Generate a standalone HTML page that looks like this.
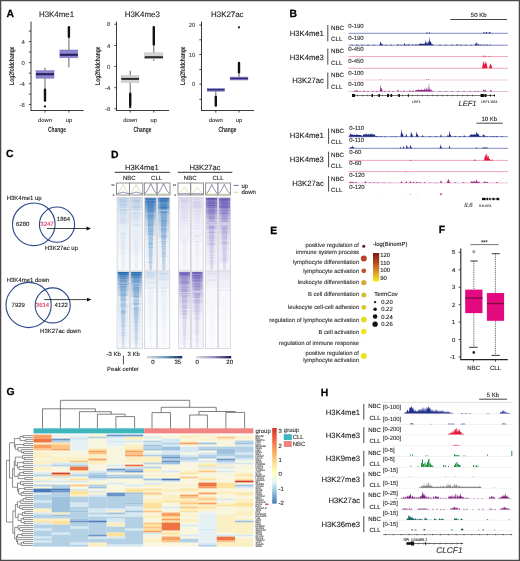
<!DOCTYPE html>
<html><head><meta charset="utf-8"><style>
html,body{margin:0;padding:0;background:#fff;}
svg{display:block;font-family:"Liberation Sans",sans-serif;will-change:transform;filter:blur(0.3px);text-rendering:geometricPrecision;}
</style></head><body>
<svg width="520" height="561" viewBox="0 0 520 561">
<rect width="520" height="561" fill="#fff"/>
<text x="6.6" y="16.89" font-size="10.4" text-anchor="start" font-weight="bold" font-style="normal" fill="#000" stroke="#000" stroke-width="0.25" >A</text>
<line x1="31" y1="21.6" x2="31" y2="110.5" stroke="#222" stroke-width="0.9" />
<line x1="30.55" y1="110.5" x2="83.5" y2="110.5" stroke="#222" stroke-width="0.9" />
<line x1="28.8" y1="31.1" x2="31" y2="31.1" stroke="#222" stroke-width="0.8" />
<line x1="28.8" y1="41.6" x2="31" y2="41.6" stroke="#222" stroke-width="0.8" />
<text x="24.8" y="43.72" font-size="5.9" text-anchor="end" font-weight="normal" font-style="normal" fill="#444" stroke="#444" stroke-width="0.12" >4</text>
<line x1="28.8" y1="52.1" x2="31" y2="52.1" stroke="#222" stroke-width="0.8" />
<line x1="28.8" y1="62.6" x2="31" y2="62.6" stroke="#222" stroke-width="0.8" />
<text x="24.8" y="64.72" font-size="5.9" text-anchor="end" font-weight="normal" font-style="normal" fill="#444" stroke="#444" stroke-width="0.12" >0</text>
<line x1="28.8" y1="73.15" x2="31" y2="73.15" stroke="#222" stroke-width="0.8" />
<line x1="28.8" y1="83.7" x2="31" y2="83.7" stroke="#222" stroke-width="0.8" />
<text x="24.8" y="85.82" font-size="5.9" text-anchor="end" font-weight="normal" font-style="normal" fill="#444" stroke="#444" stroke-width="0.12" >-4</text>
<line x1="28.8" y1="94.15" x2="31" y2="94.15" stroke="#222" stroke-width="0.8" />
<line x1="28.8" y1="104.6" x2="31" y2="104.6" stroke="#222" stroke-width="0.8" />
<text x="24.8" y="106.72" font-size="5.9" text-anchor="end" font-weight="normal" font-style="normal" fill="#444" stroke="#444" stroke-width="0.12" >-8</text>
<text x="56.5" y="16.54" font-size="7.9" text-anchor="middle" font-weight="normal" font-style="normal" fill="#222" stroke="#222" stroke-width="0.12" >H3K4me1</text>
<text x="0" y="0" font-size="7.6" font-weight="bold" text-anchor="middle" fill="#222" transform="translate(57 131.9) scale(0.64 1)">Change</text>
<text x="0" y="0" font-size="7.0" font-weight="bold" text-anchor="middle" fill="#222" transform="translate(14 65.7) rotate(-90) scale(0.71 1)">Log2foldchange</text>
<line x1="45" y1="67.8" x2="45" y2="70.7" stroke="#555" stroke-width="0.9" />
<line x1="45" y1="78.2" x2="45" y2="89.5" stroke="#555" stroke-width="0.9" />
<rect x="43.8" y="88.5" width="2.4" height="13.3" rx="1.2" fill="#111"/>
<circle cx="45" cy="106.4" r="1.1" fill="#111" />
<rect x="36" y="70.7" width="18" height="7.5" fill="#8b83cc" stroke="#7a72bd" stroke-width="0.5"/>
<rect x="36" y="73.2" width="18" height="2" fill="#221c5c" />
<line x1="45" y1="110.5" x2="45" y2="112.6" stroke="#222" stroke-width="0.8" />
<text x="45" y="122.29" font-size="5.8" text-anchor="middle" font-weight="normal" font-style="normal" fill="#333" stroke="#333" stroke-width="0.12" >down</text>
<line x1="68.9" y1="37.5" x2="68.9" y2="50" stroke="#555" stroke-width="0.9" />
<line x1="68.9" y1="57.8" x2="68.9" y2="67.3" stroke="#555" stroke-width="0.9" />
<rect x="67.7" y="26" width="2.4" height="12" rx="1.2" fill="#111"/>
<rect x="59.9" y="50" width="17.9" height="7.8" fill="#8b83cc" stroke="#7a72bd" stroke-width="0.5"/>
<rect x="59.9" y="53.8" width="17.9" height="2" fill="#221c5c" />
<line x1="68.9" y1="110.5" x2="68.9" y2="112.6" stroke="#222" stroke-width="0.8" />
<text x="68.9" y="122.29" font-size="5.8" text-anchor="middle" font-weight="normal" font-style="normal" fill="#333" stroke="#333" stroke-width="0.12" >up</text>
<line x1="116.5" y1="21.6" x2="116.5" y2="110.5" stroke="#222" stroke-width="0.9" />
<line x1="116.05" y1="110.5" x2="169" y2="110.5" stroke="#222" stroke-width="0.9" />
<line x1="114.3" y1="24.2" x2="116.5" y2="24.2" stroke="#222" stroke-width="0.8" />
<text x="110.3" y="26.32" font-size="5.9" text-anchor="end" font-weight="normal" font-style="normal" fill="#444" stroke="#444" stroke-width="0.12" >8</text>
<line x1="114.3" y1="45.5" x2="116.5" y2="45.5" stroke="#222" stroke-width="0.8" />
<text x="110.3" y="47.62" font-size="5.9" text-anchor="end" font-weight="normal" font-style="normal" fill="#444" stroke="#444" stroke-width="0.12" >4</text>
<line x1="114.3" y1="66.4" x2="116.5" y2="66.4" stroke="#222" stroke-width="0.8" />
<text x="110.3" y="68.52" font-size="5.9" text-anchor="end" font-weight="normal" font-style="normal" fill="#444" stroke="#444" stroke-width="0.12" >0</text>
<line x1="114.3" y1="87.7" x2="116.5" y2="87.7" stroke="#222" stroke-width="0.8" />
<text x="110.3" y="89.82" font-size="5.9" text-anchor="end" font-weight="normal" font-style="normal" fill="#444" stroke="#444" stroke-width="0.12" >-4</text>
<line x1="114.3" y1="108.8" x2="116.5" y2="108.8" stroke="#222" stroke-width="0.8" />
<text x="110.3" y="110.92" font-size="5.9" text-anchor="end" font-weight="normal" font-style="normal" fill="#444" stroke="#444" stroke-width="0.12" >-8</text>
<text x="142.3" y="16.54" font-size="7.9" text-anchor="middle" font-weight="normal" font-style="normal" fill="#222" stroke="#222" stroke-width="0.12" >H3K4me3</text>
<text x="0" y="0" font-size="7.6" font-weight="bold" text-anchor="middle" fill="#222" transform="translate(142.5 131.9) scale(0.64 1)">Change</text>
<text x="0" y="0" font-size="7.0" font-weight="bold" text-anchor="middle" fill="#222" transform="translate(99.5 65.7) rotate(-90) scale(0.71 1)">Log2foldchange</text>
<line x1="130.2" y1="70.7" x2="130.2" y2="75.6" stroke="#555" stroke-width="0.9" />
<line x1="130.2" y1="82.5" x2="130.2" y2="93" stroke="#555" stroke-width="0.9" />
<rect x="129" y="92.5" width="2.4" height="14" rx="1.2" fill="#111"/>
<circle cx="130.2" cy="107.2" r="1.1" fill="#111" />
<rect x="121.3" y="75.6" width="17.7" height="6.9" fill="#d2d2d2" stroke="#bdbdbd" stroke-width="0.5"/>
<rect x="121.3" y="77.9" width="17.7" height="2" fill="#2a2a2a" />
<line x1="130.2" y1="110.5" x2="130.2" y2="112.6" stroke="#222" stroke-width="0.8" />
<text x="130.2" y="122.29" font-size="5.8" text-anchor="middle" font-weight="normal" font-style="normal" fill="#333" stroke="#333" stroke-width="0.12" >down</text>
<line x1="153.8" y1="45" x2="153.8" y2="52.8" stroke="#555" stroke-width="0.9" />
<line x1="153.8" y1="58.8" x2="153.8" y2="60.8" stroke="#555" stroke-width="0.9" />
<rect x="152.6" y="26" width="2.4" height="19.5" rx="1.2" fill="#111"/>
<rect x="144.7" y="52.8" width="18.2" height="6" fill="#d2d2d2" stroke="#bdbdbd" stroke-width="0.5"/>
<rect x="144.7" y="56.2" width="18.2" height="2" fill="#2a2a2a" />
<line x1="153.8" y1="110.5" x2="153.8" y2="112.6" stroke="#222" stroke-width="0.8" />
<text x="153.8" y="122.29" font-size="5.8" text-anchor="middle" font-weight="normal" font-style="normal" fill="#333" stroke="#333" stroke-width="0.12" >up</text>
<line x1="201.5" y1="21.6" x2="201.5" y2="110.5" stroke="#222" stroke-width="0.9" />
<line x1="201.05" y1="110.5" x2="254" y2="110.5" stroke="#222" stroke-width="0.9" />
<line x1="199.3" y1="25.1" x2="201.5" y2="25.1" stroke="#222" stroke-width="0.8" />
<text x="195.3" y="27.22" font-size="5.9" text-anchor="end" font-weight="normal" font-style="normal" fill="#444" stroke="#444" stroke-width="0.12" >20</text>
<line x1="199.3" y1="39.8" x2="201.5" y2="39.8" stroke="#222" stroke-width="0.8" />
<line x1="199.3" y1="54.5" x2="201.5" y2="54.5" stroke="#222" stroke-width="0.8" />
<text x="195.3" y="56.62" font-size="5.9" text-anchor="end" font-weight="normal" font-style="normal" fill="#444" stroke="#444" stroke-width="0.12" >10</text>
<line x1="199.3" y1="69.5" x2="201.5" y2="69.5" stroke="#222" stroke-width="0.8" />
<line x1="199.3" y1="84.2" x2="201.5" y2="84.2" stroke="#222" stroke-width="0.8" />
<text x="195.3" y="86.32" font-size="5.9" text-anchor="end" font-weight="normal" font-style="normal" fill="#444" stroke="#444" stroke-width="0.12" >0</text>
<line x1="199.3" y1="99.4" x2="201.5" y2="99.4" stroke="#222" stroke-width="0.8" />
<text x="227.3" y="16.54" font-size="7.9" text-anchor="middle" font-weight="normal" font-style="normal" fill="#222" stroke="#222" stroke-width="0.12" >H3K27ac</text>
<text x="0" y="0" font-size="7.6" font-weight="bold" text-anchor="middle" fill="#222" transform="translate(227.5 131.9) scale(0.64 1)">Change</text>
<text x="0" y="0" font-size="7.0" font-weight="bold" text-anchor="middle" fill="#222" transform="translate(184.5 65.7) rotate(-90) scale(0.71 1)">Log2foldchange</text>
<line x1="215.8" y1="88.4" x2="215.8" y2="88.4" stroke="#555" stroke-width="0.9" />
<line x1="215.8" y1="91.2" x2="215.8" y2="95.5" stroke="#555" stroke-width="0.9" />
<rect x="214.6" y="95.5" width="2.4" height="11.3" rx="1.2" fill="#111"/>
<rect x="207.2" y="88.4" width="17.3" height="2.8" fill="#8b83cc" stroke="#7a72bd" stroke-width="0.5"/>
<rect x="207.2" y="89.15" width="17.3" height="1.3" fill="#2a2468" />
<line x1="215.8" y1="110.5" x2="215.8" y2="112.6" stroke="#222" stroke-width="0.8" />
<text x="215.8" y="122.29" font-size="5.8" text-anchor="middle" font-weight="normal" font-style="normal" fill="#333" stroke="#333" stroke-width="0.12" >down</text>
<line x1="239" y1="73" x2="239" y2="77" stroke="#555" stroke-width="0.9" />
<line x1="239" y1="80" x2="239" y2="80" stroke="#555" stroke-width="0.9" />
<rect x="237.8" y="61.7" width="2.4" height="11.8" rx="1.2" fill="#111"/>
<circle cx="239" cy="27.3" r="1.1" fill="#111" />
<rect x="230.2" y="77" width="17.7" height="3" fill="#8b83cc" stroke="#7a72bd" stroke-width="0.5"/>
<rect x="230.2" y="77.85" width="17.7" height="1.3" fill="#2a2468" />
<line x1="239" y1="110.5" x2="239" y2="112.6" stroke="#222" stroke-width="0.8" />
<text x="239" y="122.29" font-size="5.8" text-anchor="middle" font-weight="normal" font-style="normal" fill="#333" stroke="#333" stroke-width="0.12" >up</text>
<text x="289.4" y="16.59" font-size="10.4" text-anchor="start" font-weight="bold" font-style="normal" fill="#000" stroke="#000" stroke-width="0.25" >B</text>
<text x="323.9" y="36.37" font-size="7.7" text-anchor="end" font-weight="normal" font-style="normal" fill="#222" stroke="#222" stroke-width="0.12" >H3K4me1</text>
<line x1="327.8" y1="25" x2="327.8" y2="41.5" stroke="#333" stroke-width="0.9" />
<text x="331" y="29.53" font-size="6.2" text-anchor="start" font-weight="normal" font-style="normal" fill="#222" stroke="#222" stroke-width="0.12" >NBC</text>
<text x="331" y="41.23" font-size="6.2" text-anchor="start" font-weight="normal" font-style="normal" fill="#222" stroke="#222" stroke-width="0.12" >CLL</text>
<text x="323.9" y="59.57" font-size="7.7" text-anchor="end" font-weight="normal" font-style="normal" fill="#222" stroke="#222" stroke-width="0.12" >H3K4me3</text>
<line x1="327.8" y1="48.5" x2="327.8" y2="64.7" stroke="#333" stroke-width="0.9" />
<text x="331" y="53.23" font-size="6.2" text-anchor="start" font-weight="normal" font-style="normal" fill="#222" stroke="#222" stroke-width="0.12" >NBC</text>
<text x="331" y="65.23" font-size="6.2" text-anchor="start" font-weight="normal" font-style="normal" fill="#222" stroke="#222" stroke-width="0.12" >CLL</text>
<text x="323.9" y="83.47" font-size="7.7" text-anchor="end" font-weight="normal" font-style="normal" fill="#222" stroke="#222" stroke-width="0.12" >H3K27ac</text>
<line x1="327.8" y1="72.5" x2="327.8" y2="89" stroke="#333" stroke-width="0.9" />
<text x="331" y="77.23" font-size="6.2" text-anchor="start" font-weight="normal" font-style="normal" fill="#222" stroke="#222" stroke-width="0.12" >NBC</text>
<text x="331" y="88.93" font-size="6.2" text-anchor="start" font-weight="normal" font-style="normal" fill="#222" stroke="#222" stroke-width="0.12" >CLL</text>
<text x="478.7" y="16.86" font-size="6" text-anchor="middle" font-weight="normal" font-style="normal" fill="#222" stroke="#222" stroke-width="0.12" >50 Kb</text>
<line x1="450.4" y1="19.5" x2="507" y2="19.5" stroke="#444" stroke-width="1" />
<text x="348.3" y="27.86" font-size="6" text-anchor="start" font-weight="normal" font-style="normal" fill="#333" stroke="#333" stroke-width="0.12" >0-190</text>
<line x1="348.5" y1="33.3" x2="508" y2="33.3" stroke="#4a56a8" stroke-width="0.7" />
<text x="348.3" y="39.76" font-size="6" text-anchor="start" font-weight="normal" font-style="normal" fill="#333" stroke="#333" stroke-width="0.12" >0-190</text>
<line x1="348.5" y1="45.2" x2="508" y2="45.2" stroke="#4a56a8" stroke-width="0.7" />
<text x="348.3" y="51.16" font-size="6" text-anchor="start" font-weight="normal" font-style="normal" fill="#333" stroke="#333" stroke-width="0.12" >0-450</text>
<line x1="348.5" y1="56.6" x2="508" y2="56.6" stroke="#ea7f9a" stroke-width="0.7" />
<text x="348.3" y="62.86" font-size="6" text-anchor="start" font-weight="normal" font-style="normal" fill="#333" stroke="#333" stroke-width="0.12" >0-450</text>
<line x1="348.5" y1="68.3" x2="508" y2="68.3" stroke="#ea7f9a" stroke-width="0.7" />
<text x="348.3" y="74.56" font-size="6" text-anchor="start" font-weight="normal" font-style="normal" fill="#333" stroke="#333" stroke-width="0.12" >0-100</text>
<line x1="348.5" y1="80" x2="508" y2="80" stroke="#edb9d6" stroke-width="0.7" />
<text x="348.3" y="86.06" font-size="6" text-anchor="start" font-weight="normal" font-style="normal" fill="#333" stroke="#333" stroke-width="0.12" >0-100</text>
<line x1="348.5" y1="91.5" x2="508" y2="91.5" stroke="#d9a0c8" stroke-width="0.7" />
<path d="M348.5 33.3L348.5 33.3L425.5 33.29L426 33.15L426.5 32.61L427 32.32L427.5 32.87L428 33.24L428.5 33.18L429 32.63L429.5 32.1L430 32.63L430.5 33.18L431 33.29L482.5 33.28L483 33.11L483.5 32.54L484 32.1L484.5 32.54L485 33.11L485.5 33.06L486 32.36L486.5 31.8L487 32.36L487.5 33.06L488 33.28L488.5 33.06L489 32.36L489.5 31.8L490 32.36L490.5 33.02L491 32.5L491.5 33.02L492 33.29L508 33.3L508 33.3Z" fill="#1e2a80" opacity="1"/>
<path d="M348.5 45.2L348.5 45.2L350.5 45.18L351 45.09L351.5 44.86L352 44.7L352.5 44.86L353 45.09L353.5 45.18L355.5 45.18L356 45.07L356.5 44.79L357 44.6L357.5 44.79L358 45.07L358.5 45.18L360.5 45.18L361 45.09L361.5 44.86L362 44.7L362.5 44.86L363 45.09L363.5 45.18L366.5 45.18L367 45.07L367.5 44.79L368 44.6L368.5 44.79L369 45.07L369.5 45.18L372.5 45.18L373 45.07L373.5 44.79L374 44.6L374.5 44.79L375 45.07L375.5 45.18L379 45.19L379.5 44.98L380 43.57L380.5 41.49L381 42.59L381.5 44.37L382 43.7L382.5 44.37L383 45.06L383.5 45.19L384.5 45.18L385 45.09L385.5 44.86L386 44.7L386.5 44.86L387 45.09L387.5 45.18L389.5 45.18L390 45.07L390.5 44.79L391 44.6L391.5 44.79L392 45.07L392.5 45.18L396.5 45.2L397 45.13L397.5 44.5L398 43.7L398.5 44.5L399 45.13L399.5 45.2L400 45.17L400.5 44.92L401 44.6L401.5 44.92L402 45.17L403 45.18L403.5 44.9L404 43.83L404.5 43.25L405 44.34L405.5 45.08L406 45.12L406.5 44.75L407 44.4L407.5 44.75L408 45.12L408.5 44.5L409 43.7L409.5 44.5L410 45.13L410.5 45.2L411 45.2L411.5 45.14L412 44.77L412.5 44.22L413 44.51L413.5 45.05L414 45.19L414.5 45.19L415 45.08L415.5 44.53L416 44L416.5 44.53L417 45.08L417.5 45.19L418 45.13L418.5 44.5L419 43.7L419.5 43.9L420 43.9L420.5 43.67L421 42.78L421.5 43.9L422 43.9L422.5 43.9L423 43.2L423.5 43.9L424 43.9L424.5 43.9L425 42.38L425.5 39.92L426 43.9L426.5 41.84L427 43.4L427.5 43.9L428 40.97L428.5 41.76L429 43.61L429.5 36.16L430 40.9L430.5 42.11L431 41.39L431.5 43.9L432 44.53L432.5 44L433 44.53L433.5 45.08L434 45.19L438.5 45.18L439 45.09L439.5 44.86L440 44.7L440.5 44.86L441 45.09L441.5 45.18L444.5 45.18L445 45.09L445.5 44.86L446 44.7L446.5 44.86L447 45.09L447.5 45.18L450.5 45.18L451 45.07L451.5 44.79L452 44.6L452.5 44.79L453 45.07L453.5 45.18L455 45.2L455.5 45.17L456 45L456.5 44.58L457 44.3L457.5 44.58L458 45L458.5 45.17L459 45.2L459.5 45.17L460 45.02L460.5 44.65L461 44.4L461.5 44.65L462 45.02L462.5 45.17L464.5 45.18L465 45.09L465.5 44.86L466 44.7L466.5 44.86L467 45.09L467.5 45.18L469.5 45.18L470 45.09L470.5 44.86L471 44.7L471.5 44.86L472 45.09L472.5 45.18L474 45.2L474.5 45.11L475 44.27L475.5 43.2L476 44.27L476.5 42.87L477 42.05L477.5 44.99L478 44.48L478.5 43.9L479 44.48L479.5 45.08L480 45.1L480.5 44.64L481 44.2L481.5 44.64L482 45.1L482.5 45.19L483 45.12L483.5 44.75L484 44.4L484.5 44.75L485 45.12L485.5 45.19L486 45.1L486.5 44.64L487 44.2L487.5 44.64L488 45.1L488.5 45.19L489 45.14L489.5 44.87L490 44.6L490.5 44.87L491 45.14L491.5 45.2L508 45.2L508 45.2Z" fill="#1e2a80" opacity="1"/>
<path d="M348.5 56.6L348.5 56.6L482 56.58L482.5 56.41L483 55.84L483.5 55.4L484 55.84L484.5 56.41L485 56.04L485.5 55.6L486 56.04L486.5 56.5L487 56.59L488 56.6L488.5 56.51L489 56.1L489.5 55.7L490 56.1L490.5 56.51L491 56.6L508 56.6L508 56.6Z" fill="#e3173e" opacity="1"/>
<path d="M348.5 68.3L348.5 68.3L481.5 68.29L482 68.09L482.5 66.56L483 62.5L483.5 60.64L484 64.3L484.5 64.85L485 61.52L485.5 62.01L486 64.18L486.5 62.44L487 65.72L487.5 67.95L488 68.29L488.5 68.29L489 68.12L489.5 66.62L490 63.47L490.5 64.01L491 64.76L491.5 65.26L492 67.74L492.5 68.28L508 68.3L508 68.3Z" fill="#e3173e" opacity="1"/>
<path d="M348.5 80L348.5 80L379.5 80L380 79.91L380.5 79.62L381 79.79L381.5 79.99L425.5 79.98L426 79.64L426.5 79.33L427 79.84L427.5 80L428 79.9L428.5 79.32L429 79.45L429.5 79.94L430 80L508 80L508 80Z" fill="#8e2c8c" opacity="1"/>
<path d="M348.5 91.5L348.5 91.5L353.5 91.49L354 91.36L354.5 90.67L355 90L355.5 90.67L356 91.31L356.5 90.39L357 89.5L357.5 90.39L358 91.31L358.5 91.47L359 91.32L359.5 90.95L360 90.7L360.5 90.95L361 91.32L361.5 91.47L362 91.5L362.5 91.47L363 91.28L363.5 90.81L364 90.5L364.5 90.81L365 91.28L365.5 91.47L366 91.5L366.5 91.48L367 91.34L367.5 91.02L368 90.8L368.5 91.02L369 91.34L369.5 91.48L371.5 91.48L372 91.37L372.5 91.09L373 90.9L373.5 91.09L374 91.37L374.5 91.48L375.5 91.47L376 91.32L376.5 90.95L377 90.7L377.5 90.95L378 91.32L378.5 91.47L379.5 91.48L380 90.24L380.5 84.36L381 88.11L381.5 88.75L382 88.11L382.5 90.98L383 91.49L383.5 91.49L384 91.4L384.5 90.94L385 90.5L385.5 90.94L386 91.4L386.5 91.49L387.5 91.49L388 91.4L388.5 90.94L389 90.5L389.5 90.94L390 91.4L390.5 91.49L391.5 91.48L392 91.37L392.5 91.09L393 90.9L393.5 91.09L394 91.37L394.5 91.48L396.5 91.5L397 91.41L397.5 90.57L398 89.5L398.5 90.57L399 91.41L399.5 91.5L400 91.42L400.5 91.05L401 90.7L401.5 91.05L402 91.42L402.5 91.49L403 91.38L403.5 90.83L404 90.3L404.5 90.83L405 91.38L405.5 91.49L406 91.44L406.5 91.17L407 90.9L407.5 91.17L408 91.44L408.5 91.49L409 91.36L409.5 90.67L410 90L410.5 90.67L411 91.36L411.5 91.49L412 91.37L412.5 90.72L413 90.1L413.5 90.72L414 91.37L414.5 91.38L415 90.83L415.5 90.3L416 90.83L416.5 90.1L417 90.1L417.5 90.1L418 89L418.5 90.1L419 90.1L419.5 90.1L420 89.5L420.5 90.1L421 90.1L421.5 89.44L422 88.96L422.5 90.1L423 90.1L423.5 90.1L424 90.1L424.5 89.34L425 87.47L425.5 90.1L426 90.1L426.5 88.93L427 86.7L427.5 90.1L428 90.1L428.5 89.04L429 83L429.5 89.04L430 90.1L430.5 90.1L431 88.5L431.5 90.1L432 91.4L432.5 90.94L433 90.5L433.5 90.94L434 91.4L434.5 91.49L438.5 91.48L439 91.37L439.5 91.09L440 90.9L440.5 91.09L441 91.37L441.5 91.48L444.5 91.48L445 91.34L445.5 91.02L446 90.8L446.5 91.02L447 91.34L447.5 91.48L450.5 91.48L451 91.37L451.5 91.09L452 90.9L452.5 91.09L453 91.37L453.5 91.48L456.5 91.47L457 91.32L457.5 90.95L458 90.7L458.5 90.95L459 91.32L459.5 91.47L462.5 91.48L463 91.34L463.5 91.02L464 90.8L464.5 91.02L465 91.34L465.5 91.48L468.5 91.47L469 91.32L469.5 90.95L470 90.7L470.5 90.95L471 91.32L471.5 91.47L473.5 91.47L474 91.32L474.5 90.95L475 90.7L475.5 90.95L476 91.32L476.5 91.47L477 91.34L477.5 91.02L478 90.8L478.5 91.02L479 91.34L479.5 91.48L482.5 91.49L483 91.15L483.5 89.6L484 89.29L484.5 90.94L485 89.55L485.5 89.83L486 91.19L486.5 91.49L489.5 91.49L490 91.22L490.5 89.98L491 89.73L491.5 91.05L492 91.48L508 91.5L508 91.5Z" fill="#8e2c8c" opacity="1"/>
<line x1="352" y1="95.5" x2="495" y2="95.5" stroke="#222" stroke-width="0.6" />
<path d="M358 95.5 l-1 -0.9 M358 95.5 l-1 0.9" stroke="#222" stroke-width="0.4" fill="none"/>
<path d="M363 95.5 l-1 -0.9 M363 95.5 l-1 0.9" stroke="#222" stroke-width="0.4" fill="none"/>
<path d="M368 95.5 l-1 -0.9 M368 95.5 l-1 0.9" stroke="#222" stroke-width="0.4" fill="none"/>
<path d="M373 95.5 l-1 -0.9 M373 95.5 l-1 0.9" stroke="#222" stroke-width="0.4" fill="none"/>
<path d="M378 95.5 l-1 -0.9 M378 95.5 l-1 0.9" stroke="#222" stroke-width="0.4" fill="none"/>
<path d="M383 95.5 l-1 -0.9 M383 95.5 l-1 0.9" stroke="#222" stroke-width="0.4" fill="none"/>
<path d="M388 95.5 l-1 -0.9 M388 95.5 l-1 0.9" stroke="#222" stroke-width="0.4" fill="none"/>
<path d="M393 95.5 l-1 -0.9 M393 95.5 l-1 0.9" stroke="#222" stroke-width="0.4" fill="none"/>
<path d="M398 95.5 l-1 -0.9 M398 95.5 l-1 0.9" stroke="#222" stroke-width="0.4" fill="none"/>
<path d="M403 95.5 l-1 -0.9 M403 95.5 l-1 0.9" stroke="#222" stroke-width="0.4" fill="none"/>
<path d="M408 95.5 l-1 -0.9 M408 95.5 l-1 0.9" stroke="#222" stroke-width="0.4" fill="none"/>
<path d="M413 95.5 l-1 -0.9 M413 95.5 l-1 0.9" stroke="#222" stroke-width="0.4" fill="none"/>
<path d="M418 95.5 l-1 -0.9 M418 95.5 l-1 0.9" stroke="#222" stroke-width="0.4" fill="none"/>
<path d="M423 95.5 l-1 -0.9 M423 95.5 l-1 0.9" stroke="#222" stroke-width="0.4" fill="none"/>
<path d="M428 95.5 l-1 -0.9 M428 95.5 l-1 0.9" stroke="#222" stroke-width="0.4" fill="none"/>
<path d="M433 95.5 l-1 -0.9 M433 95.5 l-1 0.9" stroke="#222" stroke-width="0.4" fill="none"/>
<path d="M438 95.5 l-1 -0.9 M438 95.5 l-1 0.9" stroke="#222" stroke-width="0.4" fill="none"/>
<path d="M443 95.5 l-1 -0.9 M443 95.5 l-1 0.9" stroke="#222" stroke-width="0.4" fill="none"/>
<path d="M448 95.5 l-1 -0.9 M448 95.5 l-1 0.9" stroke="#222" stroke-width="0.4" fill="none"/>
<path d="M453 95.5 l-1 -0.9 M453 95.5 l-1 0.9" stroke="#222" stroke-width="0.4" fill="none"/>
<path d="M458 95.5 l-1 -0.9 M458 95.5 l-1 0.9" stroke="#222" stroke-width="0.4" fill="none"/>
<path d="M463 95.5 l-1 -0.9 M463 95.5 l-1 0.9" stroke="#222" stroke-width="0.4" fill="none"/>
<path d="M468 95.5 l-1 -0.9 M468 95.5 l-1 0.9" stroke="#222" stroke-width="0.4" fill="none"/>
<path d="M473 95.5 l-1 -0.9 M473 95.5 l-1 0.9" stroke="#222" stroke-width="0.4" fill="none"/>
<rect x="352" y="94" width="3" height="3" fill="#111" />
<rect x="371.5" y="94" width="1.5" height="3" fill="#111" />
<rect x="378.5" y="94" width="1.5" height="3" fill="#111" />
<rect x="387" y="94" width="2" height="3" fill="#111" />
<rect x="390.5" y="94" width="1.5" height="3" fill="#111" />
<rect x="398.5" y="94" width="1.5" height="3" fill="#111" />
<rect x="408" y="94" width="0.8" height="3" fill="#111" />
<rect x="480.5" y="94" width="3.5" height="3" fill="#111" />
<rect x="484.5" y="94" width="2" height="3" fill="#111" />
<path d="M489 95.5 l2 -1.3 v2.6 Z M493 95.5 l2 -1.3 v2.6 Z" fill="#111"/>
<text x="416.5" y="102.7" font-size="3.6" text-anchor="middle" font-weight="normal" font-style="normal" fill="#333" stroke="#333" stroke-width="0.12" >LEF1</text>
<text x="489.4" y="102.7" font-size="3.6" text-anchor="middle" font-weight="normal" font-style="normal" fill="#333" stroke="#333" stroke-width="0.12" >LEF1-AS1</text>
<text x="467.5" y="106.34" font-size="7.6" text-anchor="middle" font-weight="normal" font-style="italic" fill="#333" stroke="#333" stroke-width="0.12" >LEF1</text>
<text x="323.9" y="138.47" font-size="7.7" text-anchor="end" font-weight="normal" font-style="normal" fill="#222" stroke="#222" stroke-width="0.12" >H3K4me1</text>
<line x1="328.6" y1="128.4" x2="328.6" y2="143.9" stroke="#333" stroke-width="0.9" />
<text x="331" y="132.83" font-size="6.2" text-anchor="start" font-weight="normal" font-style="normal" fill="#222" stroke="#222" stroke-width="0.12" >NBC</text>
<text x="331" y="144.43" font-size="6.2" text-anchor="start" font-weight="normal" font-style="normal" fill="#222" stroke="#222" stroke-width="0.12" >CLL</text>
<text x="323.9" y="162.27" font-size="7.7" text-anchor="end" font-weight="normal" font-style="normal" fill="#222" stroke="#222" stroke-width="0.12" >H3K4me3</text>
<line x1="328.6" y1="151.7" x2="328.6" y2="167.3" stroke="#333" stroke-width="0.9" />
<text x="331" y="156.53" font-size="6.2" text-anchor="start" font-weight="normal" font-style="normal" fill="#222" stroke="#222" stroke-width="0.12" >NBC</text>
<text x="331" y="168.13" font-size="6.2" text-anchor="start" font-weight="normal" font-style="normal" fill="#222" stroke="#222" stroke-width="0.12" >CLL</text>
<text x="323.9" y="186.47" font-size="7.7" text-anchor="end" font-weight="normal" font-style="normal" fill="#222" stroke="#222" stroke-width="0.12" >H3K27ac</text>
<line x1="328.6" y1="176" x2="328.6" y2="191.5" stroke="#333" stroke-width="0.9" />
<text x="331" y="180.73" font-size="6.2" text-anchor="start" font-weight="normal" font-style="normal" fill="#222" stroke="#222" stroke-width="0.12" >NBC</text>
<text x="331" y="192.03" font-size="6.2" text-anchor="start" font-weight="normal" font-style="normal" fill="#222" stroke="#222" stroke-width="0.12" >CLL</text>
<text x="489.3" y="120.66" font-size="6" text-anchor="middle" font-weight="normal" font-style="normal" fill="#222" stroke="#222" stroke-width="0.12" >10 Kb</text>
<line x1="476.4" y1="123.2" x2="502.7" y2="123.2" stroke="#444" stroke-width="1" />
<text x="349.3" y="130.46" font-size="6" text-anchor="start" font-weight="normal" font-style="normal" fill="#333" stroke="#333" stroke-width="0.12" >0-110</text>
<line x1="348.5" y1="136.7" x2="508" y2="136.7" stroke="#4a56a8" stroke-width="0.7" />
<text x="349.3" y="142.06" font-size="6" text-anchor="start" font-weight="normal" font-style="normal" fill="#333" stroke="#333" stroke-width="0.12" >0-110</text>
<line x1="348.5" y1="148.3" x2="508" y2="148.3" stroke="#4a56a8" stroke-width="0.7" />
<text x="349.3" y="154.16" font-size="6" text-anchor="start" font-weight="normal" font-style="normal" fill="#333" stroke="#333" stroke-width="0.12" >0-60</text>
<line x1="348.5" y1="160.4" x2="508" y2="160.4" stroke="#ea7f9a" stroke-width="0.7" />
<text x="349.3" y="165.36" font-size="6" text-anchor="start" font-weight="normal" font-style="normal" fill="#333" stroke="#333" stroke-width="0.12" >0-60</text>
<line x1="348.5" y1="171.6" x2="508" y2="171.6" stroke="#ea7f9a" stroke-width="0.7" />
<text x="349.3" y="176.66" font-size="6" text-anchor="start" font-weight="normal" font-style="normal" fill="#333" stroke="#333" stroke-width="0.12" >0-120</text>
<line x1="348.5" y1="182.9" x2="508" y2="182.9" stroke="#e0a8c8" stroke-width="0.7" />
<text x="349.3" y="188.76" font-size="6" text-anchor="start" font-weight="normal" font-style="normal" fill="#333" stroke="#333" stroke-width="0.12" >0-120</text>
<path d="M348.5 136.7L348.5 136.7L349 136.7L349.5 134.9L350 134.84L350.5 132.7L351 134.84L351.5 134.64L352 133.7L352.5 134.64L353 134.9L353.5 134.9L354 134.9L354.5 134.2L355 134.9L355.5 134.9L356 134.9L356.5 134.78L357 133.9L357.5 134.78L358 134.9L358.5 134.9L359 134.9L359.5 134.7L360 134.9L360.5 134.9L361 134.9L361.5 135.33L362 136.22L362.5 136.61L363 134.5L363.5 134.5L364 134.2L364.5 134.5L365 134.5L365.5 134.5L366 132.9L366.5 134.5L367 134.5L367.5 134.5L368 134.5L368.5 133.7L369 134.5L369.5 134.5L370 134.5L370.5 133.5L371 134.5L371.5 134.5L372 132.9L372.5 134.5L373 134.5L373.5 134.5L374 134.5L374.5 134.5L375 134.5L375.5 136.58L376 136.42L376.5 136.08L377 135.9L377.5 136.08L378 136.42L378.5 136.62L379 136.69L379.5 136.65L380 136.52L380.5 136.31L381 136.2L381.5 136.31L382 136.52L382.5 136.65L383 136.69L383.5 136.69L384 136.61L384.5 136.43L385 136.3L385.5 136.43L386 136.61L386.5 136.69L390.5 136.69L391 136.61L391.5 136.43L392 136.3L392.5 136.43L393 136.61L393.5 136.69L394.5 136.69L395 136.61L395.5 136.43L396 136.3L396.5 136.43L397 136.61L397.5 136.69L400 136.7L400.5 136.41L401 132.28L401.5 128.45L402 134.78L402.5 132.82L403 134.25L403.5 136.36L404 136.69L405 136.68L405.5 136.28L406 134.42L406.5 134.05L407 136.03L407.5 136.66L408 136.7L410 136.69L410.5 135.96L411 131.88L411.5 132.78L412 134.49L412.5 134.8L413 136.35L413.5 136.69L415 136.7L415.5 136.66L416 135.43L416.5 131.23L417 133.77L417.5 134.28L418 135.17L418.5 136.49L419 136.69L421 136.69L421.5 136.54L422 135.93L422.5 135.23L423 135.58L423.5 136.37L424 136.66L424.5 136.7L428.5 136.68L429 136.59L429.5 136.36L430 136.2L430.5 136.36L431 136.59L431.5 136.68L434.5 136.68L435 136.59L435.5 136.36L436 136.2L436.5 136.36L437 136.59L437.5 136.68L439.5 136.7L440 136.65L440.5 135.64L441 133.7L441.5 135.64L442 136.65L442.5 136.7L446.5 136.7L447 136.56L447.5 135.33L448 135.01L448.5 136.44L449 134.82L449.5 130.2L450 134.82L450.5 134.3L451 135.42L451.5 136.61L452 136.7L453.5 136.68L454 136.57L454.5 136.29L455 136.1L455.5 136.29L456 136.57L456.5 136.68L458.5 136.68L459 136.57L459.5 136.29L460 136.1L460.5 136.29L461 136.57L461.5 136.68L462.5 136.7L463 136.65L463.5 136.22L464 135.33L464.5 135.49L465 136.37L465.5 136.67L468.5 136.69L469 136.56L469.5 135.87L470 135.2L470.5 134.7L471 134.7L471.5 134.28L472 134.7L472.5 134.7L473 134.7L473.5 134.7L474 133.2L474.5 134.7L475 134.7L475.5 134.7L476 134.09L476.5 131.1L477 134.09L477.5 133.61L478 132.89L478.5 134.7L479 134.7L479.5 136.14L480 135.7L480.5 136.14L481 136.6L481.5 136.69L482 136.7L482.5 135.5L483 134.64L483.5 134.16L484 135.5L484.5 135.2L485 135.5L485.5 136.63L486 136.62L486.5 136.25L487 135.9L487.5 136.25L488 136.62L488.5 136.7L489.5 136.7L490 136.62L490.5 136.25L491 135.9L491.5 136.25L492 136.62L492.5 136.7L493 136.62L493.5 136.25L494 135.9L494.5 136.25L495 136.62L495.5 136.69L496 136.55L496.5 136.01L497 135.72L497.5 136.27L498 136.64L498.5 136.7L500.5 136.68L501 136.59L501.5 136.36L502 136.2L502.5 136.36L503 136.59L503.5 136.68L508 136.7L508 136.7Z" fill="#1e2a80" opacity="1"/>
<path d="M348.5 148.3L348.5 148.3L349.5 148.29L350 148.16L350.5 147.47L351 146.8L351.5 147.47L352 146.76L352.5 145.42L353 147.63L353.5 146.85L354 147.38L354.5 148.17L355 148.3L399.5 148.29L400 147.97L400.5 146.86L401 147.53L401.5 148.25L402 148.3L402.5 148.26L403 147.42L403.5 145.8L404 147.42L404.5 148.26L405 148.3L405.5 148.3L406 148.02L406.5 145.55L407 144.91L407.5 147.77L408 146.8L408.5 147.77L409 148.28L409.5 148.16L410 146.25L410.5 144.46L411 147.41L411.5 146.8L412 147.77L412.5 148.28L439.5 148.27L440 147.08L440.5 144.1L441 147.08L441.5 146.8L442 147.77L442.5 148.28L448.5 148.28L449 147.43L449.5 145.3L450 147.43L450.5 148.28L475 148.29L475.5 148.2L476 147.74L476.5 147.3L477 147.74L477.5 148.2L478 148.29L481.5 148.29L482 148.18L482.5 147.63L483 147.1L483.5 147.63L484 148.15L484.5 147.41L485 146.7L485.5 147.41L486 148.15L486.5 147.63L487 147.1L487.5 147.63L488 148.18L488.5 148.29L508 148.3L508 148.3Z" fill="#1e2a80" opacity="1"/>
<path d="M348.5 160.4L348.5 160.4L409 160.39L409.5 160.31L410 159.99L410.5 159.81L411 160.14L411.5 160.36L412 160.4L473.5 160.38L474 160.18L474.5 159.59L475 159.49L475.5 160.08L476 160.37L476.5 160.4L483 160.4L483.5 160.35L484 159.92L484.5 158.1L485 155.16L485.5 154.75L486 157.52L486.5 154.08L487 153.3L487.5 157.93L488 155.76L488.5 156.17L489 158.87L489.5 158.4L490 159.29L490.5 160.21L491 160.3L491.5 159.84L492 159.4L492.5 159.84L493 160.3L493.5 160.39L508 160.4L508 160.4Z" fill="#e3173e" opacity="1"/>
<path d="M348.5 171.6L348.5 171.6L387 171.59L387.5 171.49L388 171.2L388.5 171.14L389 171.44L389.5 171.58L404 171.6L404.5 171.54L405 171.27L405.5 171L406 171.27L406.5 171.54L407 171.6L410 171.58L410.5 171.44L411 171.14L411.5 171.2L412 171.49L412.5 171.59L508 171.6L508 171.6Z" fill="#e3173e" opacity="1"/>
<path d="M348.5 182.9L348.5 182.9L349 182.88L349.5 182.73L350 182.18L350.5 181.49L351 181.59L351.5 182.33L352 182.63L352.5 182.08L353 181.7L353.5 182.08L354 182.63L354.5 182.86L355 182.68L355.5 182.21L356 181.9L356.5 182.21L357 182.68L357.5 182.87L358 182.9L364 182.9L364.5 182.73L365 181.67L365.5 180.96L366 182.24L366.5 182.85L367 182.9L368.5 182.88L369 182.74L369.5 182.42L370 182.2L370.5 182.42L371 182.74L371.5 182.88L372.5 182.88L373 182.74L373.5 182.42L374 182.2L374.5 182.42L375 182.74L375.5 182.88L376.5 182.88L377 182.77L377.5 182.49L378 182.3L378.5 182.49L379 182.77L379.5 182.88L382.5 182.89L383 182.81L383.5 182.63L384 182.5L384.5 182.63L385 182.81L385.5 182.89L388.5 182.89L389 182.81L389.5 182.63L390 182.5L390.5 182.63L391 182.81L391.5 182.89L400 182.9L400.5 182.73L401 181.67L401.5 180.96L402 182.24L402.5 182.85L403 182.9L405 182.89L405.5 182.62L406 181.38L406.5 181.13L407 182.45L407.5 182.88L409 182.89L409.5 182.72L410 181.55L410.5 180.77L411 182.17L411.5 182.85L412 182.9L412.5 182.86L413 182.4L413.5 181.45L414 181.98L414.5 182.77L415 182.9L415.5 182.9L416 182.77L416.5 181.98L417 181.45L417.5 182.4L418 182.86L418.5 182.9L419 182.85L419.5 182.43L420 181.9L420.5 182.43L421 182.85L421.5 182.9L423.5 182.89L424 182.68L424.5 182.02L425 182.14L425.5 182.76L426 182.89L428.5 182.89L429 182.81L429.5 182.63L430 182.5L430.5 182.63L431 182.81L431.5 182.89L434.5 182.89L435 182.81L435.5 182.63L436 182.5L436.5 182.63L437 182.81L437.5 182.89L439.5 182.9L440 182.77L440.5 181.6L441 180.1L441.5 181.6L442 182.77L442.5 182.9L446.5 182.89L447 181.9L447.5 181.06L448 179.99L448.5 179.09L449 179.81L449.5 181.9L450 181.9L450.5 182.9L453.5 182.88L454 182.79L454.5 182.56L455 182.4L455.5 182.56L456 182.79L456.5 182.88L462 182.89L462.5 182.75L463 182.21L463.5 181.92L464 182.47L464.5 182.84L465 182.9L470 182.9L470.5 182.78L471 181.7L471.5 180.95L472 181.53L472.5 181.7L473 181.7L473.5 181.51L474 180.4L474.5 181.51L475 181.7L475.5 181.7L476 181.04L476.5 178.9L477 181.04L477.5 181.7L478 181.7L478.5 182.07L479 181.4L479.5 182.07L480 182.76L480.5 182.89L483 182.9L483.5 182.78L484 182.04L484.5 180.95L485 181.53L485.5 182.6L486 182.76L486.5 182.07L487 181.4L487.5 182.07L488 182.76L488.5 182.89L495.5 182.89L496 182.75L496.5 182.21L497 181.92L497.5 182.47L498 182.84L498.5 182.9L508 182.9L508 182.9Z" fill="#a33a88" opacity="1"/>
<circle cx="382.6" cy="194.3" r="0.5" fill="#e6c8dc" />
<circle cx="405.5" cy="194.3" r="0.5" fill="#e6c8dc" />
<circle cx="410.4" cy="194.3" r="0.6" fill="#d8b0cc" />
<circle cx="416.9" cy="194.3" r="0.5" fill="#e6c8dc" />
<circle cx="441" cy="194.3" r="1" fill="#c04878" />
<rect x="482" y="197.8" width="3.5" height="2.4" fill="#111" />
<rect x="486.5" y="197.8" width="1.5" height="2.4" fill="#111" />
<rect x="489.2" y="197.8" width="1.3" height="2.4" fill="#111" />
<rect x="492.5" y="197.8" width="2" height="2.4" fill="#111" />
<rect x="496.5" y="197.8" width="2.7" height="2.4" fill="#111" />
<line x1="482" y1="199" x2="499.2" y2="199" stroke="#111" stroke-width="0.6" />
<text x="468.5" y="207.36" font-size="6" text-anchor="middle" font-weight="normal" font-style="italic" fill="#444" stroke="#444" stroke-width="0.12" >IL6</text>
<text x="485.2" y="206.5" font-size="3.6" text-anchor="middle" font-weight="normal" font-style="normal" fill="#444" stroke="#444" stroke-width="0.12" >IL6-AS1</text>
<text x="5.9" y="157.39" font-size="10.4" text-anchor="start" font-weight="bold" font-style="normal" fill="#000" stroke="#000" stroke-width="0.25" >C</text>
<text x="6.7" y="200.16" font-size="6" text-anchor="start" font-weight="normal" font-style="normal" fill="#222" stroke="#222" stroke-width="0.12" >H3K4me1 up</text>
<circle cx="33.8" cy="224.3" r="21.3" fill="none" stroke="#2b4a88" stroke-width="1.1"/>
<circle cx="57" cy="224.6" r="17.6" fill="none" stroke="#2b4a88" stroke-width="1.1"/>
<text x="22.7" y="225.86" font-size="6" text-anchor="middle" font-weight="normal" font-style="normal" fill="#222" stroke="#222" stroke-width="0.12" >6280</text>
<text x="47" y="225.86" font-size="6" text-anchor="middle" font-weight="normal" font-style="normal" fill="#d8365a" stroke="#d8365a" stroke-width="0.12" >3247</text>
<text x="63.5" y="221.36" font-size="6" text-anchor="middle" font-weight="normal" font-style="normal" fill="#222" stroke="#222" stroke-width="0.12" >1864</text>
<text x="61.5" y="249.76" font-size="6" text-anchor="middle" font-weight="normal" font-style="normal" fill="#222" stroke="#222" stroke-width="0.12" >H3K27ac up</text>
<line x1="47" y1="228.5" x2="88" y2="228.5" stroke="#111" stroke-width="0.8" />
<path d="M91 228.5 L86.5 226.6 L86.5 230.4 Z" fill="#111"/>
<text x="6.7" y="281.56" font-size="6" text-anchor="start" font-weight="normal" font-style="normal" fill="#222" stroke="#222" stroke-width="0.12" >H3K4me1 down</text>
<circle cx="28.6" cy="305" r="22.6" fill="none" stroke="#2b4a88" stroke-width="1.1"/>
<circle cx="52.7" cy="305.4" r="17.5" fill="none" stroke="#2b4a88" stroke-width="1.1"/>
<text x="18.3" y="306.76" font-size="6" text-anchor="middle" font-weight="normal" font-style="normal" fill="#222" stroke="#222" stroke-width="0.12" >7929</text>
<text x="42.5" y="306.76" font-size="6" text-anchor="middle" font-weight="normal" font-style="normal" fill="#d8365a" stroke="#d8365a" stroke-width="0.12" >3614</text>
<text x="61.3" y="306.76" font-size="6" text-anchor="middle" font-weight="normal" font-style="normal" fill="#222" stroke="#222" stroke-width="0.12" >4122</text>
<text x="60.4" y="332.56" font-size="6" text-anchor="middle" font-weight="normal" font-style="normal" fill="#222" stroke="#222" stroke-width="0.12" >H3K27ac down</text>
<line x1="44.2" y1="299.6" x2="88.5" y2="299.6" stroke="#111" stroke-width="0.8" />
<path d="M91.5 299.6 L87 297.7 L87 301.5 Z" fill="#111"/>
<text x="111.1" y="157.59" font-size="10.4" text-anchor="start" font-weight="bold" font-style="normal" fill="#000" stroke="#000" stroke-width="0.25" >D</text>
<text x="141.9" y="170.34" font-size="7.6" text-anchor="middle" font-weight="normal" font-style="normal" fill="#222" stroke="#222" stroke-width="0.12" >H3K4me1</text>
<text x="205" y="170.14" font-size="7.6" text-anchor="middle" font-weight="normal" font-style="normal" fill="#222" stroke="#222" stroke-width="0.12" >H3K27ac</text>
<line x1="114.6" y1="172.3" x2="170" y2="172.3" stroke="#333" stroke-width="1" />
<line x1="177.7" y1="172.3" x2="232.3" y2="172.3" stroke="#333" stroke-width="1" />
<text x="129.3" y="179.76" font-size="6" text-anchor="middle" font-weight="normal" font-style="normal" fill="#222" stroke="#222" stroke-width="0.12" >NBC</text>
<text x="156.6" y="179.76" font-size="6" text-anchor="middle" font-weight="normal" font-style="normal" fill="#222" stroke="#222" stroke-width="0.12" >CLL</text>
<text x="190.2" y="179.76" font-size="6" text-anchor="middle" font-weight="normal" font-style="normal" fill="#222" stroke="#222" stroke-width="0.12" >NBC</text>
<text x="218" y="179.76" font-size="6" text-anchor="middle" font-weight="normal" font-style="normal" fill="#222" stroke="#222" stroke-width="0.12" >CLL</text>
<rect x="116.6" y="183" width="13" height="12" fill="#fff" stroke="#777" stroke-width="0.8"/>
<polyline points="117.1,193.5 117.4,193.5 117.7,193.34 118,193.06 118.3,192.73 118.6,192.36 118.9,191.96 119.2,191.54 119.5,191.09 119.8,190.62 120.1,190.13 120.4,189.63 120.7,189.11 121,188.58 121.3,188.03 121.6,187.47 121.9,186.9 122.2,186.32 122.5,185.72 122.8,185.12 123.1,184.5 123.4,185.12 123.7,185.72 124,186.32 124.3,186.9 124.6,187.47 124.9,188.03 125.2,188.58 125.5,189.11 125.8,189.63 126.1,190.13 126.4,190.62 126.7,191.09 127,191.54 127.3,191.96 127.6,192.36 127.9,192.73 128.2,193.06 128.5,193.34 128.8,193.5 129.1,193.5" fill="none" stroke="#b9cf78" stroke-width="0.6"/>
<polyline points="117.1,193.6 117.4,193.6 117.7,193.57 118,193.52 118.3,193.46 118.6,193.4 118.9,193.33 119.2,193.25 119.5,193.17 119.8,193.09 120.1,193 120.4,192.91 120.7,192.82 121,192.73 121.3,192.63 121.6,192.53 121.9,192.43 122.2,192.32 122.5,192.22 122.8,192.11 123.1,192 123.4,192.11 123.7,192.22 124,192.32 124.3,192.43 124.6,192.53 124.9,192.63 125.2,192.73 125.5,192.82 125.8,192.91 126.1,193 126.4,193.09 126.7,193.17 127,193.25 127.3,193.33 127.6,193.4 127.9,193.46 128.2,193.52 128.5,193.57 128.8,193.6 129.1,193.6" fill="none" stroke="#2a2f6e" stroke-width="0.6"/>
<rect x="129.6" y="183" width="13.2" height="12" fill="#fff" stroke="#777" stroke-width="0.8"/>
<polyline points="130.1,193.5 130.41,193.5 130.71,193.35 131.01,193.07 131.32,192.74 131.62,192.37 131.93,191.97 132.23,191.54 132.54,191.1 132.84,190.63 133.15,190.14 133.46,189.64 133.76,189.12 134.06,188.58 134.37,188.04 134.68,187.48 134.98,186.9 135.28,186.32 135.59,185.72 135.9,185.12 136.2,184.5 136.5,185.12 136.81,185.72 137.12,186.32 137.42,186.9 137.72,187.48 138.03,188.04 138.34,188.58 138.64,189.12 138.94,189.64 139.25,190.14 139.56,190.63 139.86,191.1 140.17,191.54 140.47,191.97 140.78,192.37 141.08,192.74 141.39,193.07 141.69,193.35 142,193.5 142.3,193.5" fill="none" stroke="#b9cf78" stroke-width="0.6"/>
<polyline points="130.1,193.6 130.41,193.6 130.71,193.57 131.01,193.52 131.32,193.46 131.62,193.4 131.93,193.33 132.23,193.25 132.54,193.17 132.84,193.09 133.15,193 133.46,192.91 133.76,192.82 134.06,192.73 134.37,192.63 134.68,192.53 134.98,192.43 135.28,192.32 135.59,192.22 135.9,192.11 136.2,192 136.5,192.11 136.81,192.22 137.12,192.32 137.42,192.43 137.72,192.53 138.03,192.63 138.34,192.73 138.64,192.82 138.94,192.91 139.25,193 139.56,193.09 139.86,193.17 140.17,193.25 140.47,193.33 140.78,193.4 141.08,193.46 141.39,193.52 141.69,193.57 142,193.6 142.3,193.6" fill="none" stroke="#2a2f6e" stroke-width="0.6"/>
<rect x="144.3" y="183" width="12.8" height="12" fill="#fff" stroke="#777" stroke-width="0.8"/>
<polyline points="144.8,194 145.09,194 145.39,193.99 145.69,193.98 145.98,193.97 146.28,193.95 146.57,193.93 146.87,193.91 147.16,193.89 147.46,193.87 147.75,193.85 148.05,193.83 148.34,193.8 148.64,193.78 148.93,193.76 149.22,193.73 149.52,193.71 149.81,193.68 150.11,193.65 150.41,193.63 150.7,193.6 151,193.63 151.29,193.65 151.59,193.68 151.88,193.71 152.18,193.73 152.47,193.76 152.76,193.78 153.06,193.8 153.35,193.83 153.65,193.85 153.94,193.87 154.24,193.89 154.53,193.91 154.83,193.93 155.12,193.95 155.42,193.97 155.72,193.98 156.01,193.99 156.31,194 156.6,194" fill="none" stroke="#b9cf78" stroke-width="0.6"/>
<polyline points="144.8,193.2 145.09,193.2 145.39,193.03 145.69,192.73 145.98,192.37 146.28,191.98 146.57,191.55 146.87,191.1 147.16,190.62 147.46,190.12 147.75,189.6 148.05,189.07 148.34,188.51 148.64,187.95 148.93,187.36 149.22,186.77 149.52,186.16 149.81,185.54 150.11,184.9 150.41,184.26 150.7,183.6 151,184.26 151.29,184.9 151.59,185.54 151.88,186.16 152.18,186.77 152.47,187.36 152.76,187.95 153.06,188.51 153.35,189.07 153.65,189.6 153.94,190.12 154.24,190.62 154.53,191.1 154.83,191.55 155.12,191.98 155.42,192.37 155.72,192.73 156.01,193.03 156.31,193.2 156.6,193.2" fill="none" stroke="#2a2f6e" stroke-width="0.6"/>
<rect x="157.1" y="183" width="12.9" height="12" fill="#fff" stroke="#777" stroke-width="0.8"/>
<polyline points="157.6,194 157.9,194 158.19,193.99 158.49,193.98 158.79,193.97 159.09,193.95 159.38,193.93 159.68,193.91 159.98,193.89 160.28,193.87 160.57,193.85 160.87,193.83 161.17,193.8 161.47,193.78 161.76,193.76 162.06,193.73 162.36,193.71 162.66,193.68 162.95,193.65 163.25,193.63 163.55,193.6 163.85,193.63 164.15,193.65 164.44,193.68 164.74,193.71 165.04,193.73 165.34,193.76 165.63,193.78 165.93,193.8 166.23,193.83 166.53,193.85 166.82,193.87 167.12,193.89 167.42,193.91 167.72,193.93 168.01,193.95 168.31,193.97 168.61,193.98 168.91,193.99 169.2,194 169.5,194" fill="none" stroke="#b9cf78" stroke-width="0.6"/>
<polyline points="157.6,193.2 157.9,193.2 158.19,193.03 158.49,192.73 158.79,192.38 159.09,191.98 159.38,191.56 159.68,191.1 159.98,190.62 160.28,190.13 160.57,189.61 160.87,189.07 161.17,188.52 161.47,187.95 161.76,187.37 162.06,186.77 162.36,186.16 162.66,185.54 162.95,184.9 163.25,184.26 163.55,183.6 163.85,184.26 164.15,184.9 164.44,185.54 164.74,186.16 165.04,186.77 165.34,187.37 165.63,187.95 165.93,188.52 166.23,189.07 166.53,189.61 166.82,190.13 167.12,190.62 167.42,191.1 167.72,191.56 168.01,191.98 168.31,192.38 168.61,192.73 168.91,193.03 169.2,193.2 169.5,193.2" fill="none" stroke="#2a2f6e" stroke-width="0.6"/>
<rect x="178" y="183" width="12.8" height="12" fill="#fff" stroke="#777" stroke-width="0.8"/>
<polyline points="178.5,193.6 178.79,193.6 179.09,193.48 179.38,193.27 179.68,193.03 179.97,192.76 180.27,192.47 180.56,192.15 180.86,191.83 181.16,191.48 181.45,191.13 181.75,190.76 182.04,190.38 182.34,189.99 182.63,189.59 182.93,189.18 183.22,188.76 183.52,188.33 183.81,187.89 184.11,187.45 184.4,187 184.69,187.45 184.99,187.89 185.28,188.33 185.58,188.76 185.88,189.18 186.17,189.59 186.47,189.99 186.76,190.38 187.06,190.76 187.35,191.13 187.65,191.48 187.94,191.83 188.24,192.15 188.53,192.47 188.83,192.76 189.12,193.03 189.42,193.27 189.71,193.48 190.01,193.6 190.3,193.6" fill="none" stroke="#b9cf78" stroke-width="0.6"/>
<polyline points="178.5,194 178.79,194 179.09,193.99 179.38,193.98 179.68,193.96 179.97,193.94 180.27,193.91 180.56,193.89 180.86,193.87 181.16,193.84 181.45,193.81 181.75,193.78 182.04,193.76 182.34,193.73 182.63,193.7 182.93,193.66 183.22,193.63 183.52,193.6 183.81,193.57 184.11,193.53 184.4,193.5 184.69,193.53 184.99,193.57 185.28,193.6 185.58,193.63 185.88,193.66 186.17,193.7 186.47,193.73 186.76,193.76 187.06,193.78 187.35,193.81 187.65,193.84 187.94,193.87 188.24,193.89 188.53,193.91 188.83,193.94 189.12,193.96 189.42,193.98 189.71,193.99 190.01,194 190.3,194" fill="none" stroke="#2a2f6e" stroke-width="0.6"/>
<rect x="190.8" y="183" width="12.7" height="12" fill="#fff" stroke="#777" stroke-width="0.8"/>
<polyline points="191.3,193.6 191.59,193.6 191.89,193.48 192.18,193.27 192.47,193.03 192.76,192.76 193.06,192.46 193.35,192.15 193.64,191.82 193.93,191.48 194.23,191.12 194.52,190.76 194.81,190.38 195.1,189.99 195.4,189.59 195.69,189.18 195.98,188.76 196.27,188.33 196.56,187.89 196.86,187.45 197.15,187 197.44,187.45 197.74,187.89 198.03,188.33 198.32,188.76 198.61,189.18 198.91,189.59 199.2,189.99 199.49,190.38 199.78,190.76 200.07,191.12 200.37,191.48 200.66,191.82 200.95,192.15 201.25,192.46 201.54,192.76 201.83,193.03 202.12,193.27 202.41,193.48 202.71,193.6 203,193.6" fill="none" stroke="#b9cf78" stroke-width="0.6"/>
<polyline points="191.3,194 191.59,194 191.89,193.99 192.18,193.98 192.47,193.96 192.76,193.94 193.06,193.91 193.35,193.89 193.64,193.87 193.93,193.84 194.23,193.81 194.52,193.78 194.81,193.76 195.1,193.73 195.4,193.7 195.69,193.66 195.98,193.63 196.27,193.6 196.56,193.57 196.86,193.53 197.15,193.5 197.44,193.53 197.74,193.57 198.03,193.6 198.32,193.63 198.61,193.66 198.91,193.7 199.2,193.73 199.49,193.76 199.78,193.78 200.07,193.81 200.37,193.84 200.66,193.87 200.95,193.89 201.25,193.91 201.54,193.94 201.83,193.96 202.12,193.98 202.41,193.99 202.71,194 203,194" fill="none" stroke="#2a2f6e" stroke-width="0.6"/>
<rect x="205.7" y="183" width="12.3" height="12" fill="#fff" stroke="#777" stroke-width="0.8"/>
<polyline points="206.2,194.2 206.48,194.2 206.76,194.2 207.05,194.19 207.33,194.18 207.61,194.17 207.89,194.17 208.18,194.16 208.46,194.15 208.74,194.14 209.02,194.12 209.31,194.11 209.59,194.1 209.87,194.09 210.16,194.08 210.44,194.07 210.72,194.05 211,194.04 211.28,194.03 211.57,194.01 211.85,194 212.13,194.01 212.41,194.03 212.7,194.04 212.98,194.05 213.26,194.07 213.54,194.08 213.83,194.09 214.11,194.1 214.39,194.11 214.68,194.12 214.96,194.14 215.24,194.15 215.52,194.16 215.81,194.17 216.09,194.17 216.37,194.18 216.65,194.19 216.94,194.2 217.22,194.2 217.5,194.2" fill="none" stroke="#b9cf78" stroke-width="0.6"/>
<polyline points="206.2,193.4 206.48,193.4 206.76,193.22 207.05,192.94 207.33,192.61 207.61,192.25 207.89,191.85 208.18,191.43 208.46,190.99 208.74,190.53 209.02,190.05 209.31,189.55 209.59,189.04 209.87,188.52 210.16,187.98 210.44,187.43 210.72,186.86 211,186.29 211.28,185.7 211.57,185.11 211.85,184.5 212.13,185.11 212.41,185.7 212.7,186.29 212.98,186.86 213.26,187.43 213.54,187.98 213.83,188.52 214.11,189.04 214.39,189.55 214.68,190.05 214.96,190.53 215.24,190.99 215.52,191.43 215.81,191.85 216.09,192.25 216.37,192.61 216.65,192.94 216.94,193.22 217.22,193.4 217.5,193.4" fill="none" stroke="#2a2f6e" stroke-width="0.6"/>
<rect x="218" y="183" width="12.5" height="12" fill="#fff" stroke="#777" stroke-width="0.8"/>
<polyline points="218.5,194.2 218.79,194.2 219.07,194.2 219.36,194.19 219.65,194.18 219.94,194.17 220.22,194.17 220.51,194.16 220.8,194.15 221.09,194.14 221.38,194.12 221.66,194.11 221.95,194.1 222.24,194.09 222.53,194.08 222.81,194.07 223.1,194.05 223.39,194.04 223.68,194.03 223.96,194.01 224.25,194 224.54,194.01 224.82,194.03 225.11,194.04 225.4,194.05 225.69,194.07 225.97,194.08 226.26,194.09 226.55,194.1 226.84,194.11 227.12,194.12 227.41,194.14 227.7,194.15 227.99,194.16 228.28,194.17 228.56,194.17 228.85,194.18 229.14,194.19 229.43,194.2 229.71,194.2 230,194.2" fill="none" stroke="#b9cf78" stroke-width="0.6"/>
<polyline points="218.5,193.4 218.79,193.4 219.07,193.23 219.36,192.95 219.65,192.62 219.94,192.26 220.22,191.86 220.51,191.44 220.8,191 221.09,190.54 221.38,190.06 221.66,189.56 221.95,189.05 222.24,188.52 222.53,187.98 222.81,187.43 223.1,186.87 223.39,186.29 223.68,185.7 223.96,185.11 224.25,184.5 224.54,185.11 224.82,185.7 225.11,186.29 225.4,186.87 225.69,187.43 225.97,187.98 226.26,188.52 226.55,189.05 226.84,189.56 227.12,190.06 227.41,190.54 227.7,191 227.99,191.44 228.28,191.86 228.56,192.26 228.85,192.62 229.14,192.95 229.43,193.23 229.71,193.4 230,193.4" fill="none" stroke="#2a2f6e" stroke-width="0.6"/>
<text x="114.4" y="186.31" font-size="2.8" text-anchor="end" font-weight="normal" font-style="normal" fill="#444" stroke="#444" stroke-width="0.12" >10</text>
<text x="114.4" y="195.61" font-size="2.8" text-anchor="end" font-weight="normal" font-style="normal" fill="#444" stroke="#444" stroke-width="0.12" >0</text>
<text x="176" y="186.31" font-size="2.8" text-anchor="end" font-weight="normal" font-style="normal" fill="#444" stroke="#444" stroke-width="0.12" >10</text>
<text x="176" y="195.61" font-size="2.8" text-anchor="end" font-weight="normal" font-style="normal" fill="#444" stroke="#444" stroke-width="0.12" >0</text>
<line x1="233.8" y1="185.4" x2="238.5" y2="185.4" stroke="#2a2f6e" stroke-width="0.7" />
<line x1="233.8" y1="192.3" x2="238.5" y2="192.3" stroke="#b9cf78" stroke-width="0.7" />
<text x="241.5" y="187.56" font-size="6" text-anchor="start" font-weight="normal" font-style="normal" fill="#222" stroke="#222" stroke-width="0.12" >up</text>
<text x="241.5" y="194.46" font-size="6" text-anchor="start" font-weight="normal" font-style="normal" fill="#222" stroke="#222" stroke-width="0.12" >down</text>
<rect x="117.5" y="197.8" width="11.4" height="72.5" fill="#fafbfd" />
<rect x="117.5" y="271.9" width="11.4" height="76.4" fill="#fafbfd" />
<rect x="130.6" y="197.8" width="11.3" height="72.5" fill="#fafbfd" />
<rect x="130.6" y="271.9" width="11.3" height="76.4" fill="#fafbfd" />
<rect x="145" y="197.8" width="11.3" height="72.5" fill="#fafbfd" />
<rect x="145" y="271.9" width="11.3" height="76.4" fill="#fafbfd" />
<rect x="158.1" y="197.8" width="11.3" height="72.5" fill="#fafbfd" />
<rect x="158.1" y="271.9" width="11.3" height="76.4" fill="#fafbfd" />
<rect x="178.9" y="197.8" width="11.3" height="72.5" fill="#fafbfd" />
<rect x="178.9" y="271.9" width="11.3" height="76.4" fill="#fafbfd" />
<rect x="191.6" y="197.8" width="11.2" height="72.5" fill="#fafbfd" />
<rect x="191.6" y="271.9" width="11.2" height="76.4" fill="#fafbfd" />
<rect x="206" y="197.8" width="11.4" height="72.5" fill="#fafbfd" />
<rect x="206" y="271.9" width="11.4" height="76.4" fill="#fafbfd" />
<rect x="219" y="197.8" width="11.2" height="72.5" fill="#fafbfd" />
<rect x="219" y="271.9" width="11.2" height="76.4" fill="#fafbfd" />
<path d="M117.69 205.86h11.01v1.03h-11.01zM117.74 207.87h10.92v1.03h-10.92zM117.81 210.89h10.77v1.03h-10.77zM117.84 211.9h10.73v1.03h-10.73zM117.89 213.91h10.63v1.03h-10.63zM117.91 214.92h10.58v1.03h-10.58zM117.93 215.93h10.53v1.03h-10.53zM117.96 216.93h10.48v1.03h-10.48zM117.98 217.94h10.44v1.03h-10.44zM118.03 219.95h10.34v1.03h-10.34zM118.08 221.97h10.24v1.03h-10.24zM118.1 222.97h10.2v1.03h-10.2zM118.13 223.98h10.15v1.03h-10.15zM118.15 224.99h10.1v1.03h-10.1zM118.17 225.99h10.05v1.03h-10.05zM118.2 227h10v1.03h-10zM118.22 228.01h9.95v1.03h-9.95zM118.25 229.02h9.91v1.03h-9.91zM118.27 230.02h9.86v1.03h-9.86zM118.29 231.03h9.81v1.03h-9.81zM118.32 232.04h9.76v1.03h-9.76zM118.34 233.04h9.71v1.03h-9.71zM118.37 234.05h9.67v1.03h-9.67zM118.39 235.06h9.62v1.03h-9.62zM118.42 236.06h9.57v1.03h-9.57zM118.44 237.07h9.52v1.03h-9.52zM118.46 238.08h9.47v1.03h-9.47zM118.49 239.08h9.43v1.03h-9.43zM118.51 240.09h9.38v1.03h-9.38zM118.54 241.1h9.33v1.03h-9.33zM118.56 242.11h9.28v1.03h-9.28zM118.58 243.11h9.23v1.03h-9.23zM118.61 244.12h9.18v1.03h-9.18zM118.63 245.13h9.14v1.03h-9.14zM118.66 246.13h9.09v1.03h-9.09zM118.68 247.14h9.04v1.03h-9.04zM118.7 248.15h8.99v1.03h-8.99zM117.5 249.15h11.4v1.03h-11.4zM118.73 249.15h8.94v1.03h-8.94zM118.75 250.16h8.9v1.03h-8.9zM117.5 251.17h11.4v1.03h-11.4zM118.78 251.17h8.85v1.03h-8.85zM117.5 252.18h11.4v1.03h-11.4zM118.8 252.18h8.8v1.03h-8.8zM118.82 253.18h8.75v1.03h-8.75zM117.5 254.19h11.4v1.03h-11.4zM118.85 254.19h8.7v1.03h-8.7zM117.5 255.2h11.4v1.03h-11.4zM118.87 255.2h8.65v1.03h-8.65zM117.5 256.2h11.4v1.03h-11.4zM118.9 256.2h8.61v1.03h-8.61zM117.5 257.21h11.4v1.03h-11.4zM118.92 257.21h8.56v1.03h-8.56zM117.5 258.22h11.4v1.03h-11.4zM118.95 258.22h8.51v1.03h-8.51zM117.5 259.22h11.4v1.03h-11.4zM118.97 259.22h8.46v1.03h-8.46zM117.5 260.23h11.4v1.03h-11.4zM118.99 260.23h8.41v1.03h-8.41zM117.5 261.24h11.4v1.03h-11.4zM119.02 261.24h8.37v1.03h-8.37zM117.5 262.24h11.4v1.03h-11.4zM119.04 262.24h8.32v1.03h-8.32zM117.5 263.25h11.4v1.03h-11.4zM117.5 264.26h11.4v1.03h-11.4zM119.09 264.26h8.22v1.03h-8.22zM117.5 265.27h11.4v1.03h-11.4zM117.5 266.27h11.4v1.03h-11.4zM119.14 266.27h8.12v1.03h-8.12zM117.5 267.28h11.4v1.03h-11.4zM119.16 267.28h8.08v1.03h-8.08zM117.5 268.29h11.4v1.03h-11.4zM117.5 269.29h11.4v1.03h-11.4zM117.5 323.17h11.4v1.03h-11.4zM117.5 328.19h11.4v1.03h-11.4zM117.5 331.21h11.4v1.03h-11.4zM117.5 334.23h11.4v1.03h-11.4zM117.5 336.24h11.4v1.03h-11.4zM117.5 337.24h11.4v1.03h-11.4zM117.5 338.25h11.4v1.03h-11.4zM117.5 343.27h11.4v1.03h-11.4zM117.5 344.28h11.4v1.03h-11.4zM119.14 344.28h8.12v1.03h-8.12zM117.5 345.28h11.4v1.03h-11.4zM119.16 345.28h8.07v1.03h-8.07zM117.5 346.29h11.4v1.03h-11.4zM130.89 209.88h10.73v1.03h-10.73zM130.91 210.89h10.68v1.03h-10.68zM130.93 211.9h10.63v1.03h-10.63zM130.98 213.91h10.54v1.03h-10.54zM131.01 214.92h10.49v1.03h-10.49zM131.03 215.93h10.44v1.03h-10.44zM131.05 216.93h10.39v1.03h-10.39zM131.08 217.94h10.35v1.03h-10.35zM131.1 218.95h10.3v1.03h-10.3zM131.13 219.95h10.25v1.03h-10.25zM131.15 220.96h10.2v1.03h-10.2zM131.17 221.97h10.15v1.03h-10.15zM131.2 222.97h10.11v1.03h-10.11zM131.22 223.98h10.06v1.03h-10.06zM131.24 224.99h10.01v1.03h-10.01zM131.27 225.99h9.96v1.03h-9.96zM131.29 227h9.92v1.03h-9.92zM131.32 228.01h9.87v1.03h-9.87zM131.34 229.02h9.82v1.03h-9.82zM131.36 230.02h9.77v1.03h-9.77zM131.39 231.03h9.72v1.03h-9.72zM131.41 232.04h9.68v1.03h-9.68zM131.44 233.04h9.63v1.03h-9.63zM131.46 234.05h9.58v1.03h-9.58zM131.48 235.06h9.53v1.03h-9.53zM131.51 236.06h9.49v1.03h-9.49zM131.53 237.07h9.44v1.03h-9.44zM131.55 238.08h9.39v1.03h-9.39zM131.58 239.08h9.34v1.03h-9.34zM131.6 240.09h9.29v1.03h-9.29zM131.63 241.1h9.25v1.03h-9.25zM131.65 242.11h9.2v1.03h-9.2zM131.67 243.11h9.15v1.03h-9.15zM131.7 244.12h9.1v1.03h-9.1zM131.72 245.13h9.06v1.03h-9.06zM131.75 246.13h9.01v1.03h-9.01zM131.77 247.14h8.96v1.03h-8.96zM131.79 248.15h8.91v1.03h-8.91zM131.82 249.15h8.86v1.03h-8.86zM130.6 250.16h11.3v1.03h-11.3zM131.84 250.16h8.82v1.03h-8.82zM131.87 251.17h8.77v1.03h-8.77zM130.6 252.18h11.3v1.03h-11.3zM131.89 252.18h8.72v1.03h-8.72zM131.91 253.18h8.67v1.03h-8.67zM130.6 254.19h11.3v1.03h-11.3zM131.94 254.19h8.63v1.03h-8.63zM130.6 255.2h11.3v1.03h-11.3zM131.96 255.2h8.58v1.03h-8.58zM130.6 256.2h11.3v1.03h-11.3zM130.6 257.21h11.3v1.03h-11.3zM130.6 258.22h11.3v1.03h-11.3zM130.6 259.22h11.3v1.03h-11.3zM132.06 259.22h8.39v1.03h-8.39zM130.6 260.23h11.3v1.03h-11.3zM132.08 260.23h8.34v1.03h-8.34zM130.6 261.24h11.3v1.03h-11.3zM132.1 261.24h8.29v1.03h-8.29zM130.6 262.24h11.3v1.03h-11.3zM132.13 262.24h8.24v1.03h-8.24zM130.6 263.25h11.3v1.03h-11.3zM130.6 264.26h11.3v1.03h-11.3zM132.18 264.26h8.15v1.03h-8.15zM130.6 265.27h11.3v1.03h-11.3zM132.2 265.27h8.1v1.03h-8.1zM130.6 266.27h11.3v1.03h-11.3zM132.22 266.27h8.05v1.03h-8.05zM130.6 267.28h11.3v1.03h-11.3zM132.25 267.28h8.01v1.03h-8.01zM130.6 268.29h11.3v1.03h-11.3zM130.6 269.29h11.3v1.03h-11.3zM130.6 327.19h11.3v1.03h-11.3zM130.6 330.21h11.3v1.03h-11.3zM130.6 332.22h11.3v1.03h-11.3zM130.6 339.25h11.3v1.03h-11.3zM130.6 342.27h11.3v1.03h-11.3zM130.6 344.28h11.3v1.03h-11.3zM130.6 345.28h11.3v1.03h-11.3zM132.25 345.28h8v1.03h-8zM130.6 346.29h11.3v1.03h-11.3zM132.27 346.29h7.96v1.03h-7.96zM130.6 347.29h11.3v1.03h-11.3zM145 271.9h11.3v1.03h-11.3zM145.05 273.91h11.21v1.03h-11.21zM145.07 274.92h11.16v1.03h-11.16zM145.11 276.93h11.07v1.03h-11.07zM145.14 277.93h11.03v1.03h-11.03zM145.16 278.94h10.98v1.03h-10.98zM145.18 279.94h10.94v1.03h-10.94zM145.2 280.95h10.89v1.03h-10.89zM145.23 281.95h10.85v1.03h-10.85zM145.25 282.96h10.8v1.03h-10.8zM145.27 283.96h10.76v1.03h-10.76zM145.29 284.97h10.71v1.03h-10.71zM145.32 285.97h10.67v1.03h-10.67zM145.34 286.98h10.62v1.03h-10.62zM145.36 287.98h10.58v1.03h-10.58zM145 288.99h11.3v1.03h-11.3zM145.38 288.99h10.53v1.03h-10.53zM145 289.99h11.3v1.03h-11.3zM145.41 289.99h10.49v1.03h-10.49zM145 291h11.3v1.03h-11.3zM145.43 291h10.44v1.03h-10.44zM145 292.01h11.3v1.03h-11.3zM145.45 292.01h10.4v1.03h-10.4zM145 293.01h11.3v1.03h-11.3zM145.47 293.01h10.35v1.03h-10.35zM145 294.02h11.3v1.03h-11.3zM145.5 294.02h10.31v1.03h-10.31zM145 295.02h11.3v1.03h-11.3zM145.52 295.02h10.26v1.03h-10.26zM145 296.03h11.3v1.03h-11.3zM145.54 296.03h10.22v1.03h-10.22zM145 297.03h11.3v1.03h-11.3zM145.56 297.03h10.17v1.03h-10.17zM145 298.04h11.3v1.03h-11.3zM145.59 298.04h10.12v1.03h-10.12zM145 299.04h11.3v1.03h-11.3zM145.61 299.04h10.08v1.03h-10.08zM145 300.05h11.3v1.03h-11.3zM145.63 300.05h10.03v1.03h-10.03zM145 301.05h11.3v1.03h-11.3zM145.66 301.05h9.99v1.03h-9.99zM145 302.06h11.3v1.03h-11.3zM145.68 302.06h9.94v1.03h-9.94zM145 303.06h11.3v1.03h-11.3zM145.7 303.06h9.9v1.03h-9.9zM145 304.07h11.3v1.03h-11.3zM145.72 304.07h9.85v1.03h-9.85zM145 305.07h11.3v1.03h-11.3zM145.75 305.07h9.81v1.03h-9.81zM145.77 306.08h9.76v1.03h-9.76zM145 307.08h11.3v1.03h-11.3zM145.79 307.08h9.72v1.03h-9.72zM145 308.09h11.3v1.03h-11.3zM145.81 308.09h9.67v1.03h-9.67zM145.84 309.09h9.63v1.03h-9.63zM145.86 310.1h9.58v1.03h-9.58zM145.88 311.11h9.54v1.03h-9.54zM145.9 312.11h9.49v1.03h-9.49zM145.93 313.12h9.45v1.03h-9.45zM145.95 314.12h9.4v1.03h-9.4zM145.97 315.13h9.36v1.03h-9.36zM146.04 318.14h9.22v1.03h-9.22zM146.06 319.15h9.18v1.03h-9.18zM146.13 322.16h9.04v1.03h-9.04zM148.87 324.17h3.56v1.03h-3.56zM146.2 325.18h8.9v1.03h-8.9zM149.04 329.2h3.23v1.03h-3.23zM149.17 333.22h2.96v1.03h-2.96zM149.2 334.23h2.9v1.03h-2.9zM149.37 339.25h2.56v1.03h-2.56zM149.4 340.26h2.5v1.03h-2.5zM149.43 341.26h2.43v1.03h-2.43zM149.47 342.27h2.37v1.03h-2.37zM149.5 343.27h2.3v1.03h-2.3zM149.57 345.28h2.17v1.03h-2.17zM149.6 346.29h2.1v1.03h-2.1zM149.63 347.29h2.03v1.03h-2.03zM158.1 266.27h11.3v1.03h-11.3zM158.1 271.9h11.3v1.03h-11.3zM158.17 274.92h11.16v1.03h-11.16zM158.19 275.92h11.12v1.03h-11.12zM158.21 276.93h11.07v1.03h-11.07zM158.24 277.93h11.03v1.03h-11.03zM158.26 278.94h10.98v1.03h-10.98zM158.28 279.94h10.94v1.03h-10.94zM158.3 280.95h10.89v1.03h-10.89zM158.33 281.95h10.85v1.03h-10.85zM158.35 282.96h10.8v1.03h-10.8zM158.37 283.96h10.76v1.03h-10.76zM158.39 284.97h10.71v1.03h-10.71zM158.42 285.97h10.67v1.03h-10.67zM158.44 286.98h10.62v1.03h-10.62zM158.46 287.98h10.58v1.03h-10.58zM158.1 288.99h11.3v1.03h-11.3zM158.48 288.99h10.53v1.03h-10.53zM158.1 289.99h11.3v1.03h-11.3zM158.51 289.99h10.49v1.03h-10.49zM158.53 291h10.44v1.03h-10.44zM158.1 292.01h11.3v1.03h-11.3zM158.55 292.01h10.4v1.03h-10.4zM158.1 293.01h11.3v1.03h-11.3zM158.57 293.01h10.35v1.03h-10.35zM158.1 294.02h11.3v1.03h-11.3zM158.6 294.02h10.31v1.03h-10.31zM158.1 295.02h11.3v1.03h-11.3zM158.62 295.02h10.26v1.03h-10.26zM158.1 296.03h11.3v1.03h-11.3zM158.64 296.03h10.22v1.03h-10.22zM158.1 297.03h11.3v1.03h-11.3zM158.66 297.03h10.17v1.03h-10.17zM158.1 298.04h11.3v1.03h-11.3zM158.69 298.04h10.12v1.03h-10.12zM158.1 299.04h11.3v1.03h-11.3zM158.71 299.04h10.08v1.03h-10.08zM158.1 300.05h11.3v1.03h-11.3zM158.73 300.05h10.03v1.03h-10.03zM158.1 301.05h11.3v1.03h-11.3zM158.76 301.05h9.99v1.03h-9.99zM158.1 302.06h11.3v1.03h-11.3zM158.78 302.06h9.94v1.03h-9.94zM158.1 303.06h11.3v1.03h-11.3zM158.8 303.06h9.9v1.03h-9.9zM158.1 304.07h11.3v1.03h-11.3zM158.82 304.07h9.85v1.03h-9.85zM158.1 305.07h11.3v1.03h-11.3zM158.85 305.07h9.81v1.03h-9.81zM158.1 306.08h11.3v1.03h-11.3zM158.87 306.08h9.76v1.03h-9.76zM158.1 307.08h11.3v1.03h-11.3zM158.89 307.08h9.72v1.03h-9.72zM158.91 308.09h9.67v1.03h-9.67zM158.1 309.09h11.3v1.03h-11.3zM158.94 309.09h9.63v1.03h-9.63zM158.96 310.1h9.58v1.03h-9.58zM158.98 311.11h9.54v1.03h-9.54zM159 312.11h9.49v1.03h-9.49zM159.05 314.12h9.4v1.03h-9.4zM159.07 315.13h9.36v1.03h-9.36zM159.12 317.14h9.27v1.03h-9.27zM159.14 318.14h9.22v1.03h-9.22zM159.16 319.15h9.18v1.03h-9.18zM159.21 321.16h9.09v1.03h-9.09zM159.25 323.17h8.99v1.03h-8.99zM159.28 324.17h8.95v1.03h-8.95zM159.32 326.18h8.86v1.03h-8.86zM162.1 328.19h3.29v1.03h-3.29zM162.3 334.23h2.9v1.03h-2.9zM162.47 339.25h2.56v1.03h-2.56zM162.53 341.26h2.43v1.03h-2.43zM162.57 342.27h2.37v1.03h-2.37zM162.63 344.28h2.23v1.03h-2.23zM162.67 345.28h2.17v1.03h-2.17zM162.7 346.29h2.1v1.03h-2.1zM162.73 347.29h2.03v1.03h-2.03z" fill="#1f68b0" fill-opacity="0.02"/>
<path d="M178.9 197.8h11.3v1.03h-11.3zM178.92 198.81h11.25v1.03h-11.25zM178.97 200.82h11.16v1.03h-11.16zM179.02 202.83h11.06v1.03h-11.06zM179.04 203.84h11.01v1.03h-11.01zM179.07 204.85h10.97v1.03h-10.97zM179.09 205.86h10.92v1.03h-10.92zM179.11 206.86h10.87v1.03h-10.87zM179.14 207.87h10.82v1.03h-10.82zM179.16 208.88h10.77v1.03h-10.77zM179.19 209.88h10.73v1.03h-10.73zM179.21 210.89h10.68v1.03h-10.68zM179.23 211.9h10.63v1.03h-10.63zM179.26 212.9h10.58v1.03h-10.58zM179.28 213.91h10.54v1.03h-10.54zM179.31 214.92h10.49v1.03h-10.49zM179.33 215.93h10.44v1.03h-10.44zM179.35 216.93h10.39v1.03h-10.39zM179.38 217.94h10.35v1.03h-10.35zM179.4 218.95h10.3v1.03h-10.3zM179.43 219.95h10.25v1.03h-10.25zM179.45 220.96h10.2v1.03h-10.2zM179.47 221.97h10.15v1.03h-10.15zM179.5 222.97h10.11v1.03h-10.11zM179.52 223.98h10.06v1.03h-10.06zM179.54 224.99h10.01v1.03h-10.01zM179.57 225.99h9.96v1.03h-9.96zM179.59 227h9.92v1.03h-9.92zM179.62 228.01h9.87v1.03h-9.87zM179.64 229.02h9.82v1.03h-9.82zM179.66 230.02h9.77v1.03h-9.77zM179.69 231.03h9.72v1.03h-9.72zM179.71 232.04h9.68v1.03h-9.68zM179.74 233.04h9.63v1.03h-9.63zM179.76 234.05h9.58v1.03h-9.58zM179.78 235.06h9.53v1.03h-9.53zM179.81 236.06h9.49v1.03h-9.49zM179.83 237.07h9.44v1.03h-9.44zM179.85 238.08h9.39v1.03h-9.39zM179.88 239.08h9.34v1.03h-9.34zM178.9 240.09h11.3v1.03h-11.3zM179.9 240.09h9.29v1.03h-9.29zM179.93 241.1h9.25v1.03h-9.25zM178.9 242.11h11.3v1.03h-11.3zM179.95 242.11h9.2v1.03h-9.2zM179.97 243.11h9.15v1.03h-9.15zM178.9 244.12h11.3v1.03h-11.3zM178.9 245.13h11.3v1.03h-11.3zM180.02 245.13h9.06v1.03h-9.06zM178.9 246.13h11.3v1.03h-11.3zM180.05 246.13h9.01v1.03h-9.01zM178.9 247.14h11.3v1.03h-11.3zM180.07 247.14h8.96v1.03h-8.96zM178.9 248.15h11.3v1.03h-11.3zM178.9 249.15h11.3v1.03h-11.3zM180.12 249.15h8.86v1.03h-8.86zM178.9 250.16h11.3v1.03h-11.3zM180.14 250.16h8.82v1.03h-8.82zM178.9 251.17h11.3v1.03h-11.3zM180.17 251.17h8.77v1.03h-8.77zM178.9 252.18h11.3v1.03h-11.3zM178.9 253.18h11.3v1.03h-11.3zM178.9 254.19h11.3v1.03h-11.3zM178.9 255.2h11.3v1.03h-11.3zM178.9 256.2h11.3v1.03h-11.3zM178.9 257.21h11.3v1.03h-11.3zM178.9 258.22h11.3v1.03h-11.3zM178.9 259.22h11.3v1.03h-11.3zM178.9 260.23h11.3v1.03h-11.3zM178.9 261.24h11.3v1.03h-11.3zM178.9 262.24h11.3v1.03h-11.3zM178.9 263.25h11.3v1.03h-11.3zM178.9 264.26h11.3v1.03h-11.3zM178.9 265.27h11.3v1.03h-11.3zM178.9 266.27h11.3v1.03h-11.3zM183.05 266.27h3v1.03h-3zM178.9 267.28h11.3v1.03h-11.3zM183.08 267.28h2.94v1.03h-2.94zM178.9 268.29h11.3v1.03h-11.3zM178.9 269.29h11.3v1.03h-11.3zM178.9 329.2h11.3v1.03h-11.3zM178.9 331.21h11.3v1.03h-11.3zM178.9 337.24h11.3v1.03h-11.3zM178.9 340.26h11.3v1.03h-11.3zM180.44 340.26h8.23v1.03h-8.23zM178.9 341.26h11.3v1.03h-11.3zM180.46 341.26h8.18v1.03h-8.18zM178.9 342.27h11.3v1.03h-11.3zM178.9 344.28h11.3v1.03h-11.3zM180.53 344.28h8.05v1.03h-8.05zM178.9 345.28h11.3v1.03h-11.3zM180.55 345.28h8v1.03h-8zM178.9 346.29h11.3v1.03h-11.3zM180.57 346.29h7.96v1.03h-7.96zM178.9 347.29h11.3v1.03h-11.3zM180.6 347.29h7.91v1.03h-7.91zM191.6 197.8h11.2v1.03h-11.2zM191.62 198.81h11.15v1.03h-11.15zM191.65 199.81h11.11v1.03h-11.11zM191.67 200.82h11.06v1.03h-11.06zM191.72 202.83h10.96v1.03h-10.96zM191.74 203.84h10.92v1.03h-10.92zM191.77 204.85h10.87v1.03h-10.87zM191.79 205.86h10.82v1.03h-10.82zM191.81 206.86h10.77v1.03h-10.77zM191.84 207.87h10.73v1.03h-10.73zM191.86 208.88h10.68v1.03h-10.68zM191.88 209.88h10.63v1.03h-10.63zM191.91 210.89h10.58v1.03h-10.58zM191.93 211.9h10.54v1.03h-10.54zM191.95 212.9h10.49v1.03h-10.49zM191.98 213.91h10.44v1.03h-10.44zM192 214.92h10.4v1.03h-10.4zM192.03 215.93h10.35v1.03h-10.35zM192.05 216.93h10.3v1.03h-10.3zM192.07 217.94h10.25v1.03h-10.25zM192.1 218.95h10.21v1.03h-10.21zM192.12 219.95h10.16v1.03h-10.16zM192.14 220.96h10.11v1.03h-10.11zM192.17 221.97h10.06v1.03h-10.06zM192.19 222.97h10.02v1.03h-10.02zM192.22 223.98h9.97v1.03h-9.97zM192.24 224.99h9.92v1.03h-9.92zM192.26 225.99h9.87v1.03h-9.87zM192.29 227h9.83v1.03h-9.83zM192.31 228.01h9.78v1.03h-9.78zM192.33 229.02h9.73v1.03h-9.73zM192.36 230.02h9.69v1.03h-9.69zM192.38 231.03h9.64v1.03h-9.64zM192.4 232.04h9.59v1.03h-9.59zM192.43 233.04h9.54v1.03h-9.54zM192.45 234.05h9.5v1.03h-9.5zM192.48 235.06h9.45v1.03h-9.45zM192.5 236.06h9.4v1.03h-9.4zM191.6 237.07h11.2v1.03h-11.2zM192.52 237.07h9.35v1.03h-9.35zM192.55 238.08h9.31v1.03h-9.31zM192.57 239.08h9.26v1.03h-9.26zM191.6 240.09h11.2v1.03h-11.2zM192.59 240.09h9.21v1.03h-9.21zM192.62 241.1h9.17v1.03h-9.17zM191.6 242.11h11.2v1.03h-11.2zM191.6 243.11h11.2v1.03h-11.2zM192.66 243.11h9.07v1.03h-9.07zM191.6 244.12h11.2v1.03h-11.2zM192.69 244.12h9.02v1.03h-9.02zM191.6 245.13h11.2v1.03h-11.2zM192.71 245.13h8.98v1.03h-8.98zM191.6 246.13h11.2v1.03h-11.2zM192.74 246.13h8.93v1.03h-8.93zM191.6 247.14h11.2v1.03h-11.2zM191.6 248.15h11.2v1.03h-11.2zM192.78 248.15h8.83v1.03h-8.83zM191.6 249.15h11.2v1.03h-11.2zM191.6 250.16h11.2v1.03h-11.2zM192.83 250.16h8.74v1.03h-8.74zM191.6 251.17h11.2v1.03h-11.2zM191.6 252.18h11.2v1.03h-11.2zM191.6 253.18h11.2v1.03h-11.2zM191.6 254.19h11.2v1.03h-11.2zM191.6 255.2h11.2v1.03h-11.2zM191.6 256.2h11.2v1.03h-11.2zM191.6 257.21h11.2v1.03h-11.2zM191.6 258.22h11.2v1.03h-11.2zM191.6 259.22h11.2v1.03h-11.2zM195.51 259.22h3.38v1.03h-3.38zM191.6 260.23h11.2v1.03h-11.2zM191.6 261.24h11.2v1.03h-11.2zM191.6 262.24h11.2v1.03h-11.2zM191.6 263.25h11.2v1.03h-11.2zM191.6 264.26h11.2v1.03h-11.2zM191.6 265.27h11.2v1.03h-11.2zM195.68 265.27h3.03v1.03h-3.03zM191.6 266.27h11.2v1.03h-11.2zM191.6 267.28h11.2v1.03h-11.2zM195.77 268.29h2.86v1.03h-2.86zM191.6 269.29h11.2v1.03h-11.2zM191.6 330.21h11.2v1.03h-11.2zM191.6 331.21h11.2v1.03h-11.2zM191.6 335.23h11.2v1.03h-11.2zM193.01 335.23h8.38v1.03h-8.38zM191.6 336.24h11.2v1.03h-11.2zM193.03 336.24h8.33v1.03h-8.33zM191.6 337.24h11.2v1.03h-11.2zM193.06 337.24h8.29v1.03h-8.29zM191.6 340.26h11.2v1.03h-11.2zM191.6 341.26h11.2v1.03h-11.2zM191.6 342.27h11.2v1.03h-11.2zM193.17 342.27h8.06v1.03h-8.06zM191.6 343.27h11.2v1.03h-11.2zM193.19 343.27h8.02v1.03h-8.02zM191.6 344.28h11.2v1.03h-11.2zM193.21 344.28h7.97v1.03h-7.97zM191.6 345.28h11.2v1.03h-11.2zM193.24 345.28h7.93v1.03h-7.93zM191.6 346.29h11.2v1.03h-11.2zM193.26 346.29h7.88v1.03h-7.88zM191.6 347.29h11.2v1.03h-11.2zM193.28 347.29h7.84v1.03h-7.84zM207.59 264.26h8.22v1.03h-8.22zM207.64 266.27h8.12v1.03h-8.12zM206 271.9h11.4v1.03h-11.4zM208.17 271.9h7.07v1.03h-7.07zM206.02 272.91h11.35v1.03h-11.35zM206.05 273.91h11.31v1.03h-11.31zM206.07 274.92h11.26v1.03h-11.26zM208.27 274.92h6.87v1.03h-6.87zM206.09 275.92h11.22v1.03h-11.22zM208.3 275.92h6.8v1.03h-6.8zM206.11 276.93h11.17v1.03h-11.17zM208.33 276.93h6.73v1.03h-6.73zM206.14 277.93h11.13v1.03h-11.13zM208.37 277.93h6.67v1.03h-6.67zM206.16 278.94h11.08v1.03h-11.08zM206.18 279.94h11.04v1.03h-11.04zM206.21 280.95h10.99v1.03h-10.99zM208.47 280.95h6.47v1.03h-6.47zM206.23 281.95h10.94v1.03h-10.94zM208.5 281.95h6.4v1.03h-6.4zM206.25 282.96h10.9v1.03h-10.9zM208.53 282.96h6.33v1.03h-6.33zM206.27 283.96h10.85v1.03h-10.85zM208.57 283.96h6.27v1.03h-6.27zM206.3 284.97h10.81v1.03h-10.81zM208.6 284.97h6.2v1.03h-6.2zM206 285.97h11.4v1.03h-11.4zM206.32 285.97h10.76v1.03h-10.76zM208.63 285.97h6.13v1.03h-6.13zM206.34 286.98h10.72v1.03h-10.72zM208.67 286.98h6.06v1.03h-6.06zM206 287.98h11.4v1.03h-11.4zM206.36 287.98h10.67v1.03h-10.67zM208.7 287.98h6v1.03h-6zM206 288.99h11.4v1.03h-11.4zM206.39 288.99h10.62v1.03h-10.62zM208.73 288.99h5.93v1.03h-5.93zM206 289.99h11.4v1.03h-11.4zM208.77 289.99h5.86v1.03h-5.86zM206 291h11.4v1.03h-11.4zM206.43 291h10.53v1.03h-10.53zM208.8 291h5.8v1.03h-5.8zM206 292.01h11.4v1.03h-11.4zM206.46 292.01h10.49v1.03h-10.49zM208.83 292.01h5.73v1.03h-5.73zM206 293.01h11.4v1.03h-11.4zM206.48 293.01h10.44v1.03h-10.44zM208.87 293.01h5.66v1.03h-5.66zM206 294.02h11.4v1.03h-11.4zM206.5 294.02h10.4v1.03h-10.4zM208.9 294.02h5.6v1.03h-5.6zM206 295.02h11.4v1.03h-11.4zM206.52 295.02h10.35v1.03h-10.35zM208.94 295.02h5.53v1.03h-5.53zM206 296.03h11.4v1.03h-11.4zM206.55 296.03h10.31v1.03h-10.31zM208.97 296.03h5.46v1.03h-5.46zM206 297.03h11.4v1.03h-11.4zM209 297.03h5.4v1.03h-5.4zM206 298.04h11.4v1.03h-11.4zM206.59 298.04h10.21v1.03h-10.21zM209.04 298.04h5.33v1.03h-5.33zM206 299.04h11.4v1.03h-11.4zM209.07 299.04h5.26v1.03h-5.26zM206 300.05h11.4v1.03h-11.4zM206.64 300.05h10.12v1.03h-10.12zM209.1 300.05h5.2v1.03h-5.2zM206 301.05h11.4v1.03h-11.4zM206.66 301.05h10.08v1.03h-10.08zM209.14 301.05h5.13v1.03h-5.13zM206 302.06h11.4v1.03h-11.4zM206.68 302.06h10.03v1.03h-10.03zM209.17 302.06h5.06v1.03h-5.06zM206 303.06h11.4v1.03h-11.4zM206.71 303.06h9.99v1.03h-9.99zM209.2 303.06h4.99v1.03h-4.99zM206 304.07h11.4v1.03h-11.4zM209.24 304.07h4.93v1.03h-4.93zM206 305.07h11.4v1.03h-11.4zM206.75 305.07h9.9v1.03h-9.9zM209.27 305.07h4.86v1.03h-4.86zM206 306.08h11.4v1.03h-11.4zM209.3 306.08h4.79v1.03h-4.79zM206 307.08h11.4v1.03h-11.4zM209.34 307.08h4.73v1.03h-4.73zM209.37 308.09h4.66v1.03h-4.66zM209.4 309.09h4.59v1.03h-4.59zM209.44 310.1h4.53v1.03h-4.53zM206 311.11h11.4v1.03h-11.4zM209.47 311.11h4.46v1.03h-4.46zM206 312.11h11.4v1.03h-11.4zM209.5 312.11h4.39v1.03h-4.39zM209.54 313.12h4.33v1.03h-4.33zM209.57 314.12h4.26v1.03h-4.26zM209.6 315.13h4.19v1.03h-4.19zM209.64 316.13h4.13v1.03h-4.13zM209.67 317.14h4.06v1.03h-4.06zM209.7 318.14h3.99v1.03h-3.99zM209.74 319.15h3.92v1.03h-3.92zM209.77 320.15h3.86v1.03h-3.86zM209.8 321.16h3.79v1.03h-3.79zM209.84 322.16h3.72v1.03h-3.72zM209.87 323.17h3.66v1.03h-3.66zM209.9 324.17h3.59v1.03h-3.59zM209.94 325.18h3.52v1.03h-3.52zM209.97 326.18h3.46v1.03h-3.46zM210.01 327.19h3.39v1.03h-3.39zM210.04 328.19h3.32v1.03h-3.32zM210.07 329.2h3.26v1.03h-3.26zM210.11 330.21h3.19v1.03h-3.19zM210.14 331.21h3.12v1.03h-3.12zM210.17 332.22h3.06v1.03h-3.06zM210.21 333.22h2.99v1.03h-2.99zM210.24 334.23h2.92v1.03h-2.92zM210.27 335.23h2.85v1.03h-2.85zM210.31 336.24h2.79v1.03h-2.79zM210.34 337.24h2.72v1.03h-2.72zM210.37 338.25h2.65v1.03h-2.65zM210.41 339.25h2.59v1.03h-2.59zM210.44 340.26h2.52v1.03h-2.52zM210.47 341.26h2.45v1.03h-2.45zM210.51 342.27h2.39v1.03h-2.39zM210.54 343.27h2.32v1.03h-2.32zM210.57 344.28h2.25v1.03h-2.25zM210.61 345.28h2.19v1.03h-2.19zM210.64 346.29h2.12v1.03h-2.12zM210.67 347.29h2.05v1.03h-2.05zM219 271.9h11.2v1.03h-11.2zM221.13 271.9h6.94v1.03h-6.94zM219.02 272.91h11.16v1.03h-11.16zM221.16 272.91h6.88v1.03h-6.88zM219.04 273.91h11.11v1.03h-11.11zM221.19 273.91h6.81v1.03h-6.81zM219.07 274.92h11.07v1.03h-11.07zM221.23 274.92h6.75v1.03h-6.75zM219.09 275.92h11.02v1.03h-11.02zM221.26 275.92h6.68v1.03h-6.68zM219.11 276.93h10.98v1.03h-10.98zM221.29 276.93h6.62v1.03h-6.62zM219.13 277.93h10.93v1.03h-10.93zM221.33 277.93h6.55v1.03h-6.55zM219.16 278.94h10.89v1.03h-10.89zM221.36 278.94h6.48v1.03h-6.48zM219.18 279.94h10.84v1.03h-10.84zM221.39 279.94h6.42v1.03h-6.42zM219.2 280.95h10.8v1.03h-10.8zM221.42 280.95h6.35v1.03h-6.35zM219.22 281.95h10.75v1.03h-10.75zM221.46 281.95h6.29v1.03h-6.29zM219.25 282.96h10.71v1.03h-10.71zM221.49 282.96h6.22v1.03h-6.22zM219.27 283.96h10.66v1.03h-10.66zM219.29 284.97h10.62v1.03h-10.62zM219.31 285.97h10.57v1.03h-10.57zM221.59 285.97h6.02v1.03h-6.02zM219.34 286.98h10.53v1.03h-10.53zM221.62 286.98h5.96v1.03h-5.96zM219 287.98h11.2v1.03h-11.2zM219.36 287.98h10.48v1.03h-10.48zM221.65 287.98h5.89v1.03h-5.89zM219.38 288.99h10.44v1.03h-10.44zM221.69 288.99h5.83v1.03h-5.83zM219.4 289.99h10.39v1.03h-10.39zM221.72 289.99h5.76v1.03h-5.76zM219 291h11.2v1.03h-11.2zM219.43 291h10.35v1.03h-10.35zM221.75 291h5.7v1.03h-5.7zM219 292.01h11.2v1.03h-11.2zM219.45 292.01h10.3v1.03h-10.3zM221.79 292.01h5.63v1.03h-5.63zM219 293.01h11.2v1.03h-11.2zM219.47 293.01h10.26v1.03h-10.26zM221.82 293.01h5.56v1.03h-5.56zM219 294.02h11.2v1.03h-11.2zM219.49 294.02h10.21v1.03h-10.21zM221.85 294.02h5.5v1.03h-5.5zM219 295.02h11.2v1.03h-11.2zM219.52 295.02h10.17v1.03h-10.17zM221.88 295.02h5.43v1.03h-5.43zM219 296.03h11.2v1.03h-11.2zM219.54 296.03h10.12v1.03h-10.12zM221.92 296.03h5.37v1.03h-5.37zM219 297.03h11.2v1.03h-11.2zM221.95 297.03h5.3v1.03h-5.3zM219 298.04h11.2v1.03h-11.2zM221.98 298.04h5.24v1.03h-5.24zM219 299.04h11.2v1.03h-11.2zM219.6 299.04h9.99v1.03h-9.99zM222.02 299.04h5.17v1.03h-5.17zM219 300.05h11.2v1.03h-11.2zM219.63 300.05h9.95v1.03h-9.95zM222.05 300.05h5.1v1.03h-5.1zM219 301.05h11.2v1.03h-11.2zM222.08 301.05h5.04v1.03h-5.04zM219 302.06h11.2v1.03h-11.2zM219.67 302.06h9.86v1.03h-9.86zM222.11 302.06h4.97v1.03h-4.97zM219 303.06h11.2v1.03h-11.2zM219.69 303.06h9.81v1.03h-9.81zM222.15 303.06h4.91v1.03h-4.91zM219 304.07h11.2v1.03h-11.2zM219.72 304.07h9.77v1.03h-9.77zM222.18 304.07h4.84v1.03h-4.84zM219 305.07h11.2v1.03h-11.2zM222.21 305.07h4.78v1.03h-4.78zM219 306.08h11.2v1.03h-11.2zM222.25 306.08h4.71v1.03h-4.71zM222.28 307.08h4.64v1.03h-4.64zM222.31 308.09h4.58v1.03h-4.58zM219 309.09h11.2v1.03h-11.2zM222.34 309.09h4.51v1.03h-4.51zM222.38 310.1h4.45v1.03h-4.45zM222.41 311.11h4.38v1.03h-4.38zM219 312.11h11.2v1.03h-11.2zM222.44 312.11h4.32v1.03h-4.32zM222.47 313.12h4.25v1.03h-4.25zM222.51 314.12h4.18v1.03h-4.18zM222.54 315.13h4.12v1.03h-4.12zM222.57 316.13h4.05v1.03h-4.05zM222.61 317.14h3.99v1.03h-3.99zM222.64 318.14h3.92v1.03h-3.92zM222.67 319.15h3.86v1.03h-3.86zM222.7 320.15h3.79v1.03h-3.79zM222.74 321.16h3.72v1.03h-3.72zM222.77 322.16h3.66v1.03h-3.66zM222.8 323.17h3.59v1.03h-3.59zM222.84 324.17h3.53v1.03h-3.53zM222.87 325.18h3.46v1.03h-3.46zM222.9 326.18h3.4v1.03h-3.4zM222.93 327.19h3.33v1.03h-3.33zM222.97 328.19h3.26v1.03h-3.26zM223 329.2h3.2v1.03h-3.2zM223.03 330.21h3.13v1.03h-3.13zM223.07 331.21h3.07v1.03h-3.07zM223.1 332.22h3v1.03h-3zM223.13 333.22h2.94v1.03h-2.94zM223.16 334.23h2.87v1.03h-2.87zM223.2 335.23h2.8v1.03h-2.8zM223.23 336.24h2.74v1.03h-2.74zM223.26 337.24h2.67v1.03h-2.67zM223.3 338.25h2.61v1.03h-2.61zM223.33 339.25h2.54v1.03h-2.54zM223.36 340.26h2.48v1.03h-2.48zM223.39 341.26h2.41v1.03h-2.41zM223.43 342.27h2.34v1.03h-2.34zM223.46 343.27h2.28v1.03h-2.28zM223.49 344.28h2.21v1.03h-2.21zM223.53 345.28h2.15v1.03h-2.15zM223.56 346.29h2.08v1.03h-2.08zM223.59 347.29h2.02v1.03h-2.02z" fill="#4a38a6" fill-opacity="0.02"/>
<path d="M117.5 197.8h11.4v1.03h-11.4zM117.52 198.81h11.35v1.03h-11.35zM117.55 199.81h11.3v1.03h-11.3zM117.57 200.82h11.26v1.03h-11.26zM117.6 201.83h11.21v1.03h-11.21zM117.62 202.83h11.16v1.03h-11.16zM117.64 203.84h11.11v1.03h-11.11zM117.67 204.85h11.06v1.03h-11.06zM117.72 206.86h10.97v1.03h-10.97zM117.76 208.88h10.87v1.03h-10.87zM117.79 209.88h10.82v1.03h-10.82zM117.86 212.9h10.68v1.03h-10.68zM118.01 218.95h10.39v1.03h-10.39zM118.05 220.96h10.29v1.03h-10.29zM120.56 228.01h5.29v1.03h-5.29zM117.5 232.04h11.4v1.03h-11.4zM117.5 235.06h11.4v1.03h-11.4zM117.5 236.06h11.4v1.03h-11.4zM117.5 237.07h11.4v1.03h-11.4zM117.5 239.08h11.4v1.03h-11.4zM120.88 239.08h4.63v1.03h-4.63zM117.5 240.09h11.4v1.03h-11.4zM117.5 241.1h11.4v1.03h-11.4zM117.5 242.11h11.4v1.03h-11.4zM117.5 243.11h11.4v1.03h-11.4zM117.5 244.12h11.4v1.03h-11.4zM117.5 245.13h11.4v1.03h-11.4zM117.5 246.13h11.4v1.03h-11.4zM117.5 247.14h11.4v1.03h-11.4zM117.5 248.15h11.4v1.03h-11.4zM117.5 250.16h11.4v1.03h-11.4zM117.5 253.18h11.4v1.03h-11.4zM121.42 257.21h3.56v1.03h-3.56zM121.66 265.27h3.09v1.03h-3.09zM121.75 268.29h2.91v1.03h-2.91zM117.5 308.09h11.4v1.03h-11.4zM117.5 309.09h11.4v1.03h-11.4zM117.5 313.12h11.4v1.03h-11.4zM117.5 314.12h11.4v1.03h-11.4zM117.5 315.13h11.4v1.03h-11.4zM117.5 316.13h11.4v1.03h-11.4zM117.5 317.14h11.4v1.03h-11.4zM117.5 318.14h11.4v1.03h-11.4zM117.5 319.15h11.4v1.03h-11.4zM117.5 320.15h11.4v1.03h-11.4zM117.5 321.16h11.4v1.03h-11.4zM117.5 322.16h11.4v1.03h-11.4zM118.66 323.17h9.07v1.03h-9.07zM117.5 324.17h11.4v1.03h-11.4zM117.5 325.18h11.4v1.03h-11.4zM117.5 326.18h11.4v1.03h-11.4zM117.5 327.19h11.4v1.03h-11.4zM118.75 327.19h8.89v1.03h-8.89zM118.78 328.19h8.85v1.03h-8.85zM117.5 329.2h11.4v1.03h-11.4zM117.5 330.21h11.4v1.03h-11.4zM118.82 330.21h8.76v1.03h-8.76zM118.85 331.21h8.71v1.03h-8.71zM117.5 332.22h11.4v1.03h-11.4zM117.5 333.22h11.4v1.03h-11.4zM118.91 334.23h8.57v1.03h-8.57zM117.5 335.23h11.4v1.03h-11.4zM118.96 336.24h8.48v1.03h-8.48zM118.98 337.24h8.44v1.03h-8.44zM119 338.25h8.39v1.03h-8.39zM117.5 339.25h11.4v1.03h-11.4zM119.03 339.25h8.34v1.03h-8.34zM117.5 340.26h11.4v1.03h-11.4zM119.05 340.26h8.3v1.03h-8.3zM117.5 341.26h11.4v1.03h-11.4zM119.07 341.26h8.25v1.03h-8.25zM117.5 342.27h11.4v1.03h-11.4zM119.1 342.27h8.21v1.03h-8.21zM119.12 343.27h8.16v1.03h-8.16zM119.19 346.29h8.03v1.03h-8.03zM117.5 347.29h11.4v1.03h-11.4zM119.21 347.29h7.98v1.03h-7.98zM130.6 197.8h11.3v1.03h-11.3zM130.62 198.81h11.25v1.03h-11.25zM130.65 199.81h11.2v1.03h-11.2zM130.67 200.82h11.16v1.03h-11.16zM130.7 201.83h11.11v1.03h-11.11zM130.72 202.83h11.06v1.03h-11.06zM130.74 203.84h11.01v1.03h-11.01zM130.77 204.85h10.97v1.03h-10.97zM130.79 205.86h10.92v1.03h-10.92zM130.81 206.86h10.87v1.03h-10.87zM130.84 207.87h10.82v1.03h-10.82zM130.86 208.88h10.77v1.03h-10.77zM130.96 212.9h10.58v1.03h-10.58zM130.6 232.04h11.3v1.03h-11.3zM133.75 232.04h5v1.03h-5zM130.6 235.06h11.3v1.03h-11.3zM130.6 236.06h11.3v1.03h-11.3zM133.87 236.06h4.77v1.03h-4.77zM130.6 238.08h11.3v1.03h-11.3zM133.92 238.08h4.65v1.03h-4.65zM130.6 239.08h11.3v1.03h-11.3zM130.6 240.09h11.3v1.03h-11.3zM130.6 241.1h11.3v1.03h-11.3zM134.01 241.1h4.47v1.03h-4.47zM130.6 242.11h11.3v1.03h-11.3zM130.6 243.11h11.3v1.03h-11.3zM134.07 243.11h4.36v1.03h-4.36zM130.6 244.12h11.3v1.03h-11.3zM134.1 244.12h4.3v1.03h-4.3zM130.6 245.13h11.3v1.03h-11.3zM130.6 246.13h11.3v1.03h-11.3zM130.6 247.14h11.3v1.03h-11.3zM130.6 248.15h11.3v1.03h-11.3zM130.6 249.15h11.3v1.03h-11.3zM130.6 251.17h11.3v1.03h-11.3zM130.6 253.18h11.3v1.03h-11.3zM134.45 256.2h3.59v1.03h-3.59zM134.48 257.21h3.53v1.03h-3.53zM134.51 258.22h3.47v1.03h-3.47zM134.54 259.22h3.41v1.03h-3.41zM134.66 263.25h3.18v1.03h-3.18zM134.81 268.29h2.88v1.03h-2.88zM134.84 269.29h2.83v1.03h-2.83zM130.6 306.08h11.3v1.03h-11.3zM130.6 312.11h11.3v1.03h-11.3zM130.6 313.12h11.3v1.03h-11.3zM130.6 315.13h11.3v1.03h-11.3zM130.6 316.13h11.3v1.03h-11.3zM130.6 317.14h11.3v1.03h-11.3zM130.6 318.14h11.3v1.03h-11.3zM130.6 319.15h11.3v1.03h-11.3zM130.6 320.15h11.3v1.03h-11.3zM130.6 321.16h11.3v1.03h-11.3zM130.6 322.16h11.3v1.03h-11.3zM130.6 323.17h11.3v1.03h-11.3zM130.6 324.17h11.3v1.03h-11.3zM130.6 325.18h11.3v1.03h-11.3zM130.6 326.18h11.3v1.03h-11.3zM131.84 327.19h8.81v1.03h-8.81zM130.6 328.19h11.3v1.03h-11.3zM130.6 329.2h11.3v1.03h-11.3zM131.91 330.21h8.68v1.03h-8.68zM130.6 331.21h11.3v1.03h-11.3zM131.96 332.22h8.59v1.03h-8.59zM130.6 333.22h11.3v1.03h-11.3zM130.6 334.23h11.3v1.03h-11.3zM132 334.23h8.5v1.03h-8.5zM130.6 335.23h11.3v1.03h-11.3zM130.6 336.24h11.3v1.03h-11.3zM132.05 336.24h8.41v1.03h-8.41zM130.6 337.24h11.3v1.03h-11.3zM130.6 338.25h11.3v1.03h-11.3zM132.11 339.25h8.27v1.03h-8.27zM130.6 340.26h11.3v1.03h-11.3zM132.14 340.26h8.23v1.03h-8.23zM130.6 341.26h11.3v1.03h-11.3zM132.16 341.26h8.18v1.03h-8.18zM132.18 342.27h8.14v1.03h-8.14zM130.6 343.27h11.3v1.03h-11.3zM132.2 343.27h8.09v1.03h-8.09zM132.23 344.28h8.05v1.03h-8.05zM132.29 347.29h7.91v1.03h-7.91zM145 252.18h11.3v1.03h-11.3zM145 254.19h11.3v1.03h-11.3zM145 256.2h11.3v1.03h-11.3zM145 257.21h11.3v1.03h-11.3zM146.41 257.21h8.48v1.03h-8.48zM145 259.22h11.3v1.03h-11.3zM146.46 259.22h8.39v1.03h-8.39zM145 260.23h11.3v1.03h-11.3zM146.48 260.23h8.34v1.03h-8.34zM145 261.24h11.3v1.03h-11.3zM145 262.24h11.3v1.03h-11.3zM145 263.25h11.3v1.03h-11.3zM146.55 263.25h8.2v1.03h-8.2zM145 264.26h11.3v1.03h-11.3zM146.58 264.26h8.15v1.03h-8.15zM145 265.27h11.3v1.03h-11.3zM146.6 265.27h8.1v1.03h-8.1zM145 266.27h11.3v1.03h-11.3zM146.62 266.27h8.05v1.03h-8.05zM145 267.28h11.3v1.03h-11.3zM146.65 267.28h8.01v1.03h-8.01zM145 268.29h11.3v1.03h-11.3zM146.67 268.29h7.96v1.03h-7.96zM145 269.29h11.3v1.03h-11.3zM146.69 269.29h7.91v1.03h-7.91zM145.02 272.91h11.25v1.03h-11.25zM145.09 275.92h11.12v1.03h-11.12zM147.35 277.93h6.61v1.03h-6.61zM147.38 278.94h6.54v1.03h-6.54zM145 283.96h11.3v1.03h-11.3zM145 284.97h11.3v1.03h-11.3zM147.58 284.97h6.14v1.03h-6.14zM145 285.97h11.3v1.03h-11.3zM147.61 285.97h6.08v1.03h-6.08zM145 286.98h11.3v1.03h-11.3zM145 287.98h11.3v1.03h-11.3zM147.71 288.99h5.88v1.03h-5.88zM147.74 289.99h5.81v1.03h-5.81zM147.78 291h5.75v1.03h-5.75zM147.84 293.01h5.61v1.03h-5.61zM147.88 294.02h5.55v1.03h-5.55zM147.94 296.03h5.41v1.03h-5.41zM148.04 299.04h5.22v1.03h-5.22zM148.14 302.06h5.02v1.03h-5.02zM148.17 303.06h4.95v1.03h-4.95zM148.21 304.07h4.88v1.03h-4.88zM148.24 305.07h4.82v1.03h-4.82zM148.27 306.08h4.75v1.03h-4.75zM148.31 307.08h4.69v1.03h-4.69zM148.34 308.09h4.62v1.03h-4.62zM148.37 309.09h4.55v1.03h-4.55zM148.41 310.1h4.49v1.03h-4.49zM148.44 311.11h4.42v1.03h-4.42zM148.47 312.11h4.35v1.03h-4.35zM148.51 313.12h4.29v1.03h-4.29zM148.54 314.12h4.22v1.03h-4.22zM148.57 315.13h4.16v1.03h-4.16zM148.61 316.13h4.09v1.03h-4.09zM148.64 317.14h4.02v1.03h-4.02zM148.67 318.14h3.96v1.03h-3.96zM148.7 319.15h3.89v1.03h-3.89zM148.74 320.15h3.82v1.03h-3.82zM148.77 321.16h3.76v1.03h-3.76zM148.8 322.16h3.69v1.03h-3.69zM148.84 323.17h3.63v1.03h-3.63zM148.9 325.18h3.49v1.03h-3.49zM148.94 326.18h3.43v1.03h-3.43zM148.97 327.19h3.36v1.03h-3.36zM149 328.19h3.29v1.03h-3.29zM149.07 330.21h3.16v1.03h-3.16zM149.1 331.21h3.09v1.03h-3.09zM149.14 332.22h3.03v1.03h-3.03zM149.24 335.23h2.83v1.03h-2.83zM149.27 336.24h2.76v1.03h-2.76zM149.3 337.24h2.7v1.03h-2.7zM149.33 338.25h2.63v1.03h-2.63zM149.53 344.28h2.23v1.03h-2.23zM158.1 247.14h11.3v1.03h-11.3zM159.27 247.14h8.96v1.03h-8.96zM158.1 250.16h11.3v1.03h-11.3zM159.34 250.16h8.82v1.03h-8.82zM158.1 254.19h11.3v1.03h-11.3zM158.1 256.2h11.3v1.03h-11.3zM158.1 257.21h11.3v1.03h-11.3zM159.51 257.21h8.48v1.03h-8.48zM158.1 258.22h11.3v1.03h-11.3zM159.53 258.22h8.44v1.03h-8.44zM158.1 259.22h11.3v1.03h-11.3zM159.56 259.22h8.39v1.03h-8.39zM158.1 260.23h11.3v1.03h-11.3zM159.58 260.23h8.34v1.03h-8.34zM158.1 261.24h11.3v1.03h-11.3zM159.6 261.24h8.29v1.03h-8.29zM158.1 262.24h11.3v1.03h-11.3zM159.63 262.24h8.24v1.03h-8.24zM158.1 263.25h11.3v1.03h-11.3zM159.65 263.25h8.2v1.03h-8.2zM158.1 264.26h11.3v1.03h-11.3zM159.68 264.26h8.15v1.03h-8.15zM158.1 265.27h11.3v1.03h-11.3zM159.7 265.27h8.1v1.03h-8.1zM159.72 266.27h8.05v1.03h-8.05zM158.1 267.28h11.3v1.03h-11.3zM159.75 267.28h8.01v1.03h-8.01zM158.1 268.29h11.3v1.03h-11.3zM159.77 268.29h7.96v1.03h-7.96zM158.1 269.29h11.3v1.03h-11.3zM159.79 269.29h7.91v1.03h-7.91zM160.25 271.9h7.01v1.03h-7.01zM158.12 272.91h11.25v1.03h-11.25zM158.15 273.91h11.21v1.03h-11.21zM160.35 274.92h6.81v1.03h-6.81zM160.41 276.93h6.67v1.03h-6.67zM160.51 279.94h6.48v1.03h-6.48zM158.1 282.96h11.3v1.03h-11.3zM160.61 282.96h6.28v1.03h-6.28zM158.1 283.96h11.3v1.03h-11.3zM158.1 284.97h11.3v1.03h-11.3zM160.68 284.97h6.14v1.03h-6.14zM158.1 285.97h11.3v1.03h-11.3zM158.1 286.98h11.3v1.03h-11.3zM158.1 287.98h11.3v1.03h-11.3zM160.81 288.99h5.88v1.03h-5.88zM160.84 289.99h5.81v1.03h-5.81zM158.1 291h11.3v1.03h-11.3zM161.04 296.03h5.41v1.03h-5.41zM161.08 297.03h5.35v1.03h-5.35zM161.11 298.04h5.28v1.03h-5.28zM161.14 299.04h5.22v1.03h-5.22zM161.18 300.05h5.15v1.03h-5.15zM161.21 301.05h5.08v1.03h-5.08zM161.24 302.06h5.02v1.03h-5.02zM161.27 303.06h4.95v1.03h-4.95zM161.34 305.07h4.82v1.03h-4.82zM161.37 306.08h4.75v1.03h-4.75zM161.41 307.08h4.69v1.03h-4.69zM161.44 308.09h4.62v1.03h-4.62zM161.47 309.09h4.55v1.03h-4.55zM161.51 310.1h4.49v1.03h-4.49zM161.54 311.11h4.42v1.03h-4.42zM161.57 312.11h4.35v1.03h-4.35zM161.61 313.12h4.29v1.03h-4.29zM161.64 314.12h4.22v1.03h-4.22zM161.67 315.13h4.16v1.03h-4.16zM161.71 316.13h4.09v1.03h-4.09zM161.74 317.14h4.02v1.03h-4.02zM161.77 318.14h3.96v1.03h-3.96zM161.8 319.15h3.89v1.03h-3.89zM161.84 320.15h3.82v1.03h-3.82zM161.87 321.16h3.76v1.03h-3.76zM161.9 322.16h3.69v1.03h-3.69zM161.94 323.17h3.63v1.03h-3.63zM161.97 324.17h3.56v1.03h-3.56zM162 325.18h3.49v1.03h-3.49zM162.04 326.18h3.43v1.03h-3.43zM162.07 327.19h3.36v1.03h-3.36zM162.14 329.2h3.23v1.03h-3.23zM162.17 330.21h3.16v1.03h-3.16zM162.2 331.21h3.09v1.03h-3.09zM162.24 332.22h3.03v1.03h-3.03zM162.27 333.22h2.96v1.03h-2.96zM162.34 335.23h2.83v1.03h-2.83zM162.37 336.24h2.76v1.03h-2.76zM162.4 337.24h2.7v1.03h-2.7zM162.43 338.25h2.63v1.03h-2.63zM162.5 340.26h2.5v1.03h-2.5zM162.6 343.27h2.3v1.03h-2.3z" fill="#1f68b0" fill-opacity="0.04"/>
<path d="M181.05 197.8h7.01v1.03h-7.01zM181.08 198.81h6.95v1.03h-6.95zM178.95 199.81h11.2v1.03h-11.2zM181.14 200.82h6.83v1.03h-6.83zM179 201.83h11.11v1.03h-11.11zM181.19 202.83h6.71v1.03h-6.71zM181.22 203.84h6.65v1.03h-6.65zM181.25 204.85h6.59v1.03h-6.59zM181.28 205.86h6.53v1.03h-6.53zM181.31 206.86h6.48v1.03h-6.48zM181.34 207.87h6.42v1.03h-6.42zM181.37 208.88h6.36v1.03h-6.36zM181.4 209.88h6.3v1.03h-6.3zM181.46 211.9h6.18v1.03h-6.18zM181.52 213.91h6.06v1.03h-6.06zM181.55 214.92h6v1.03h-6zM181.58 215.93h5.95v1.03h-5.95zM181.64 217.94h5.83v1.03h-5.83zM181.67 218.95h5.77v1.03h-5.77zM181.69 219.95h5.71v1.03h-5.71zM181.72 220.96h5.65v1.03h-5.65zM178.9 221.97h11.3v1.03h-11.3zM181.75 221.97h5.59v1.03h-5.59zM181.78 222.97h5.53v1.03h-5.53zM178.9 224.99h11.3v1.03h-11.3zM181.84 224.99h5.42v1.03h-5.42zM178.9 227h11.3v1.03h-11.3zM181.9 227h5.3v1.03h-5.3zM178.9 228.01h11.3v1.03h-11.3zM181.93 228.01h5.24v1.03h-5.24zM178.9 229.02h11.3v1.03h-11.3zM181.96 229.02h5.18v1.03h-5.18zM178.9 230.02h11.3v1.03h-11.3zM181.99 230.02h5.12v1.03h-5.12zM178.9 231.03h11.3v1.03h-11.3zM182.02 231.03h5.06v1.03h-5.06zM178.9 232.04h11.3v1.03h-11.3zM182.05 232.04h5v1.03h-5zM178.9 233.04h11.3v1.03h-11.3zM182.08 233.04h4.94v1.03h-4.94zM178.9 234.05h11.3v1.03h-11.3zM182.11 234.05h4.89v1.03h-4.89zM178.9 235.06h11.3v1.03h-11.3zM182.14 235.06h4.83v1.03h-4.83zM178.9 236.06h11.3v1.03h-11.3zM182.17 236.06h4.77v1.03h-4.77zM178.9 237.07h11.3v1.03h-11.3zM182.2 237.07h4.71v1.03h-4.71zM178.9 238.08h11.3v1.03h-11.3zM182.22 238.08h4.65v1.03h-4.65zM178.9 239.08h11.3v1.03h-11.3zM182.28 240.09h4.53v1.03h-4.53zM178.9 241.1h11.3v1.03h-11.3zM182.34 242.11h4.41v1.03h-4.41zM178.9 243.11h11.3v1.03h-11.3zM182.37 243.11h4.36v1.03h-4.36zM182.4 244.12h4.3v1.03h-4.3zM182.43 245.13h4.24v1.03h-4.24zM182.46 246.13h4.18v1.03h-4.18zM182.49 247.14h4.12v1.03h-4.12zM182.52 248.15h4.06v1.03h-4.06zM182.55 249.15h4v1.03h-4zM182.58 250.16h3.94v1.03h-3.94zM182.61 251.17h3.88v1.03h-3.88zM182.64 252.18h3.83v1.03h-3.83zM182.67 253.18h3.77v1.03h-3.77zM182.7 254.19h3.71v1.03h-3.71zM182.73 255.2h3.65v1.03h-3.65zM182.75 256.2h3.59v1.03h-3.59zM182.78 257.21h3.53v1.03h-3.53zM182.81 258.22h3.47v1.03h-3.47zM182.84 259.22h3.41v1.03h-3.41zM182.87 260.23h3.35v1.03h-3.35zM182.9 261.24h3.3v1.03h-3.3zM182.93 262.24h3.24v1.03h-3.24zM182.96 263.25h3.18v1.03h-3.18zM182.99 264.26h3.12v1.03h-3.12zM183.02 265.27h3.06v1.03h-3.06zM183.11 268.29h2.88v1.03h-2.88zM183.14 269.29h2.82v1.03h-2.82zM179.94 318.14h9.22v1.03h-9.22zM178.9 319.15h11.3v1.03h-11.3zM179.96 319.15h9.18v1.03h-9.18zM178.9 320.15h11.3v1.03h-11.3zM179.98 320.15h9.13v1.03h-9.13zM178.9 321.16h11.3v1.03h-11.3zM180.01 321.16h9.09v1.03h-9.09zM178.9 322.16h11.3v1.03h-11.3zM180.03 322.16h9.04v1.03h-9.04zM178.9 323.17h11.3v1.03h-11.3zM180.05 323.17h8.99v1.03h-8.99zM178.9 324.17h11.3v1.03h-11.3zM180.08 324.17h8.95v1.03h-8.95zM178.9 325.18h11.3v1.03h-11.3zM180.1 325.18h8.9v1.03h-8.9zM178.9 326.18h11.3v1.03h-11.3zM180.12 326.18h8.86v1.03h-8.86zM178.9 327.19h11.3v1.03h-11.3zM180.14 327.19h8.81v1.03h-8.81zM178.9 328.19h11.3v1.03h-11.3zM180.17 328.19h8.77v1.03h-8.77zM180.19 329.2h8.72v1.03h-8.72zM178.9 330.21h11.3v1.03h-11.3zM180.21 330.21h8.68v1.03h-8.68zM180.23 331.21h8.63v1.03h-8.63zM178.9 332.22h11.3v1.03h-11.3zM180.26 332.22h8.59v1.03h-8.59zM178.9 333.22h11.3v1.03h-11.3zM180.28 333.22h8.54v1.03h-8.54zM178.9 334.23h11.3v1.03h-11.3zM180.3 334.23h8.5v1.03h-8.5zM178.9 335.23h11.3v1.03h-11.3zM180.32 335.23h8.45v1.03h-8.45zM178.9 336.24h11.3v1.03h-11.3zM180.35 336.24h8.41v1.03h-8.41zM180.37 337.24h8.36v1.03h-8.36zM178.9 338.25h11.3v1.03h-11.3zM180.39 338.25h8.32v1.03h-8.32zM178.9 339.25h11.3v1.03h-11.3zM180.41 339.25h8.27v1.03h-8.27zM180.48 342.27h8.14v1.03h-8.14zM178.9 343.27h11.3v1.03h-11.3zM180.5 343.27h8.09v1.03h-8.09zM193.73 197.8h6.94v1.03h-6.94zM193.76 198.81h6.89v1.03h-6.89zM193.79 199.81h6.83v1.03h-6.83zM193.82 200.82h6.77v1.03h-6.77zM191.69 201.83h11.01v1.03h-11.01zM193.9 203.84h6.59v1.03h-6.59zM193.96 205.86h6.48v1.03h-6.48zM194.05 208.88h6.3v1.03h-6.3zM194.08 209.88h6.24v1.03h-6.24zM194.11 210.89h6.19v1.03h-6.19zM194.14 211.9h6.13v1.03h-6.13zM194.17 212.9h6.07v1.03h-6.07zM194.22 214.92h5.95v1.03h-5.95zM194.25 215.93h5.89v1.03h-5.89zM194.28 216.93h5.84v1.03h-5.84zM194.31 217.94h5.78v1.03h-5.78zM194.34 218.95h5.72v1.03h-5.72zM194.4 220.96h5.6v1.03h-5.6zM191.6 221.97h11.2v1.03h-11.2zM194.43 221.97h5.54v1.03h-5.54zM194.46 222.97h5.48v1.03h-5.48zM191.6 223.98h11.2v1.03h-11.2zM194.49 223.98h5.43v1.03h-5.43zM194.52 224.99h5.37v1.03h-5.37zM191.6 225.99h11.2v1.03h-11.2zM194.55 225.99h5.31v1.03h-5.31zM191.6 227h11.2v1.03h-11.2zM194.57 227h5.25v1.03h-5.25zM194.6 228.01h5.19v1.03h-5.19zM191.6 229.02h11.2v1.03h-11.2zM194.63 229.02h5.13v1.03h-5.13zM191.6 230.02h11.2v1.03h-11.2zM194.66 230.02h5.08v1.03h-5.08zM191.6 231.03h11.2v1.03h-11.2zM194.69 231.03h5.02v1.03h-5.02zM191.6 232.04h11.2v1.03h-11.2zM194.72 232.04h4.96v1.03h-4.96zM191.6 233.04h11.2v1.03h-11.2zM194.75 233.04h4.9v1.03h-4.9zM191.6 234.05h11.2v1.03h-11.2zM194.78 234.05h4.84v1.03h-4.84zM191.6 235.06h11.2v1.03h-11.2zM191.6 236.06h11.2v1.03h-11.2zM194.87 237.07h4.67v1.03h-4.67zM191.6 238.08h11.2v1.03h-11.2zM194.9 238.08h4.61v1.03h-4.61zM191.6 239.08h11.2v1.03h-11.2zM194.92 239.08h4.55v1.03h-4.55zM194.95 240.09h4.49v1.03h-4.49zM191.6 241.1h11.2v1.03h-11.2zM195.01 242.11h4.38v1.03h-4.38zM195.04 243.11h4.32v1.03h-4.32zM195.07 244.12h4.26v1.03h-4.26zM195.1 245.13h4.2v1.03h-4.2zM195.13 246.13h4.14v1.03h-4.14zM195.16 247.14h4.08v1.03h-4.08zM195.19 248.15h4.03v1.03h-4.03zM195.22 249.15h3.97v1.03h-3.97zM195.25 250.16h3.91v1.03h-3.91zM195.27 251.17h3.85v1.03h-3.85zM195.3 252.18h3.79v1.03h-3.79zM195.33 253.18h3.73v1.03h-3.73zM195.36 254.19h3.68v1.03h-3.68zM195.39 255.2h3.62v1.03h-3.62zM195.42 256.2h3.56v1.03h-3.56zM195.45 257.21h3.5v1.03h-3.5zM195.48 258.22h3.44v1.03h-3.44zM195.54 260.23h3.33v1.03h-3.33zM195.57 261.24h3.27v1.03h-3.27zM195.6 262.24h3.21v1.03h-3.21zM195.62 263.25h3.15v1.03h-3.15zM195.65 264.26h3.09v1.03h-3.09zM195.71 266.27h2.98v1.03h-2.98zM195.74 267.28h2.92v1.03h-2.92zM195.8 269.29h2.8v1.03h-2.8zM192.43 309.09h9.54v1.03h-9.54zM192.47 311.11h9.45v1.03h-9.45zM192.5 312.11h9.41v1.03h-9.41zM192.54 314.12h9.32v1.03h-9.32zM191.6 315.13h11.2v1.03h-11.2zM192.56 315.13h9.27v1.03h-9.27zM191.6 320.15h11.2v1.03h-11.2zM192.68 320.15h9.05v1.03h-9.05zM191.6 321.16h11.2v1.03h-11.2zM192.7 321.16h9v1.03h-9zM191.6 322.16h11.2v1.03h-11.2zM192.72 322.16h8.96v1.03h-8.96zM191.6 323.17h11.2v1.03h-11.2zM192.74 323.17h8.92v1.03h-8.92zM191.6 324.17h11.2v1.03h-11.2zM192.76 324.17h8.87v1.03h-8.87zM191.6 325.18h11.2v1.03h-11.2zM192.79 325.18h8.83v1.03h-8.83zM191.6 326.18h11.2v1.03h-11.2zM192.81 326.18h8.78v1.03h-8.78zM191.6 327.19h11.2v1.03h-11.2zM192.83 327.19h8.74v1.03h-8.74zM191.6 328.19h11.2v1.03h-11.2zM192.85 328.19h8.69v1.03h-8.69zM191.6 329.2h11.2v1.03h-11.2zM192.88 329.2h8.65v1.03h-8.65zM192.9 330.21h8.6v1.03h-8.6zM192.92 331.21h8.56v1.03h-8.56zM191.6 332.22h11.2v1.03h-11.2zM192.94 332.22h8.51v1.03h-8.51zM191.6 333.22h11.2v1.03h-11.2zM192.97 333.22h8.47v1.03h-8.47zM191.6 334.23h11.2v1.03h-11.2zM192.99 334.23h8.42v1.03h-8.42zM191.6 338.25h11.2v1.03h-11.2zM193.08 338.25h8.24v1.03h-8.24zM191.6 339.25h11.2v1.03h-11.2zM193.1 339.25h8.2v1.03h-8.2zM193.12 340.26h8.15v1.03h-8.15zM193.15 341.26h8.11v1.03h-8.11zM207.13 245.13h9.14v1.03h-9.14zM207.16 246.13h9.09v1.03h-9.09zM207.18 247.14h9.04v1.03h-9.04zM207.2 248.15h8.99v1.03h-8.99zM207.23 249.15h8.94v1.03h-8.94zM207.25 250.16h8.9v1.03h-8.9zM207.28 251.17h8.85v1.03h-8.85zM207.3 252.18h8.8v1.03h-8.8zM206 253.18h11.4v1.03h-11.4zM207.32 253.18h8.75v1.03h-8.75zM207.35 254.19h8.7v1.03h-8.7zM207.37 255.2h8.65v1.03h-8.65zM206 256.2h11.4v1.03h-11.4zM207.4 256.2h8.61v1.03h-8.61zM207.42 257.21h8.56v1.03h-8.56zM207.45 258.22h8.51v1.03h-8.51zM206 259.22h11.4v1.03h-11.4zM207.47 259.22h8.46v1.03h-8.46zM207.49 260.23h8.41v1.03h-8.41zM207.52 261.24h8.37v1.03h-8.37zM206 262.24h11.4v1.03h-11.4zM207.54 262.24h8.32v1.03h-8.32zM207.57 263.25h8.27v1.03h-8.27zM206 264.26h11.4v1.03h-11.4zM206 265.27h11.4v1.03h-11.4zM207.61 265.27h8.17v1.03h-8.17zM206 266.27h11.4v1.03h-11.4zM206 267.28h11.4v1.03h-11.4zM207.66 267.28h8.08v1.03h-8.08zM206 268.29h11.4v1.03h-11.4zM207.69 268.29h8.03v1.03h-8.03zM206 269.29h11.4v1.03h-11.4zM207.71 269.29h7.98v1.03h-7.98zM208.2 272.91h7v1.03h-7zM208.23 273.91h6.93v1.03h-6.93zM206 277.93h11.4v1.03h-11.4zM208.4 278.94h6.6v1.03h-6.6zM208.43 279.94h6.53v1.03h-6.53zM206 281.95h11.4v1.03h-11.4zM206 282.96h11.4v1.03h-11.4zM206 283.96h11.4v1.03h-11.4zM206 284.97h11.4v1.03h-11.4zM206 286.98h11.4v1.03h-11.4zM219.99 240.09h9.21v1.03h-9.21zM220.04 242.11h9.12v1.03h-9.12zM220.09 244.12h9.02v1.03h-9.02zM220.11 245.13h8.98v1.03h-8.98zM220.14 246.13h8.93v1.03h-8.93zM220.16 247.14h8.88v1.03h-8.88zM220.21 249.15h8.79v1.03h-8.79zM220.23 250.16h8.74v1.03h-8.74zM220.25 251.17h8.69v1.03h-8.69zM220.28 252.18h8.64v1.03h-8.64zM220.3 253.18h8.6v1.03h-8.6zM220.33 254.19h8.55v1.03h-8.55zM220.35 255.2h8.5v1.03h-8.5zM220.37 256.2h8.46v1.03h-8.46zM220.4 257.21h8.41v1.03h-8.41zM220.42 258.22h8.36v1.03h-8.36zM220.44 259.22h8.31v1.03h-8.31zM220.47 260.23h8.27v1.03h-8.27zM220.49 261.24h8.22v1.03h-8.22zM219 262.24h11.2v1.03h-11.2zM220.51 262.24h8.17v1.03h-8.17zM219 263.25h11.2v1.03h-11.2zM220.54 263.25h8.12v1.03h-8.12zM219 264.26h11.2v1.03h-11.2zM220.56 264.26h8.08v1.03h-8.08zM219 265.27h11.2v1.03h-11.2zM220.59 265.27h8.03v1.03h-8.03zM219 266.27h11.2v1.03h-11.2zM220.61 266.27h7.98v1.03h-7.98zM219 267.28h11.2v1.03h-11.2zM220.63 267.28h7.93v1.03h-7.93zM219 268.29h11.2v1.03h-11.2zM220.66 268.29h7.89v1.03h-7.89zM219 269.29h11.2v1.03h-11.2zM220.68 269.29h7.84v1.03h-7.84zM219 279.94h11.2v1.03h-11.2zM219 280.95h11.2v1.03h-11.2zM219 281.95h11.2v1.03h-11.2zM219 282.96h11.2v1.03h-11.2zM219 283.96h11.2v1.03h-11.2zM221.52 283.96h6.16v1.03h-6.16zM219 284.97h11.2v1.03h-11.2zM221.56 284.97h6.09v1.03h-6.09zM219 285.97h11.2v1.03h-11.2zM219 286.98h11.2v1.03h-11.2zM219 288.99h11.2v1.03h-11.2zM219 289.99h11.2v1.03h-11.2z" fill="#4a38a6" fill-opacity="0.04"/>
<path d="M119.67 197.8h7.07v1.03h-7.07zM119.81 202.83h6.77v1.03h-6.77zM119.9 205.86h6.59v1.03h-6.59zM119.93 206.86h6.53v1.03h-6.53zM119.96 207.87h6.47v1.03h-6.47zM120.05 210.89h6.3v1.03h-6.3zM120.08 211.9h6.24v1.03h-6.24zM120.14 213.91h6.12v1.03h-6.12zM120.17 214.92h6.06v1.03h-6.06zM120.2 215.93h6v1.03h-6zM120.23 216.93h5.94v1.03h-5.94zM120.26 217.94h5.88v1.03h-5.88zM120.32 219.95h5.76v1.03h-5.76zM120.38 221.97h5.64v1.03h-5.64zM117.5 224.99h11.4v1.03h-11.4zM120.47 224.99h5.46v1.03h-5.46zM120.5 225.99h5.4v1.03h-5.4zM117.5 227h11.4v1.03h-11.4zM120.53 227h5.35v1.03h-5.35zM117.5 228.01h11.4v1.03h-11.4zM117.5 229.02h11.4v1.03h-11.4zM120.59 229.02h5.23v1.03h-5.23zM117.5 230.02h11.4v1.03h-11.4zM120.62 230.02h5.17v1.03h-5.17zM117.5 231.03h11.4v1.03h-11.4zM120.65 231.03h5.11v1.03h-5.11zM120.68 232.04h5.05v1.03h-5.05zM117.5 233.04h11.4v1.03h-11.4zM117.5 234.05h11.4v1.03h-11.4zM120.77 235.06h4.87v1.03h-4.87zM120.79 236.06h4.81v1.03h-4.81zM120.82 237.07h4.75v1.03h-4.75zM117.5 238.08h11.4v1.03h-11.4zM120.91 240.09h4.57v1.03h-4.57zM120.97 242.11h4.45v1.03h-4.45zM121 243.11h4.39v1.03h-4.39zM121.03 244.12h4.34v1.03h-4.34zM121.06 245.13h4.28v1.03h-4.28zM121.09 246.13h4.22v1.03h-4.22zM121.12 247.14h4.16v1.03h-4.16zM121.15 248.15h4.1v1.03h-4.1zM121.18 249.15h4.04v1.03h-4.04zM121.21 250.16h3.98v1.03h-3.98zM121.24 251.17h3.92v1.03h-3.92zM121.27 252.18h3.86v1.03h-3.86zM121.3 253.18h3.8v1.03h-3.8zM121.33 254.19h3.74v1.03h-3.74zM121.36 255.2h3.68v1.03h-3.68zM121.39 256.2h3.62v1.03h-3.62zM121.45 258.22h3.5v1.03h-3.5zM121.48 259.22h3.44v1.03h-3.44zM121.51 260.23h3.38v1.03h-3.38zM121.54 261.24h3.33v1.03h-3.33zM121.57 262.24h3.27v1.03h-3.27zM121.6 263.25h3.21v1.03h-3.21zM121.63 264.26h3.15v1.03h-3.15zM121.69 266.27h3.03v1.03h-3.03zM121.72 267.28h2.97v1.03h-2.97zM121.78 269.29h2.85v1.03h-2.85zM117.5 303.06h11.4v1.03h-11.4zM117.5 304.07h11.4v1.03h-11.4zM117.5 306.08h11.4v1.03h-11.4zM117.5 307.08h11.4v1.03h-11.4zM118.32 308.09h9.76v1.03h-9.76zM118.34 309.09h9.71v1.03h-9.71zM117.5 310.1h11.4v1.03h-11.4zM117.5 311.11h11.4v1.03h-11.4zM117.5 312.11h11.4v1.03h-11.4zM118.43 313.12h9.53v1.03h-9.53zM118.46 314.12h9.48v1.03h-9.48zM118.48 315.13h9.44v1.03h-9.44zM118.5 316.13h9.39v1.03h-9.39zM118.53 317.14h9.35v1.03h-9.35zM118.55 318.14h9.3v1.03h-9.3zM118.57 319.15h9.26v1.03h-9.26zM118.59 320.15h9.21v1.03h-9.21zM118.62 321.16h9.17v1.03h-9.17zM118.64 322.16h9.12v1.03h-9.12zM118.69 324.17h9.03v1.03h-9.03zM118.71 325.18h8.98v1.03h-8.98zM118.73 326.18h8.94v1.03h-8.94zM118.8 329.2h8.8v1.03h-8.8zM118.87 332.22h8.66v1.03h-8.66zM118.89 333.22h8.62v1.03h-8.62zM118.94 335.23h8.53v1.03h-8.53zM132.78 198.81h6.95v1.03h-6.95zM132.86 201.83h6.77v1.03h-6.77zM132.92 203.84h6.65v1.03h-6.65zM132.95 204.85h6.59v1.03h-6.59zM132.98 205.86h6.53v1.03h-6.53zM133.04 207.87h6.42v1.03h-6.42zM133.1 209.88h6.3v1.03h-6.3zM133.13 210.89h6.24v1.03h-6.24zM133.16 211.9h6.18v1.03h-6.18zM133.22 213.91h6.06v1.03h-6.06zM133.25 214.92h6v1.03h-6zM133.28 215.93h5.95v1.03h-5.95zM133.34 217.94h5.83v1.03h-5.83zM133.37 218.95h5.77v1.03h-5.77zM133.39 219.95h5.71v1.03h-5.71zM133.42 220.96h5.65v1.03h-5.65zM130.6 221.97h11.3v1.03h-11.3zM133.45 221.97h5.59v1.03h-5.59zM133.51 223.98h5.47v1.03h-5.47zM133.54 224.99h5.42v1.03h-5.42zM130.6 227h11.3v1.03h-11.3zM133.6 227h5.3v1.03h-5.3zM130.6 228.01h11.3v1.03h-11.3zM133.63 228.01h5.24v1.03h-5.24zM130.6 229.02h11.3v1.03h-11.3zM133.66 229.02h5.18v1.03h-5.18zM130.6 230.02h11.3v1.03h-11.3zM133.69 230.02h5.12v1.03h-5.12zM130.6 231.03h11.3v1.03h-11.3zM133.72 231.03h5.06v1.03h-5.06zM130.6 233.04h11.3v1.03h-11.3zM133.78 233.04h4.94v1.03h-4.94zM130.6 234.05h11.3v1.03h-11.3zM133.81 234.05h4.89v1.03h-4.89zM133.84 235.06h4.83v1.03h-4.83zM130.6 237.07h11.3v1.03h-11.3zM133.9 237.07h4.71v1.03h-4.71zM133.95 239.08h4.59v1.03h-4.59zM133.98 240.09h4.53v1.03h-4.53zM134.04 242.11h4.41v1.03h-4.41zM134.13 245.13h4.24v1.03h-4.24zM134.16 246.13h4.18v1.03h-4.18zM134.19 247.14h4.12v1.03h-4.12zM134.22 248.15h4.06v1.03h-4.06zM134.25 249.15h4v1.03h-4zM134.28 250.16h3.94v1.03h-3.94zM134.31 251.17h3.88v1.03h-3.88zM134.34 252.18h3.83v1.03h-3.83zM134.37 253.18h3.77v1.03h-3.77zM134.4 254.19h3.71v1.03h-3.71zM134.43 255.2h3.65v1.03h-3.65zM134.57 260.23h3.35v1.03h-3.35zM134.6 261.24h3.3v1.03h-3.3zM134.63 262.24h3.24v1.03h-3.24zM134.69 264.26h3.12v1.03h-3.12zM134.72 265.27h3.06v1.03h-3.06zM134.75 266.27h3v1.03h-3zM134.78 267.28h2.94v1.03h-2.94zM130.6 302.06h11.3v1.03h-11.3zM130.6 305.07h11.3v1.03h-11.3zM131.35 305.07h9.81v1.03h-9.81zM131.37 306.08h9.76v1.03h-9.76zM130.6 307.08h11.3v1.03h-11.3zM130.6 308.09h11.3v1.03h-11.3zM130.6 309.09h11.3v1.03h-11.3zM130.6 310.1h11.3v1.03h-11.3zM130.6 311.11h11.3v1.03h-11.3zM130.6 314.12h11.3v1.03h-11.3zM131.57 315.13h9.36v1.03h-9.36zM131.64 318.14h9.22v1.03h-9.22zM131.68 320.15h9.13v1.03h-9.13zM131.73 322.16h9.04v1.03h-9.04zM131.75 323.17h8.99v1.03h-8.99zM131.78 324.17h8.95v1.03h-8.95zM131.8 325.18h8.9v1.03h-8.9zM131.82 326.18h8.86v1.03h-8.86zM131.87 328.19h8.77v1.03h-8.77zM131.89 329.2h8.72v1.03h-8.72zM131.93 331.21h8.63v1.03h-8.63zM131.98 333.22h8.54v1.03h-8.54zM132.02 335.23h8.45v1.03h-8.45zM132.07 337.24h8.36v1.03h-8.36zM132.09 338.25h8.32v1.03h-8.32zM145.88 235.06h9.53v1.03h-9.53zM145.91 236.06h9.49v1.03h-9.49zM145.98 239.08h9.34v1.03h-9.34zM145 241.1h11.3v1.03h-11.3zM146.03 241.1h9.25v1.03h-9.25zM145 245.13h11.3v1.03h-11.3zM146.12 245.13h9.06v1.03h-9.06zM145 246.13h11.3v1.03h-11.3zM146.15 246.13h9.01v1.03h-9.01zM145 247.14h11.3v1.03h-11.3zM145 248.15h11.3v1.03h-11.3zM146.19 248.15h8.91v1.03h-8.91zM145 249.15h11.3v1.03h-11.3zM146.22 249.15h8.86v1.03h-8.86zM145 250.16h11.3v1.03h-11.3zM146.24 250.16h8.82v1.03h-8.82zM145 251.17h11.3v1.03h-11.3zM146.27 251.17h8.77v1.03h-8.77zM146.29 252.18h8.72v1.03h-8.72zM145 253.18h11.3v1.03h-11.3zM146.31 253.18h8.67v1.03h-8.67zM146.34 254.19h8.63v1.03h-8.63zM145 255.2h11.3v1.03h-11.3zM146.36 255.2h8.58v1.03h-8.58zM146.38 256.2h8.53v1.03h-8.53zM145 258.22h11.3v1.03h-11.3zM146.43 258.22h8.44v1.03h-8.44zM146.5 261.24h8.29v1.03h-8.29zM146.53 262.24h8.24v1.03h-8.24zM147.15 271.9h7.01v1.03h-7.01zM147.18 272.91h6.94v1.03h-6.94zM147.21 273.91h6.87v1.03h-6.87zM147.25 274.92h6.81v1.03h-6.81zM147.28 275.92h6.74v1.03h-6.74zM147.31 276.93h6.67v1.03h-6.67zM145 278.94h11.3v1.03h-11.3zM145 279.94h11.3v1.03h-11.3zM147.41 279.94h6.48v1.03h-6.48zM145 280.95h11.3v1.03h-11.3zM147.45 280.95h6.41v1.03h-6.41zM147.48 281.95h6.34v1.03h-6.34zM145 282.96h11.3v1.03h-11.3zM147.51 282.96h6.28v1.03h-6.28zM147.54 283.96h6.21v1.03h-6.21zM147.64 286.98h6.01v1.03h-6.01zM147.68 287.98h5.95v1.03h-5.95zM147.81 292.01h5.68v1.03h-5.68zM147.91 295.02h5.48v1.03h-5.48zM147.98 297.03h5.35v1.03h-5.35zM148.01 298.04h5.28v1.03h-5.28zM148.08 300.05h5.15v1.03h-5.15zM148.11 301.05h5.08v1.03h-5.08zM158.96 234.05h9.58v1.03h-9.58zM158.1 240.09h11.3v1.03h-11.3zM159.1 240.09h9.29v1.03h-9.29zM159.13 241.1h9.25v1.03h-9.25zM158.1 242.11h11.3v1.03h-11.3zM159.15 242.11h9.2v1.03h-9.2zM158.1 243.11h11.3v1.03h-11.3zM159.17 243.11h9.15v1.03h-9.15zM158.1 244.12h11.3v1.03h-11.3zM159.2 244.12h9.1v1.03h-9.1zM158.1 245.13h11.3v1.03h-11.3zM159.22 245.13h9.06v1.03h-9.06zM158.1 246.13h11.3v1.03h-11.3zM158.1 248.15h11.3v1.03h-11.3zM159.29 248.15h8.91v1.03h-8.91zM158.1 249.15h11.3v1.03h-11.3zM159.32 249.15h8.86v1.03h-8.86zM158.1 251.17h11.3v1.03h-11.3zM159.37 251.17h8.77v1.03h-8.77zM158.1 252.18h11.3v1.03h-11.3zM159.39 252.18h8.72v1.03h-8.72zM158.1 253.18h11.3v1.03h-11.3zM159.41 253.18h8.67v1.03h-8.67zM159.44 254.19h8.63v1.03h-8.63zM158.1 255.2h11.3v1.03h-11.3zM159.46 255.2h8.58v1.03h-8.58zM159.48 256.2h8.53v1.03h-8.53zM160.28 272.91h6.94v1.03h-6.94zM160.31 273.91h6.87v1.03h-6.87zM160.38 275.92h6.74v1.03h-6.74zM160.45 277.93h6.61v1.03h-6.61zM160.48 278.94h6.54v1.03h-6.54zM158.1 279.94h11.3v1.03h-11.3zM158.1 280.95h11.3v1.03h-11.3zM160.55 280.95h6.41v1.03h-6.41zM158.1 281.95h11.3v1.03h-11.3zM160.58 281.95h6.34v1.03h-6.34zM160.64 283.96h6.21v1.03h-6.21zM160.71 285.97h6.08v1.03h-6.08zM160.74 286.98h6.01v1.03h-6.01zM160.78 287.98h5.95v1.03h-5.95zM160.88 291h5.75v1.03h-5.75zM160.91 292.01h5.68v1.03h-5.68zM160.94 293.01h5.61v1.03h-5.61zM160.98 294.02h5.55v1.03h-5.55zM161.01 295.02h5.48v1.03h-5.48zM161.31 304.07h4.88v1.03h-4.88z" fill="#1f68b0" fill-opacity="0.06"/>
<path d="M181.11 199.81h6.89v1.03h-6.89zM181.16 201.83h6.77v1.03h-6.77zM181.43 210.89h6.24v1.03h-6.24zM181.49 212.9h6.12v1.03h-6.12zM178.9 214.92h11.3v1.03h-11.3zM181.61 216.93h5.89v1.03h-5.89zM178.9 217.94h11.3v1.03h-11.3zM178.9 218.95h11.3v1.03h-11.3zM178.9 219.95h11.3v1.03h-11.3zM178.9 220.96h11.3v1.03h-11.3zM178.9 222.97h11.3v1.03h-11.3zM178.9 223.98h11.3v1.03h-11.3zM181.81 223.98h5.47v1.03h-5.47zM178.9 225.99h11.3v1.03h-11.3zM181.87 225.99h5.36v1.03h-5.36zM182.25 239.08h4.59v1.03h-4.59zM182.31 241.1h4.47v1.03h-4.47zM179.47 297.03h10.17v1.03h-10.17zM179.49 298.04h10.12v1.03h-10.12zM179.51 299.04h10.08v1.03h-10.08zM179.56 301.05h9.99v1.03h-9.99zM179.6 303.06h9.9v1.03h-9.9zM179.62 304.07h9.85v1.03h-9.85zM179.67 306.08h9.76v1.03h-9.76zM179.71 308.09h9.67v1.03h-9.67zM178.9 309.09h11.3v1.03h-11.3zM179.74 309.09h9.63v1.03h-9.63zM179.76 310.1h9.58v1.03h-9.58zM179.78 311.11h9.54v1.03h-9.54zM178.9 312.11h11.3v1.03h-11.3zM179.8 312.11h9.49v1.03h-9.49zM179.83 313.12h9.45v1.03h-9.45zM178.9 314.12h11.3v1.03h-11.3zM179.85 314.12h9.4v1.03h-9.4zM178.9 315.13h11.3v1.03h-11.3zM179.87 315.13h9.36v1.03h-9.36zM178.9 316.13h11.3v1.03h-11.3zM179.89 316.13h9.31v1.03h-9.31zM178.9 317.14h11.3v1.03h-11.3zM179.92 317.14h9.27v1.03h-9.27zM178.9 318.14h11.3v1.03h-11.3zM193.84 201.83h6.71v1.03h-6.71zM193.87 202.83h6.65v1.03h-6.65zM193.93 204.85h6.54v1.03h-6.54zM193.99 206.86h6.42v1.03h-6.42zM194.02 207.87h6.36v1.03h-6.36zM194.19 213.91h6.01v1.03h-6.01zM191.6 214.92h11.2v1.03h-11.2zM191.6 215.93h11.2v1.03h-11.2zM191.6 216.93h11.2v1.03h-11.2zM191.6 217.94h11.2v1.03h-11.2zM191.6 218.95h11.2v1.03h-11.2zM191.6 219.95h11.2v1.03h-11.2zM194.37 219.95h5.66v1.03h-5.66zM191.6 220.96h11.2v1.03h-11.2zM191.6 222.97h11.2v1.03h-11.2zM191.6 224.99h11.2v1.03h-11.2zM191.6 228.01h11.2v1.03h-11.2zM194.81 235.06h4.78v1.03h-4.78zM194.84 236.06h4.73v1.03h-4.73zM194.98 241.1h4.43v1.03h-4.43zM192.18 298.04h10.04v1.03h-10.04zM192.2 299.04h9.99v1.03h-9.99zM192.29 303.06h9.81v1.03h-9.81zM192.32 304.07h9.77v1.03h-9.77zM192.34 305.07h9.72v1.03h-9.72zM192.36 306.08h9.68v1.03h-9.68zM192.38 307.08h9.63v1.03h-9.63zM192.41 308.09h9.59v1.03h-9.59zM191.6 309.09h11.2v1.03h-11.2zM192.45 310.1h9.5v1.03h-9.5zM191.6 311.11h11.2v1.03h-11.2zM191.6 312.11h11.2v1.03h-11.2zM191.6 313.12h11.2v1.03h-11.2zM192.52 313.12h9.36v1.03h-9.36zM191.6 314.12h11.2v1.03h-11.2zM191.6 316.13h11.2v1.03h-11.2zM192.59 316.13h9.23v1.03h-9.23zM191.6 317.14h11.2v1.03h-11.2zM192.61 317.14h9.18v1.03h-9.18zM191.6 318.14h11.2v1.03h-11.2zM192.63 318.14h9.14v1.03h-9.14zM191.6 319.15h11.2v1.03h-11.2zM192.65 319.15h9.09v1.03h-9.09zM206.65 224.99h10.1v1.03h-10.1zM206.75 229.02h9.91v1.03h-9.91zM206.77 230.02h9.86v1.03h-9.86zM206.79 231.03h9.81v1.03h-9.81zM206.84 233.04h9.71v1.03h-9.71zM206.87 234.05h9.67v1.03h-9.67zM206.89 235.06h9.62v1.03h-9.62zM206.94 237.07h9.52v1.03h-9.52zM206.99 239.08h9.43v1.03h-9.43zM207.01 240.09h9.38v1.03h-9.38zM207.04 241.1h9.33v1.03h-9.33zM207.06 242.11h9.28v1.03h-9.28zM207.08 243.11h9.23v1.03h-9.23zM207.11 244.12h9.18v1.03h-9.18zM206 245.13h11.4v1.03h-11.4zM206 246.13h11.4v1.03h-11.4zM206 247.14h11.4v1.03h-11.4zM206 248.15h11.4v1.03h-11.4zM206 249.15h11.4v1.03h-11.4zM206 250.16h11.4v1.03h-11.4zM206 251.17h11.4v1.03h-11.4zM206 252.18h11.4v1.03h-11.4zM206 254.19h11.4v1.03h-11.4zM206 255.2h11.4v1.03h-11.4zM206 257.21h11.4v1.03h-11.4zM206 258.22h11.4v1.03h-11.4zM206 260.23h11.4v1.03h-11.4zM206 261.24h11.4v1.03h-11.4zM206 263.25h11.4v1.03h-11.4zM206 274.92h11.4v1.03h-11.4zM206 275.92h11.4v1.03h-11.4zM206 276.93h11.4v1.03h-11.4zM206 278.94h11.4v1.03h-11.4zM206 279.94h11.4v1.03h-11.4zM206 280.95h11.4v1.03h-11.4zM219.62 223.98h9.97v1.03h-9.97zM219.76 230.02h9.69v1.03h-9.69zM219.83 233.04h9.54v1.03h-9.54zM219.85 234.05h9.5v1.03h-9.5zM219.88 235.06h9.45v1.03h-9.45zM219.9 236.06h9.4v1.03h-9.4zM219.95 238.08h9.31v1.03h-9.31zM219.97 239.08h9.26v1.03h-9.26zM220.02 241.1h9.17v1.03h-9.17zM220.06 243.11h9.07v1.03h-9.07zM219 244.12h11.2v1.03h-11.2zM219 245.13h11.2v1.03h-11.2zM219 246.13h11.2v1.03h-11.2zM219 247.14h11.2v1.03h-11.2zM220.18 248.15h8.83v1.03h-8.83zM219 249.15h11.2v1.03h-11.2zM219 250.16h11.2v1.03h-11.2zM219 251.17h11.2v1.03h-11.2zM219 252.18h11.2v1.03h-11.2zM219 253.18h11.2v1.03h-11.2zM219 254.19h11.2v1.03h-11.2zM219 255.2h11.2v1.03h-11.2zM219 256.2h11.2v1.03h-11.2zM219 257.21h11.2v1.03h-11.2zM219 258.22h11.2v1.03h-11.2zM219 259.22h11.2v1.03h-11.2zM219 260.23h11.2v1.03h-11.2zM219 261.24h11.2v1.03h-11.2zM219 273.91h11.2v1.03h-11.2zM219 274.92h11.2v1.03h-11.2zM219 275.92h11.2v1.03h-11.2zM219 276.93h11.2v1.03h-11.2zM219 277.93h11.2v1.03h-11.2zM219 278.94h11.2v1.03h-11.2z" fill="#4a38a6" fill-opacity="0.06"/>
<path d="M119.7 198.81h7.01v1.03h-7.01zM119.73 199.81h6.95v1.03h-6.95zM119.76 200.82h6.89v1.03h-6.89zM119.78 201.83h6.83v1.03h-6.83zM119.84 203.84h6.71v1.03h-6.71zM119.87 204.85h6.65v1.03h-6.65zM119.99 208.88h6.41v1.03h-6.41zM120.02 209.88h6.36v1.03h-6.36zM120.11 212.9h6.18v1.03h-6.18zM117.5 215.93h11.4v1.03h-11.4zM120.29 218.95h5.82v1.03h-5.82zM117.5 219.95h11.4v1.03h-11.4zM120.35 220.96h5.7v1.03h-5.7zM117.5 221.97h11.4v1.03h-11.4zM120.41 222.97h5.58v1.03h-5.58zM117.5 223.98h11.4v1.03h-11.4zM120.44 223.98h5.52v1.03h-5.52zM117.5 225.99h11.4v1.03h-11.4zM120.71 233.04h4.99v1.03h-4.99zM120.74 234.05h4.93v1.03h-4.93zM120.85 238.08h4.69v1.03h-4.69zM120.94 241.1h4.51v1.03h-4.51zM117.5 301.05h11.4v1.03h-11.4zM118.16 301.05h10.08v1.03h-10.08zM117.5 302.06h11.4v1.03h-11.4zM118.18 302.06h10.03v1.03h-10.03zM118.21 303.06h9.99v1.03h-9.99zM118.23 304.07h9.94v1.03h-9.94zM117.5 305.07h11.4v1.03h-11.4zM118.28 306.08h9.85v1.03h-9.85zM118.3 307.08h9.8v1.03h-9.8zM118.37 310.1h9.67v1.03h-9.67zM118.39 311.11h9.62v1.03h-9.62zM118.41 312.11h9.58v1.03h-9.58zM132.75 197.8h7.01v1.03h-7.01zM132.81 199.81h6.89v1.03h-6.89zM132.84 200.82h6.83v1.03h-6.83zM132.89 202.83h6.71v1.03h-6.71zM133.01 206.86h6.48v1.03h-6.48zM133.07 208.88h6.36v1.03h-6.36zM133.19 212.9h6.12v1.03h-6.12zM133.31 216.93h5.89v1.03h-5.89zM130.6 218.95h11.3v1.03h-11.3zM130.6 219.95h11.3v1.03h-11.3zM130.6 220.96h11.3v1.03h-11.3zM130.6 222.97h11.3v1.03h-11.3zM133.48 222.97h5.53v1.03h-5.53zM130.6 223.98h11.3v1.03h-11.3zM130.6 224.99h11.3v1.03h-11.3zM130.6 225.99h11.3v1.03h-11.3zM133.57 225.99h5.36v1.03h-5.36zM130.6 298.04h11.3v1.03h-11.3zM131.19 298.04h10.12v1.03h-10.12zM130.6 299.04h11.3v1.03h-11.3zM131.21 299.04h10.08v1.03h-10.08zM130.6 300.05h11.3v1.03h-11.3zM130.6 301.05h11.3v1.03h-11.3zM131.26 301.05h9.99v1.03h-9.99zM131.28 302.06h9.94v1.03h-9.94zM130.6 303.06h11.3v1.03h-11.3zM130.6 304.07h11.3v1.03h-11.3zM131.39 307.08h9.72v1.03h-9.72zM131.46 310.1h9.58v1.03h-9.58zM131.48 311.11h9.54v1.03h-9.54zM131.5 312.11h9.49v1.03h-9.49zM131.53 313.12h9.45v1.03h-9.45zM131.55 314.12h9.4v1.03h-9.4zM131.59 316.13h9.31v1.03h-9.31zM131.62 317.14h9.27v1.03h-9.27zM131.66 319.15h9.18v1.03h-9.18zM131.71 321.16h9.09v1.03h-9.09zM145.57 221.97h10.15v1.03h-10.15zM145.67 225.99h9.96v1.03h-9.96zM145.69 227h9.92v1.03h-9.92zM145.72 228.01h9.87v1.03h-9.87zM145.76 230.02h9.77v1.03h-9.77zM145.81 232.04h9.68v1.03h-9.68zM145.84 233.04h9.63v1.03h-9.63zM145 235.06h11.3v1.03h-11.3zM145 236.06h11.3v1.03h-11.3zM145 237.07h11.3v1.03h-11.3zM145.93 237.07h9.44v1.03h-9.44zM145 238.08h11.3v1.03h-11.3zM145.95 238.08h9.39v1.03h-9.39zM145 239.08h11.3v1.03h-11.3zM145 240.09h11.3v1.03h-11.3zM146 240.09h9.29v1.03h-9.29zM145 242.11h11.3v1.03h-11.3zM146.05 242.11h9.2v1.03h-9.2zM145 243.11h11.3v1.03h-11.3zM146.07 243.11h9.15v1.03h-9.15zM145 244.12h11.3v1.03h-11.3zM146.1 244.12h9.1v1.03h-9.1zM146.17 247.14h8.96v1.03h-8.96zM145 277.93h11.3v1.03h-11.3zM145 281.95h11.3v1.03h-11.3zM158.77 225.99h9.96v1.03h-9.96zM158.79 227h9.92v1.03h-9.92zM158.89 231.03h9.72v1.03h-9.72zM158.91 232.04h9.68v1.03h-9.68zM158.94 233.04h9.63v1.03h-9.63zM158.1 234.05h11.3v1.03h-11.3zM159.01 236.06h9.49v1.03h-9.49zM159.03 237.07h9.44v1.03h-9.44zM158.1 238.08h11.3v1.03h-11.3zM159.05 238.08h9.39v1.03h-9.39zM158.1 239.08h11.3v1.03h-11.3zM159.08 239.08h9.34v1.03h-9.34zM158.1 241.1h11.3v1.03h-11.3zM159.25 246.13h9.01v1.03h-9.01zM158.1 274.92h11.3v1.03h-11.3zM158.1 276.93h11.3v1.03h-11.3zM158.1 278.94h11.3v1.03h-11.3z" fill="#1f68b0" fill-opacity="0.08"/>
<path d="M178.9 206.86h11.3v1.03h-11.3zM178.9 209.88h11.3v1.03h-11.3zM178.9 211.9h11.3v1.03h-11.3zM178.9 212.9h11.3v1.03h-11.3zM178.9 213.91h11.3v1.03h-11.3zM178.9 215.93h11.3v1.03h-11.3zM178.9 216.93h11.3v1.03h-11.3zM179.06 278.94h10.98v1.03h-10.98zM179.17 283.96h10.76v1.03h-10.76zM179.19 284.97h10.71v1.03h-10.71zM179.22 285.97h10.67v1.03h-10.67zM179.26 287.98h10.58v1.03h-10.58zM179.35 292.01h10.4v1.03h-10.4zM179.4 294.02h10.31v1.03h-10.31zM179.42 295.02h10.26v1.03h-10.26zM179.44 296.03h10.22v1.03h-10.22zM179.53 300.05h10.03v1.03h-10.03zM179.58 302.06h9.94v1.03h-9.94zM178.9 303.06h11.3v1.03h-11.3zM178.9 304.07h11.3v1.03h-11.3zM179.65 305.07h9.81v1.03h-9.81zM178.9 306.08h11.3v1.03h-11.3zM179.69 307.08h9.72v1.03h-9.72zM178.9 308.09h11.3v1.03h-11.3zM178.9 310.1h11.3v1.03h-11.3zM178.9 311.11h11.3v1.03h-11.3zM178.9 313.12h11.3v1.03h-11.3zM183.3 340.26h2.5v1.03h-2.5zM183.47 345.28h2.17v1.03h-2.17zM183.53 347.29h2.03v1.03h-2.03zM191.6 208.88h11.2v1.03h-11.2zM191.6 210.89h11.2v1.03h-11.2zM191.6 211.9h11.2v1.03h-11.2zM191.6 212.9h11.2v1.03h-11.2zM191.6 213.91h11.2v1.03h-11.2zM191.82 281.95h10.75v1.03h-10.75zM192 289.99h10.39v1.03h-10.39zM192.03 291h10.35v1.03h-10.35zM192.07 293.01h10.26v1.03h-10.26zM192.12 295.02h10.17v1.03h-10.17zM192.14 296.03h10.12v1.03h-10.12zM192.16 297.03h10.08v1.03h-10.08zM192.23 300.05h9.95v1.03h-9.95zM192.25 301.05h9.9v1.03h-9.9zM192.27 302.06h9.86v1.03h-9.86zM191.6 304.07h11.2v1.03h-11.2zM191.6 305.07h11.2v1.03h-11.2zM191.6 306.08h11.2v1.03h-11.2zM191.6 307.08h11.2v1.03h-11.2zM191.6 308.09h11.2v1.03h-11.2zM191.6 310.1h11.2v1.03h-11.2zM195.83 336.24h2.74v1.03h-2.74zM195.86 337.24h2.67v1.03h-2.67zM196.03 342.27h2.34v1.03h-2.34zM196.09 344.28h2.21v1.03h-2.21zM196.19 347.29h2.02v1.03h-2.02zM206.41 214.92h10.58v1.03h-10.58zM206.51 218.95h10.39v1.03h-10.39zM206.53 219.95h10.34v1.03h-10.34zM206.55 220.96h10.29v1.03h-10.29zM206.58 221.97h10.24v1.03h-10.24zM206.63 223.98h10.15v1.03h-10.15zM206.72 228.01h9.95v1.03h-9.95zM206.82 232.04h9.76v1.03h-9.76zM206.92 236.06h9.57v1.03h-9.57zM206.96 238.08h9.47v1.03h-9.47zM206 239.08h11.4v1.03h-11.4zM206 241.1h11.4v1.03h-11.4zM206 242.11h11.4v1.03h-11.4zM206 271.9h11.4v1.03h-11.4zM206 273.91h11.4v1.03h-11.4zM219.45 216.93h10.3v1.03h-10.3zM219.5 218.95h10.21v1.03h-10.21zM219.52 219.95h10.16v1.03h-10.16zM219.57 221.97h10.06v1.03h-10.06zM219.59 222.97h10.02v1.03h-10.02zM219.66 225.99h9.87v1.03h-9.87zM219.69 227h9.83v1.03h-9.83zM219.71 228.01h9.78v1.03h-9.78zM219.73 229.02h9.73v1.03h-9.73zM219.78 231.03h9.64v1.03h-9.64zM219.8 232.04h9.59v1.03h-9.59zM219.92 237.07h9.35v1.03h-9.35zM219 238.08h11.2v1.03h-11.2zM219 240.09h11.2v1.03h-11.2zM219 242.11h11.2v1.03h-11.2zM219 248.15h11.2v1.03h-11.2zM219 271.9h11.2v1.03h-11.2zM219 272.91h11.2v1.03h-11.2z" fill="#4a38a6" fill-opacity="0.08"/>
<path d="M117.5 213.91h11.4v1.03h-11.4zM117.5 214.92h11.4v1.03h-11.4zM117.5 216.93h11.4v1.03h-11.4zM117.5 217.94h11.4v1.03h-11.4zM117.5 218.95h11.4v1.03h-11.4zM117.5 220.96h11.4v1.03h-11.4zM117.5 222.97h11.4v1.03h-11.4zM117.8 284.97h10.81v1.03h-10.81zM117.93 291h10.53v1.03h-10.53zM117.96 292.01h10.49v1.03h-10.49zM117.98 293.01h10.44v1.03h-10.44zM117.5 297.03h11.4v1.03h-11.4zM118.07 297.03h10.26v1.03h-10.26zM117.5 300.05h11.4v1.03h-11.4zM118.14 300.05h10.12v1.03h-10.12zM118.25 305.07h9.9v1.03h-9.9zM130.6 209.88h11.3v1.03h-11.3zM130.6 210.89h11.3v1.03h-11.3zM130.6 211.9h11.3v1.03h-11.3zM130.6 213.91h11.3v1.03h-11.3zM130.6 214.92h11.3v1.03h-11.3zM130.6 215.93h11.3v1.03h-11.3zM130.6 216.93h11.3v1.03h-11.3zM130.6 217.94h11.3v1.03h-11.3zM131.03 291h10.44v1.03h-10.44zM131.07 293.01h10.35v1.03h-10.35zM131.12 295.02h10.26v1.03h-10.26zM131.23 300.05h10.03v1.03h-10.03zM131.3 303.06h9.9v1.03h-9.9zM131.32 304.07h9.85v1.03h-9.85zM131.41 308.09h9.67v1.03h-9.67zM131.44 309.09h9.63v1.03h-9.63zM145.38 213.91h10.54v1.03h-10.54zM145.53 219.95h10.25v1.03h-10.25zM145.55 220.96h10.2v1.03h-10.2zM145.6 222.97h10.11v1.03h-10.11zM145.62 223.98h10.06v1.03h-10.06zM145.64 224.99h10.01v1.03h-10.01zM145.74 229.02h9.82v1.03h-9.82zM145.79 231.03h9.72v1.03h-9.72zM145 232.04h11.3v1.03h-11.3zM145 233.04h11.3v1.03h-11.3zM145.86 234.05h9.58v1.03h-9.58zM145 276.93h11.3v1.03h-11.3zM158.46 212.9h10.58v1.03h-10.58zM158.51 214.92h10.49v1.03h-10.49zM158.53 215.93h10.44v1.03h-10.44zM158.58 217.94h10.35v1.03h-10.35zM158.6 218.95h10.3v1.03h-10.3zM158.67 221.97h10.15v1.03h-10.15zM158.72 223.98h10.06v1.03h-10.06zM158.82 228.01h9.87v1.03h-9.87zM158.84 229.02h9.82v1.03h-9.82zM158.86 230.02h9.77v1.03h-9.77zM158.1 232.04h11.3v1.03h-11.3zM158.1 233.04h11.3v1.03h-11.3zM158.98 235.06h9.53v1.03h-9.53zM158.1 236.06h11.3v1.03h-11.3zM158.1 237.07h11.3v1.03h-11.3zM158.1 275.92h11.3v1.03h-11.3zM158.1 277.93h11.3v1.03h-11.3z" fill="#1f68b0" fill-opacity="0.1"/>
<path d="M178.9 202.83h11.3v1.03h-11.3zM178.9 203.84h11.3v1.03h-11.3zM178.9 204.85h11.3v1.03h-11.3zM178.9 205.86h11.3v1.03h-11.3zM178.9 207.87h11.3v1.03h-11.3zM178.9 208.88h11.3v1.03h-11.3zM178.9 210.89h11.3v1.03h-11.3zM178.99 275.92h11.12v1.03h-11.12zM179.01 276.93h11.07v1.03h-11.07zM179.04 277.93h11.03v1.03h-11.03zM179.08 279.94h10.94v1.03h-10.94zM179.1 280.95h10.89v1.03h-10.89zM179.13 281.95h10.85v1.03h-10.85zM179.24 286.98h10.62v1.03h-10.62zM179.28 288.99h10.53v1.03h-10.53zM179.31 289.99h10.49v1.03h-10.49zM179.33 291h10.44v1.03h-10.44zM179.37 293.01h10.35v1.03h-10.35zM178.9 299.04h11.3v1.03h-11.3zM178.9 305.07h11.3v1.03h-11.3zM178.9 307.08h11.3v1.03h-11.3zM182.8 325.18h3.49v1.03h-3.49zM182.84 326.18h3.43v1.03h-3.43zM182.94 329.2h3.23v1.03h-3.23zM183 331.21h3.09v1.03h-3.09zM183.2 337.24h2.7v1.03h-2.7zM183.33 341.26h2.43v1.03h-2.43zM183.37 342.27h2.37v1.03h-2.37zM183.4 343.27h2.3v1.03h-2.3zM183.43 344.28h2.23v1.03h-2.23zM183.5 346.29h2.1v1.03h-2.1zM191.6 199.81h11.2v1.03h-11.2zM191.6 205.86h11.2v1.03h-11.2zM191.6 207.87h11.2v1.03h-11.2zM191.6 209.88h11.2v1.03h-11.2zM191.64 273.91h11.11v1.03h-11.11zM191.76 278.94h10.89v1.03h-10.89zM191.87 283.96h10.66v1.03h-10.66zM191.94 286.98h10.53v1.03h-10.53zM191.96 287.98h10.48v1.03h-10.48zM191.98 288.99h10.44v1.03h-10.44zM192.05 292.01h10.3v1.03h-10.3zM192.09 294.02h10.21v1.03h-10.21zM191.6 298.04h11.2v1.03h-11.2zM191.6 299.04h11.2v1.03h-11.2zM191.6 303.06h11.2v1.03h-11.2zM195.63 330.21h3.13v1.03h-3.13zM195.67 331.21h3.07v1.03h-3.07zM195.8 335.23h2.8v1.03h-2.8zM195.96 340.26h2.48v1.03h-2.48zM195.99 341.26h2.41v1.03h-2.41zM196.06 343.27h2.28v1.03h-2.28zM196.13 345.28h2.15v1.03h-2.15zM196.16 346.29h2.08v1.03h-2.08zM206.19 205.86h11.01v1.03h-11.01zM206.24 207.87h10.92v1.03h-10.92zM206.39 213.91h10.63v1.03h-10.63zM206.43 215.93h10.53v1.03h-10.53zM206.46 216.93h10.48v1.03h-10.48zM206.48 217.94h10.44v1.03h-10.44zM206.6 222.97h10.2v1.03h-10.2zM206.67 225.99h10.05v1.03h-10.05zM206.7 227h10v1.03h-10zM206 233.04h11.4v1.03h-11.4zM206 234.05h11.4v1.03h-11.4zM206 235.06h11.4v1.03h-11.4zM206 237.07h11.4v1.03h-11.4zM206 240.09h11.4v1.03h-11.4zM206 243.11h11.4v1.03h-11.4zM206 244.12h11.4v1.03h-11.4zM209.98 259.22h3.44v1.03h-3.44zM210.13 264.26h3.15v1.03h-3.15zM210.19 266.27h3.03v1.03h-3.03zM206 272.91h11.4v1.03h-11.4zM219.26 208.88h10.68v1.03h-10.68zM219.31 210.89h10.58v1.03h-10.58zM219.38 213.91h10.44v1.03h-10.44zM219.4 214.92h10.4v1.03h-10.4zM219.43 215.93h10.35v1.03h-10.35zM219.47 217.94h10.25v1.03h-10.25zM219.54 220.96h10.11v1.03h-10.11zM219.64 224.99h9.92v1.03h-9.92zM219 235.06h11.2v1.03h-11.2zM219 236.06h11.2v1.03h-11.2zM219 239.08h11.2v1.03h-11.2zM219 241.1h11.2v1.03h-11.2zM219 243.11h11.2v1.03h-11.2zM223.08 265.27h3.03v1.03h-3.03zM223.14 267.28h2.92v1.03h-2.92zM223.2 269.29h2.8v1.03h-2.8z" fill="#4a38a6" fill-opacity="0.1"/>
<path d="M117.5 205.86h11.4v1.03h-11.4zM117.5 207.87h11.4v1.03h-11.4zM117.5 210.89h11.4v1.03h-11.4zM117.5 211.9h11.4v1.03h-11.4zM117.5 212.9h11.4v1.03h-11.4zM117.66 278.94h11.08v1.03h-11.08zM117.71 280.95h10.99v1.03h-10.99zM117.73 281.95h10.94v1.03h-10.94zM117.84 286.98h10.72v1.03h-10.72zM117.86 287.98h10.67v1.03h-10.67zM117.89 288.99h10.62v1.03h-10.62zM117.91 289.99h10.58v1.03h-10.58zM118.02 295.02h10.35v1.03h-10.35zM117.5 296.03h11.4v1.03h-11.4zM118.05 296.03h10.31v1.03h-10.31zM117.5 298.04h11.4v1.03h-11.4zM118.09 298.04h10.21v1.03h-10.21zM117.5 299.04h11.4v1.03h-11.4zM118.12 299.04h10.17v1.03h-10.17zM122.11 345.28h2.19v1.03h-2.19zM130.6 207.87h11.3v1.03h-11.3zM130.6 212.9h11.3v1.03h-11.3zM130.74 277.93h11.03v1.03h-11.03zM130.76 278.94h10.98v1.03h-10.98zM130.8 280.95h10.89v1.03h-10.89zM130.87 283.96h10.76v1.03h-10.76zM130.89 284.97h10.71v1.03h-10.71zM130.92 285.97h10.67v1.03h-10.67zM130.98 288.99h10.53v1.03h-10.53zM131.05 292.01h10.4v1.03h-10.4zM130.6 293.01h11.3v1.03h-11.3zM131.1 294.02h10.31v1.03h-10.31zM130.6 295.02h11.3v1.03h-11.3zM131.14 296.03h10.22v1.03h-10.22zM130.6 297.03h11.3v1.03h-11.3zM131.16 297.03h10.17v1.03h-10.17zM135.17 345.28h2.17v1.03h-2.17zM135.2 346.29h2.1v1.03h-2.1zM145.19 205.86h10.92v1.03h-10.92zM145.33 211.9h10.63v1.03h-10.63zM145.36 212.9h10.58v1.03h-10.58zM145.43 215.93h10.44v1.03h-10.44zM145.45 216.93h10.39v1.03h-10.39zM145.48 217.94h10.35v1.03h-10.35zM145.5 218.95h10.3v1.03h-10.3zM145 227h11.3v1.03h-11.3zM145 228.01h11.3v1.03h-11.3zM145 230.02h11.3v1.03h-11.3zM145 231.03h11.3v1.03h-11.3zM145 234.05h11.3v1.03h-11.3zM145 273.91h11.3v1.03h-11.3zM145 274.92h11.3v1.03h-11.3zM145 275.92h11.3v1.03h-11.3zM158.27 204.85h10.97v1.03h-10.97zM158.36 208.88h10.77v1.03h-10.77zM158.39 209.88h10.73v1.03h-10.73zM158.41 210.89h10.68v1.03h-10.68zM158.48 213.91h10.54v1.03h-10.54zM158.55 216.93h10.39v1.03h-10.39zM158.63 219.95h10.25v1.03h-10.25zM158.65 220.96h10.2v1.03h-10.2zM158.7 222.97h10.11v1.03h-10.11zM158.74 224.99h10.01v1.03h-10.01zM158.1 230.02h11.3v1.03h-11.3zM158.1 231.03h11.3v1.03h-11.3zM158.1 235.06h11.3v1.03h-11.3zM158.1 271.9h11.3v1.03h-11.3zM158.1 273.91h11.3v1.03h-11.3z" fill="#1f68b0" fill-opacity="0.12"/>
<path d="M178.9 197.8h11.3v1.03h-11.3zM178.9 198.81h11.3v1.03h-11.3zM178.9 200.82h11.3v1.03h-11.3zM178.9 271.9h11.3v1.03h-11.3zM178.97 274.92h11.16v1.03h-11.16zM179.15 282.96h10.8v1.03h-10.8zM178.9 297.03h11.3v1.03h-11.3zM178.9 298.04h11.3v1.03h-11.3zM178.9 300.05h11.3v1.03h-11.3zM178.9 301.05h11.3v1.03h-11.3zM178.9 302.06h11.3v1.03h-11.3zM182.07 303.06h4.95v1.03h-4.95zM182.11 304.07h4.88v1.03h-4.88zM182.6 319.15h3.89v1.03h-3.89zM182.67 321.16h3.76v1.03h-3.76zM182.7 322.16h3.69v1.03h-3.69zM182.87 327.19h3.36v1.03h-3.36zM182.9 328.19h3.29v1.03h-3.29zM183.07 333.22h2.96v1.03h-2.96zM183.14 335.23h2.83v1.03h-2.83zM183.17 336.24h2.76v1.03h-2.76zM183.23 338.25h2.63v1.03h-2.63zM183.27 339.25h2.56v1.03h-2.56zM191.6 197.8h11.2v1.03h-11.2zM191.6 200.82h11.2v1.03h-11.2zM191.6 203.84h11.2v1.03h-11.2zM191.6 204.85h11.2v1.03h-11.2zM191.6 206.86h11.2v1.03h-11.2zM191.69 275.92h11.02v1.03h-11.02zM191.71 276.93h10.98v1.03h-10.98zM191.78 279.94h10.84v1.03h-10.84zM191.8 280.95h10.8v1.03h-10.8zM191.85 282.96h10.71v1.03h-10.71zM191.89 284.97h10.62v1.03h-10.62zM191.91 285.97h10.57v1.03h-10.57zM191.6 301.05h11.2v1.03h-11.2zM191.6 302.06h11.2v1.03h-11.2zM194.78 304.07h4.84v1.03h-4.84zM194.94 309.09h4.51v1.03h-4.51zM195.01 311.11h4.38v1.03h-4.38zM195.04 312.11h4.32v1.03h-4.32zM195.11 314.12h4.18v1.03h-4.18zM195.14 315.13h4.12v1.03h-4.12zM195.3 320.15h3.79v1.03h-3.79zM195.37 322.16h3.66v1.03h-3.66zM195.4 323.17h3.59v1.03h-3.59zM195.44 324.17h3.53v1.03h-3.53zM195.47 325.18h3.46v1.03h-3.46zM195.5 326.18h3.4v1.03h-3.4zM195.76 334.23h2.87v1.03h-2.87zM195.9 338.25h2.61v1.03h-2.61zM195.93 339.25h2.54v1.03h-2.54zM206.07 200.82h11.26v1.03h-11.26zM206.14 203.84h11.11v1.03h-11.11zM206.22 206.86h10.97v1.03h-10.97zM206.26 208.88h10.87v1.03h-10.87zM206.29 209.88h10.82v1.03h-10.82zM206.34 211.9h10.73v1.03h-10.73zM206.36 212.9h10.68v1.03h-10.68zM206 229.02h11.4v1.03h-11.4zM206 230.02h11.4v1.03h-11.4zM206 231.03h11.4v1.03h-11.4zM206 236.06h11.4v1.03h-11.4zM206 238.08h11.4v1.03h-11.4zM209.62 247.14h4.16v1.03h-4.16zM209.65 248.15h4.1v1.03h-4.1zM209.77 252.18h3.86v1.03h-3.86zM209.8 253.18h3.8v1.03h-3.8zM209.86 255.2h3.68v1.03h-3.68zM209.89 256.2h3.62v1.03h-3.62zM210.07 262.24h3.27v1.03h-3.27zM210.22 267.28h2.97v1.03h-2.97zM210.25 268.29h2.91v1.03h-2.91zM210.27 269.29h2.85v1.03h-2.85zM219 197.8h11.2v1.03h-11.2zM219.07 200.82h11.06v1.03h-11.06zM219.24 207.87h10.73v1.03h-10.73zM219.33 211.9h10.54v1.03h-10.54zM219 230.02h11.2v1.03h-11.2zM219 233.04h11.2v1.03h-11.2zM219 234.05h11.2v1.03h-11.2zM219 237.07h11.2v1.03h-11.2zM222.47 244.12h4.26v1.03h-4.26zM222.65 250.16h3.91v1.03h-3.91zM222.67 251.17h3.85v1.03h-3.85zM223 262.24h3.21v1.03h-3.21zM223.02 263.25h3.15v1.03h-3.15zM223.05 264.26h3.09v1.03h-3.09zM223.11 266.27h2.98v1.03h-2.98zM223.17 268.29h2.86v1.03h-2.86z" fill="#4a38a6" fill-opacity="0.12"/>
<path d="M117.5 206.86h11.4v1.03h-11.4zM117.57 274.92h11.26v1.03h-11.26zM117.61 276.93h11.17v1.03h-11.17zM117.68 279.94h11.04v1.03h-11.04zM117.82 285.97h10.76v1.03h-10.76zM117.5 291h11.4v1.03h-11.4zM117.5 292.01h11.4v1.03h-11.4zM117.5 293.01h11.4v1.03h-11.4zM118 294.02h10.4v1.03h-10.4zM117.5 295.02h11.4v1.03h-11.4zM121.84 337.24h2.72v1.03h-2.72zM121.87 338.25h2.65v1.03h-2.65zM122.04 343.27h2.32v1.03h-2.32zM122.07 344.28h2.25v1.03h-2.25zM122.14 346.29h2.12v1.03h-2.12zM130.6 203.84h11.3v1.03h-11.3zM130.6 204.85h11.3v1.03h-11.3zM130.6 205.86h11.3v1.03h-11.3zM130.62 272.91h11.25v1.03h-11.25zM130.69 275.92h11.12v1.03h-11.12zM130.78 279.94h10.94v1.03h-10.94zM130.83 281.95h10.85v1.03h-10.85zM130.85 282.96h10.8v1.03h-10.8zM130.94 286.98h10.62v1.03h-10.62zM130.96 287.98h10.58v1.03h-10.58zM131.01 289.99h10.49v1.03h-10.49zM130.6 294.02h11.3v1.03h-11.3zM130.6 296.03h11.3v1.03h-11.3zM134.97 339.25h2.56v1.03h-2.56zM135.07 342.27h2.37v1.03h-2.37zM135.13 344.28h2.23v1.03h-2.23zM135.23 347.29h2.03v1.03h-2.03zM145.05 199.81h11.2v1.03h-11.2zM145.21 206.86h10.87v1.03h-10.87zM145.26 208.88h10.77v1.03h-10.77zM145.31 210.89h10.68v1.03h-10.68zM145.41 214.92h10.49v1.03h-10.49zM145 225.99h11.3v1.03h-11.3zM145 229.02h11.3v1.03h-11.3zM145 271.9h11.3v1.03h-11.3zM145 272.91h11.3v1.03h-11.3zM158.2 201.83h11.11v1.03h-11.11zM158.22 202.83h11.06v1.03h-11.06zM158.29 205.86h10.92v1.03h-10.92zM158.1 225.99h11.3v1.03h-11.3zM158.1 227h11.3v1.03h-11.3zM158.1 228.01h11.3v1.03h-11.3zM158.1 272.91h11.3v1.03h-11.3z" fill="#1f68b0" fill-opacity="0.14"/>
<path d="M178.9 201.83h11.3v1.03h-11.3zM178.92 272.91h11.25v1.03h-11.25zM178.95 273.91h11.21v1.03h-11.21zM181.94 299.04h5.22v1.03h-5.22zM182.17 306.08h4.75v1.03h-4.75zM182.27 309.09h4.55v1.03h-4.55zM182.37 312.11h4.35v1.03h-4.35zM182.57 318.14h3.96v1.03h-3.96zM182.64 320.15h3.82v1.03h-3.82zM182.74 323.17h3.63v1.03h-3.63zM182.77 324.17h3.56v1.03h-3.56zM182.97 330.21h3.16v1.03h-3.16zM183.04 332.22h3.03v1.03h-3.03zM183.1 334.23h2.9v1.03h-2.9zM191.6 198.81h11.2v1.03h-11.2zM191.6 201.83h11.2v1.03h-11.2zM191.6 202.83h11.2v1.03h-11.2zM191.6 271.9h11.2v1.03h-11.2zM191.62 272.91h11.16v1.03h-11.16zM191.67 274.92h11.07v1.03h-11.07zM191.73 277.93h10.93v1.03h-10.93zM191.6 296.03h11.2v1.03h-11.2zM194.58 298.04h5.24v1.03h-5.24zM191.6 300.05h11.2v1.03h-11.2zM194.85 306.08h4.71v1.03h-4.71zM194.88 307.08h4.64v1.03h-4.64zM195.07 313.12h4.25v1.03h-4.25zM195.21 317.14h3.99v1.03h-3.99zM195.34 321.16h3.72v1.03h-3.72zM195.53 327.19h3.33v1.03h-3.33zM195.57 328.19h3.26v1.03h-3.26zM195.6 329.2h3.2v1.03h-3.2zM195.7 332.22h3v1.03h-3zM195.73 333.22h2.94v1.03h-2.94zM206.05 199.81h11.3v1.03h-11.3zM206.31 210.89h10.77v1.03h-10.77zM206 224.99h11.4v1.03h-11.4zM209.09 229.02h5.23v1.03h-5.23zM209.21 233.04h4.99v1.03h-4.99zM209.24 234.05h4.93v1.03h-4.93zM209.32 237.07h4.75v1.03h-4.75zM209.44 241.1h4.51v1.03h-4.51zM209.47 242.11h4.45v1.03h-4.45zM209.56 245.13h4.28v1.03h-4.28zM209.59 246.13h4.22v1.03h-4.22zM209.68 249.15h4.04v1.03h-4.04zM209.71 250.16h3.98v1.03h-3.98zM209.74 251.17h3.92v1.03h-3.92zM209.83 254.19h3.74v1.03h-3.74zM209.95 258.22h3.5v1.03h-3.5zM210.01 260.23h3.38v1.03h-3.38zM210.04 261.24h3.33v1.03h-3.33zM210.1 263.25h3.21v1.03h-3.21zM210.16 265.27h3.09v1.03h-3.09zM219.12 202.83h10.96v1.03h-10.96zM219.17 204.85h10.87v1.03h-10.87zM219.19 205.86h10.82v1.03h-10.82zM219.21 206.86h10.77v1.03h-10.77zM219.28 209.88h10.63v1.03h-10.63zM219.35 212.9h10.49v1.03h-10.49zM219 231.03h11.2v1.03h-11.2zM222.3 238.08h4.61v1.03h-4.61zM222.35 240.09h4.49v1.03h-4.49zM222.41 242.11h4.38v1.03h-4.38zM222.5 245.13h4.2v1.03h-4.2zM222.53 246.13h4.14v1.03h-4.14zM222.56 247.14h4.08v1.03h-4.08zM222.62 249.15h3.97v1.03h-3.97zM222.7 252.18h3.79v1.03h-3.79zM222.73 253.18h3.73v1.03h-3.73zM222.76 254.19h3.68v1.03h-3.68zM222.79 255.2h3.62v1.03h-3.62zM222.82 256.2h3.56v1.03h-3.56zM222.94 260.23h3.33v1.03h-3.33zM222.97 261.24h3.27v1.03h-3.27z" fill="#4a38a6" fill-opacity="0.14"/>
<path d="M117.5 202.83h11.4v1.03h-11.4zM117.5 204.85h11.4v1.03h-11.4zM117.5 208.88h11.4v1.03h-11.4zM117.5 209.88h11.4v1.03h-11.4zM117.52 272.91h11.35v1.03h-11.35zM117.59 275.92h11.22v1.03h-11.22zM117.64 277.93h11.13v1.03h-11.13zM117.75 282.96h10.9v1.03h-10.9zM117.77 283.96h10.85v1.03h-10.85zM117.5 294.02h11.4v1.03h-11.4zM121.54 328.19h3.32v1.03h-3.32zM121.64 331.21h3.12v1.03h-3.12zM121.74 334.23h2.92v1.03h-2.92zM121.81 336.24h2.79v1.03h-2.79zM122.17 347.29h2.05v1.03h-2.05zM130.6 206.86h11.3v1.03h-11.3zM130.6 208.88h11.3v1.03h-11.3zM130.67 274.92h11.16v1.03h-11.16zM130.71 276.93h11.07v1.03h-11.07zM130.6 291h11.3v1.03h-11.3zM134.67 330.21h3.16v1.03h-3.16zM135.1 343.27h2.3v1.03h-2.3zM145 197.8h11.3v1.03h-11.3zM145.12 202.83h11.06v1.03h-11.06zM145.14 203.84h11.01v1.03h-11.01zM145.17 204.85h10.97v1.03h-10.97zM145.24 207.87h10.82v1.03h-10.82zM145.29 209.88h10.73v1.03h-10.73zM145 221.97h11.3v1.03h-11.3zM145 224.99h11.3v1.03h-11.3zM158.24 203.84h11.01v1.03h-11.01zM158.34 207.87h10.82v1.03h-10.82zM158.43 211.9h10.63v1.03h-10.63zM158.1 229.02h11.3v1.03h-11.3z" fill="#1f68b0" fill-opacity="0.16"/>
<path d="M178.9 199.81h11.3v1.03h-11.3zM181.21 276.93h6.67v1.03h-6.67zM181.28 278.94h6.54v1.03h-6.54zM181.31 279.94h6.48v1.03h-6.48zM181.44 283.96h6.21v1.03h-6.21zM181.48 284.97h6.14v1.03h-6.14zM181.51 285.97h6.08v1.03h-6.08zM181.58 287.98h5.95v1.03h-5.95zM178.9 292.01h11.3v1.03h-11.3zM181.71 292.01h5.68v1.03h-5.68zM178.9 294.02h11.3v1.03h-11.3zM181.78 294.02h5.55v1.03h-5.55zM178.9 296.03h11.3v1.03h-11.3zM181.88 297.03h5.35v1.03h-5.35zM181.91 298.04h5.28v1.03h-5.28zM182.01 301.05h5.08v1.03h-5.08zM182.24 308.09h4.62v1.03h-4.62zM182.34 311.11h4.42v1.03h-4.42zM182.44 314.12h4.22v1.03h-4.22zM182.47 315.13h4.16v1.03h-4.16zM182.51 316.13h4.09v1.03h-4.09zM182.54 317.14h4.02v1.03h-4.02zM193.79 273.91h6.81v1.03h-6.81zM194.06 281.95h6.29v1.03h-6.29zM194.32 289.99h5.76v1.03h-5.76zM191.6 291h11.2v1.03h-11.2zM194.35 291h5.7v1.03h-5.7zM191.6 295.02h11.2v1.03h-11.2zM191.6 297.03h11.2v1.03h-11.2zM194.62 299.04h5.17v1.03h-5.17zM194.75 303.06h4.91v1.03h-4.91zM194.81 305.07h4.78v1.03h-4.78zM194.91 308.09h4.58v1.03h-4.58zM195.17 316.13h4.05v1.03h-4.05zM195.24 318.14h3.92v1.03h-3.92zM195.27 319.15h3.86v1.03h-3.86zM206.02 198.81h11.35v1.03h-11.35zM206.1 201.83h11.21v1.03h-11.21zM206.12 202.83h11.16v1.03h-11.16zM206.17 204.85h11.06v1.03h-11.06zM208.79 218.95h5.82v1.03h-5.82zM208.97 224.99h5.46v1.03h-5.46zM209.12 230.02h5.17v1.03h-5.17zM209.15 231.03h5.11v1.03h-5.11zM206 232.04h11.4v1.03h-11.4zM209.27 235.06h4.87v1.03h-4.87zM209.38 239.08h4.63v1.03h-4.63zM209.92 257.21h3.56v1.03h-3.56zM219.05 199.81h11.11v1.03h-11.11zM219.09 201.83h11.01v1.03h-11.01zM219.14 203.84h10.92v1.03h-10.92zM221.77 219.95h5.66v1.03h-5.66zM219 223.98h11.2v1.03h-11.2zM221.89 223.98h5.43v1.03h-5.43zM219 225.99h11.2v1.03h-11.2zM219 228.01h11.2v1.03h-11.2zM222.06 230.02h5.08v1.03h-5.08zM219 232.04h11.2v1.03h-11.2zM222.15 233.04h4.9v1.03h-4.9zM222.21 235.06h4.78v1.03h-4.78zM222.24 236.06h4.73v1.03h-4.73zM222.59 248.15h4.03v1.03h-4.03zM222.85 257.21h3.5v1.03h-3.5zM222.88 258.22h3.44v1.03h-3.44zM222.91 259.22h3.38v1.03h-3.38z" fill="#4a38a6" fill-opacity="0.16"/>
<path d="M117.5 197.8h11.4v1.03h-11.4zM117.5 203.84h11.4v1.03h-11.4zM117.55 273.91h11.31v1.03h-11.31zM121.04 313.12h4.33v1.03h-4.33zM121.37 323.17h3.66v1.03h-3.66zM121.51 327.19h3.39v1.03h-3.39zM121.94 340.26h2.52v1.03h-2.52zM121.97 341.26h2.45v1.03h-2.45zM122.01 342.27h2.39v1.03h-2.39zM130.6 198.81h11.3v1.03h-11.3zM130.6 201.83h11.3v1.03h-11.3zM130.6 202.83h11.3v1.03h-11.3zM130.6 288.99h11.3v1.03h-11.3zM130.6 292.01h11.3v1.03h-11.3zM134.34 320.15h3.82v1.03h-3.82zM134.57 327.19h3.36v1.03h-3.36zM134.74 332.22h3.03v1.03h-3.03zM134.8 334.23h2.9v1.03h-2.9zM134.87 336.24h2.76v1.03h-2.76zM135.03 341.26h2.43v1.03h-2.43zM145.02 198.81h11.25v1.03h-11.25zM145.07 200.82h11.16v1.03h-11.16zM145.1 201.83h11.11v1.03h-11.11zM145 219.95h11.3v1.03h-11.3zM145 222.97h11.3v1.03h-11.3zM145 223.98h11.3v1.03h-11.3zM149.09 264.26h3.12v1.03h-3.12zM149.21 268.29h2.88v1.03h-2.88zM158.12 198.81h11.25v1.03h-11.25zM158.15 199.81h11.2v1.03h-11.2zM158.17 200.82h11.16v1.03h-11.16zM158.31 206.86h10.87v1.03h-10.87zM158.1 221.97h11.3v1.03h-11.3zM158.1 223.98h11.3v1.03h-11.3zM158.1 224.99h11.3v1.03h-11.3zM162.19 264.26h3.12v1.03h-3.12zM162.25 266.27h3v1.03h-3z" fill="#1f68b0" fill-opacity="0.18"/>
<path d="M181.18 275.92h6.74v1.03h-6.74zM181.25 277.93h6.61v1.03h-6.61zM181.54 286.98h6.01v1.03h-6.01zM178.9 295.02h11.3v1.03h-11.3zM181.98 300.05h5.15v1.03h-5.15zM182.04 302.06h5.02v1.03h-5.02zM182.14 305.07h4.82v1.03h-4.82zM182.21 307.08h4.69v1.03h-4.69zM182.31 310.1h4.49v1.03h-4.49zM182.41 313.12h4.29v1.03h-4.29zM193.96 278.94h6.48v1.03h-6.48zM191.6 289.99h11.2v1.03h-11.2zM191.6 293.01h11.2v1.03h-11.2zM194.52 296.03h5.37v1.03h-5.37zM194.68 301.05h5.04v1.03h-5.04zM194.71 302.06h4.97v1.03h-4.97zM194.98 310.1h4.45v1.03h-4.45zM206 197.8h11.4v1.03h-11.4zM208.4 205.86h6.59v1.03h-6.59zM208.67 214.92h6.06v1.03h-6.06zM208.82 219.95h5.76v1.03h-5.76zM208.85 220.96h5.7v1.03h-5.7zM206 223.98h11.4v1.03h-11.4zM208.94 223.98h5.52v1.03h-5.52zM206 228.01h11.4v1.03h-11.4zM209.41 240.09h4.57v1.03h-4.57zM209.5 243.11h4.39v1.03h-4.39zM209.53 244.12h4.34v1.03h-4.34zM219.02 198.81h11.15v1.03h-11.15zM221.51 210.89h6.19v1.03h-6.19zM221.68 216.93h5.84v1.03h-5.84zM219 221.97h11.2v1.03h-11.2zM221.83 221.97h5.54v1.03h-5.54zM219 222.97h11.2v1.03h-11.2zM221.86 222.97h5.48v1.03h-5.48zM221.95 225.99h5.31v1.03h-5.31zM219 227h11.2v1.03h-11.2zM222 228.01h5.19v1.03h-5.19zM219 229.02h11.2v1.03h-11.2zM222.18 234.05h4.84v1.03h-4.84zM222.32 239.08h4.55v1.03h-4.55zM222.38 241.1h4.43v1.03h-4.43zM222.44 243.11h4.32v1.03h-4.32z" fill="#4a38a6" fill-opacity="0.18"/>
<path d="M117.5 198.81h11.4v1.03h-11.4zM117.5 200.82h11.4v1.03h-11.4zM117.5 201.83h11.4v1.03h-11.4zM117.5 271.9h11.4v1.03h-11.4zM117.5 287.98h11.4v1.03h-11.4zM117.5 288.99h11.4v1.03h-11.4zM117.5 289.99h11.4v1.03h-11.4zM120.9 309.09h4.59v1.03h-4.59zM121.1 315.13h4.19v1.03h-4.19zM121.17 317.14h4.06v1.03h-4.06zM121.44 325.18h3.52v1.03h-3.52zM121.61 330.21h3.19v1.03h-3.19zM121.91 339.25h2.59v1.03h-2.59zM130.6 271.9h11.3v1.03h-11.3zM130.65 273.91h11.21v1.03h-11.21zM130.6 289.99h11.3v1.03h-11.3zM133.84 305.07h4.82v1.03h-4.82zM133.87 306.08h4.75v1.03h-4.75zM134.17 315.13h4.16v1.03h-4.16zM134.27 318.14h3.96v1.03h-3.96zM134.44 323.17h3.63v1.03h-3.63zM134.54 326.18h3.43v1.03h-3.43zM134.77 333.22h2.96v1.03h-2.96zM135 340.26h2.5v1.03h-2.5zM145 220.96h11.3v1.03h-11.3zM149.06 263.25h3.18v1.03h-3.18zM149.18 267.28h2.94v1.03h-2.94zM158.1 217.94h11.3v1.03h-11.3zM158.1 222.97h11.3v1.03h-11.3z" fill="#1f68b0" fill-opacity="0.2"/>
<path d="M181.05 271.9h7.01v1.03h-7.01zM181.15 274.92h6.81v1.03h-6.81zM181.35 280.95h6.41v1.03h-6.41zM181.38 281.95h6.34v1.03h-6.34zM178.9 287.98h11.3v1.03h-11.3zM181.61 288.99h5.88v1.03h-5.88zM181.64 289.99h5.81v1.03h-5.81zM178.9 293.01h11.3v1.03h-11.3zM181.81 295.02h5.48v1.03h-5.48zM181.84 296.03h5.41v1.03h-5.41zM194.12 283.96h6.16v1.03h-6.16zM194.22 286.98h5.96v1.03h-5.96zM194.25 287.98h5.89v1.03h-5.89zM191.6 292.01h11.2v1.03h-11.2zM194.39 292.01h5.63v1.03h-5.63zM194.42 293.01h5.56v1.03h-5.56zM191.6 294.02h11.2v1.03h-11.2zM194.48 295.02h5.43v1.03h-5.43zM194.55 297.03h5.3v1.03h-5.3zM194.65 300.05h5.1v1.03h-5.1zM208.46 207.87h6.47v1.03h-6.47zM208.64 213.91h6.12v1.03h-6.12zM206 218.95h11.4v1.03h-11.4zM206 219.95h11.4v1.03h-11.4zM206 220.96h11.4v1.03h-11.4zM206 221.97h11.4v1.03h-11.4zM208.88 221.97h5.64v1.03h-5.64zM206 225.99h11.4v1.03h-11.4zM206 227h11.4v1.03h-11.4zM209.29 236.06h4.81v1.03h-4.81zM209.35 238.08h4.69v1.03h-4.69zM221.13 197.8h6.94v1.03h-6.94zM221.45 208.88h6.3v1.03h-6.3zM221.59 213.91h6.01v1.03h-6.01zM221.62 214.92h5.95v1.03h-5.95zM221.65 215.93h5.89v1.03h-5.89zM221.74 218.95h5.72v1.03h-5.72zM219 219.95h11.2v1.03h-11.2zM221.97 227h5.25v1.03h-5.25zM222.09 231.03h5.02v1.03h-5.02zM222.12 232.04h4.96v1.03h-4.96zM222.27 237.07h4.67v1.03h-4.67z" fill="#4a38a6" fill-opacity="0.2"/>
<path d="M117.5 199.81h11.4v1.03h-11.4zM117.5 284.97h11.4v1.03h-11.4zM120.87 308.09h4.66v1.03h-4.66zM121.07 314.12h4.26v1.03h-4.26zM121.14 316.13h4.13v1.03h-4.13zM121.2 318.14h3.99v1.03h-3.99zM121.24 319.15h3.92v1.03h-3.92zM121.3 321.16h3.79v1.03h-3.79zM121.34 322.16h3.72v1.03h-3.72zM121.71 333.22h2.99v1.03h-2.99zM121.77 335.23h2.85v1.03h-2.85zM130.6 197.8h11.3v1.03h-11.3zM130.6 200.82h11.3v1.03h-11.3zM130.6 285.97h11.3v1.03h-11.3zM133.61 298.04h5.28v1.03h-5.28zM133.64 299.04h5.22v1.03h-5.22zM134.47 324.17h3.56v1.03h-3.56zM134.6 328.19h3.29v1.03h-3.29zM134.7 331.21h3.09v1.03h-3.09zM134.84 335.23h2.83v1.03h-2.83zM134.9 337.24h2.7v1.03h-2.7zM134.93 338.25h2.63v1.03h-2.63zM145 218.95h11.3v1.03h-11.3zM148.97 260.23h3.35v1.03h-3.35zM149.24 269.29h2.83v1.03h-2.83zM158.1 197.8h11.3v1.03h-11.3zM158.1 215.93h11.3v1.03h-11.3zM158.1 218.95h11.3v1.03h-11.3zM158.1 220.96h11.3v1.03h-11.3zM161.69 247.14h4.12v1.03h-4.12zM161.78 250.16h3.94v1.03h-3.94zM161.98 257.21h3.53v1.03h-3.53zM162.07 260.23h3.35v1.03h-3.35zM162.13 262.24h3.24v1.03h-3.24zM162.22 265.27h3.06v1.03h-3.06zM162.28 267.28h2.94v1.03h-2.94zM162.34 269.29h2.83v1.03h-2.83z" fill="#1f68b0" fill-opacity="0.22"/>
<path d="M181.41 282.96h6.28v1.03h-6.28zM178.9 284.97h11.3v1.03h-11.3zM178.9 285.97h11.3v1.03h-11.3zM178.9 289.99h11.3v1.03h-11.3zM181.68 291h5.75v1.03h-5.75zM181.74 293.01h5.61v1.03h-5.61zM193.73 271.9h6.94v1.03h-6.94zM193.86 275.92h6.68v1.03h-6.68zM193.89 276.93h6.62v1.03h-6.62zM193.99 279.94h6.42v1.03h-6.42zM194.02 280.95h6.35v1.03h-6.35zM194.09 282.96h6.22v1.03h-6.22zM194.16 284.97h6.09v1.03h-6.09zM194.19 285.97h6.02v1.03h-6.02zM194.29 288.99h5.83v1.03h-5.83zM194.45 294.02h5.5v1.03h-5.5zM208.26 200.82h6.89v1.03h-6.89zM208.58 211.9h6.24v1.03h-6.24zM208.7 215.93h6v1.03h-6zM209 225.99h5.4v1.03h-5.4zM209.03 227h5.35v1.03h-5.35zM209.06 228.01h5.29v1.03h-5.29zM209.18 232.04h5.05v1.03h-5.05zM221.22 200.82h6.77v1.03h-6.77zM221.42 207.87h6.36v1.03h-6.36zM219 218.95h11.2v1.03h-11.2zM221.8 220.96h5.6v1.03h-5.6zM219 224.99h11.2v1.03h-11.2zM221.92 224.99h5.37v1.03h-5.37zM222.03 229.02h5.13v1.03h-5.13z" fill="#4a38a6" fill-opacity="0.22"/>
<path d="M117.5 286.98h11.4v1.03h-11.4zM120.64 301.05h5.13v1.03h-5.13zM120.7 303.06h4.99v1.03h-4.99zM120.84 307.08h4.73v1.03h-4.73zM121.27 320.15h3.86v1.03h-3.86zM121.47 326.18h3.46v1.03h-3.46zM121.57 329.2h3.26v1.03h-3.26zM121.67 332.22h3.06v1.03h-3.06zM130.6 199.81h11.3v1.03h-11.3zM130.6 284.97h11.3v1.03h-11.3zM130.6 286.98h11.3v1.03h-11.3zM130.6 287.98h11.3v1.03h-11.3zM133.71 301.05h5.08v1.03h-5.08zM133.74 302.06h5.02v1.03h-5.02zM134.07 312.11h4.35v1.03h-4.35zM134.11 313.12h4.29v1.03h-4.29zM134.4 322.16h3.69v1.03h-3.69zM134.64 329.2h3.23v1.03h-3.23zM145 217.94h11.3v1.03h-11.3zM148.74 252.18h3.83v1.03h-3.83zM148.88 257.21h3.53v1.03h-3.53zM148.94 259.22h3.41v1.03h-3.41zM158.1 214.92h11.3v1.03h-11.3zM158.1 219.95h11.3v1.03h-11.3zM161.54 242.11h4.41v1.03h-4.41zM161.63 245.13h4.24v1.03h-4.24zM162.01 258.22h3.47v1.03h-3.47zM162.04 259.22h3.41v1.03h-3.41zM162.31 268.29h2.88v1.03h-2.88z" fill="#1f68b0" fill-opacity="0.24"/>
<path d="M181.08 272.91h6.94v1.03h-6.94zM181.11 273.91h6.87v1.03h-6.87zM178.9 283.96h11.3v1.03h-11.3zM178.9 286.98h11.3v1.03h-11.3zM178.9 288.99h11.3v1.03h-11.3zM178.9 291h11.3v1.03h-11.3zM193.76 272.91h6.88v1.03h-6.88zM193.83 274.92h6.75v1.03h-6.75zM193.93 277.93h6.55v1.03h-6.55zM191.6 287.98h11.2v1.03h-11.2zM208.23 199.81h6.95v1.03h-6.95zM208.34 203.84h6.71v1.03h-6.71zM208.43 206.86h6.53v1.03h-6.53zM208.49 208.88h6.41v1.03h-6.41zM208.52 209.88h6.36v1.03h-6.36zM208.73 216.93h5.94v1.03h-5.94zM208.76 217.94h5.88v1.03h-5.88zM206 222.97h11.4v1.03h-11.4zM208.91 222.97h5.58v1.03h-5.58zM221.54 211.9h6.13v1.03h-6.13zM219 216.93h11.2v1.03h-11.2zM221.71 217.94h5.78v1.03h-5.78zM219 220.96h11.2v1.03h-11.2z" fill="#4a38a6" fill-opacity="0.24"/>
<path d="M119.9 278.94h6.6v1.03h-6.6zM120 281.95h6.4v1.03h-6.4zM120.1 284.97h6.2v1.03h-6.2zM117.5 285.97h11.4v1.03h-11.4zM120.3 291h5.8v1.03h-5.8zM120.67 302.06h5.06v1.03h-5.06zM120.74 304.07h4.93v1.03h-4.93zM120.8 306.08h4.79v1.03h-4.79zM121.4 324.17h3.59v1.03h-3.59zM133.21 285.97h6.08v1.03h-6.08zM133.44 293.01h5.61v1.03h-5.61zM133.68 300.05h5.15v1.03h-5.15zM133.91 307.08h4.69v1.03h-4.69zM134.01 310.1h4.49v1.03h-4.49zM134.04 311.11h4.42v1.03h-4.42zM134.21 316.13h4.09v1.03h-4.09zM134.24 317.14h4.02v1.03h-4.02zM134.3 319.15h3.89v1.03h-3.89zM134.37 321.16h3.76v1.03h-3.76zM134.5 325.18h3.49v1.03h-3.49zM145 213.91h11.3v1.03h-11.3zM145 216.93h11.3v1.03h-11.3zM148.24 235.06h4.83v1.03h-4.83zM148.27 236.06h4.77v1.03h-4.77zM148.62 248.15h4.06v1.03h-4.06zM148.8 254.19h3.71v1.03h-3.71zM148.85 256.2h3.59v1.03h-3.59zM149.12 265.27h3.06v1.03h-3.06zM149.15 266.27h3v1.03h-3zM158.1 212.9h11.3v1.03h-11.3zM158.1 213.91h11.3v1.03h-11.3zM158.1 216.93h11.3v1.03h-11.3zM161.48 240.09h4.53v1.03h-4.53zM161.6 244.12h4.3v1.03h-4.3zM161.81 251.17h3.88v1.03h-3.88zM161.9 254.19h3.71v1.03h-3.71zM162.1 261.24h3.3v1.03h-3.3zM162.16 263.25h3.18v1.03h-3.18z" fill="#1f68b0" fill-opacity="0.26"/>
<path d="M191.6 286.98h11.2v1.03h-11.2zM191.6 288.99h11.2v1.03h-11.2zM208.2 198.81h7.01v1.03h-7.01zM208.28 201.83h6.83v1.03h-6.83zM208.55 210.89h6.3v1.03h-6.3zM208.61 212.9h6.18v1.03h-6.18zM206 214.92h11.4v1.03h-11.4zM221.19 199.81h6.83v1.03h-6.83zM221.27 202.83h6.65v1.03h-6.65zM221.33 204.85h6.54v1.03h-6.54zM221.36 205.86h6.48v1.03h-6.48zM221.39 206.86h6.42v1.03h-6.42zM221.48 209.88h6.24v1.03h-6.24z" fill="#4a38a6" fill-opacity="0.26"/>
<path d="M117.5 281.95h11.4v1.03h-11.4zM120.33 292.01h5.73v1.03h-5.73zM120.5 297.03h5.4v1.03h-5.4zM120.94 310.1h4.53v1.03h-4.53zM121 312.11h4.39v1.03h-4.39zM132.95 277.93h6.61v1.03h-6.61zM132.98 278.94h6.54v1.03h-6.54zM133.05 280.95h6.41v1.03h-6.41zM130.6 283.96h11.3v1.03h-11.3zM133.18 284.97h6.14v1.03h-6.14zM133.31 288.99h5.88v1.03h-5.88zM133.38 291h5.75v1.03h-5.75zM133.51 295.02h5.48v1.03h-5.48zM134.14 314.12h4.22v1.03h-4.22zM145 212.9h11.3v1.03h-11.3zM148 227h5.3v1.03h-5.3zM148.35 239.08h4.59v1.03h-4.59zM148.41 241.1h4.47v1.03h-4.47zM148.56 246.13h4.18v1.03h-4.18zM148.65 249.15h4v1.03h-4zM148.71 251.17h3.88v1.03h-3.88zM148.77 253.18h3.77v1.03h-3.77zM149 261.24h3.3v1.03h-3.3zM149.03 262.24h3.24v1.03h-3.24zM161.25 232.04h5v1.03h-5zM161.28 233.04h4.94v1.03h-4.94zM161.31 234.05h4.89v1.03h-4.89zM161.57 243.11h4.36v1.03h-4.36zM161.93 255.2h3.65v1.03h-3.65zM161.95 256.2h3.59v1.03h-3.59z" fill="#1f68b0" fill-opacity="0.28"/>
<path d="M191.6 281.95h11.2v1.03h-11.2zM208.17 197.8h7.07v1.03h-7.07zM208.37 204.85h6.65v1.03h-6.65zM206 215.93h11.4v1.03h-11.4zM206 217.94h11.4v1.03h-11.4zM221.24 201.83h6.71v1.03h-6.71zM221.3 203.84h6.59v1.03h-6.59zM221.57 212.9h6.07v1.03h-6.07zM219 214.92h11.2v1.03h-11.2zM219 215.93h11.2v1.03h-11.2zM219 217.94h11.2v1.03h-11.2z" fill="#4a38a6" fill-opacity="0.28"/>
<path d="M119.77 274.92h6.87v1.03h-6.87zM119.83 276.93h6.73v1.03h-6.73zM119.97 280.95h6.47v1.03h-6.47zM120.17 286.98h6.06v1.03h-6.06zM120.2 287.98h6v1.03h-6zM120.37 293.01h5.66v1.03h-5.66zM120.77 305.07h4.86v1.03h-4.86zM120.97 311.11h4.46v1.03h-4.46zM132.78 272.91h6.94v1.03h-6.94zM130.6 282.96h11.3v1.03h-11.3zM133.11 282.96h6.28v1.03h-6.28zM133.14 283.96h6.21v1.03h-6.21zM133.48 294.02h5.55v1.03h-5.55zM133.94 308.09h4.62v1.03h-4.62zM133.97 309.09h4.55v1.03h-4.55zM145 215.93h11.3v1.03h-11.3zM147.85 221.97h5.59v1.03h-5.59zM147.97 225.99h5.36v1.03h-5.36zM148.03 228.01h5.24v1.03h-5.24zM148.15 232.04h5v1.03h-5zM148.18 233.04h4.94v1.03h-4.94zM148.38 240.09h4.53v1.03h-4.53zM148.53 245.13h4.24v1.03h-4.24zM148.68 250.16h3.94v1.03h-3.94zM148.83 255.2h3.65v1.03h-3.65zM148.91 258.22h3.47v1.03h-3.47zM160.69 212.9h6.12v1.03h-6.12zM160.75 214.92h6v1.03h-6zM160.78 215.93h5.95v1.03h-5.95zM161.07 225.99h5.36v1.03h-5.36zM161.42 238.08h4.65v1.03h-4.65zM161.51 241.1h4.47v1.03h-4.47zM161.72 248.15h4.06v1.03h-4.06zM161.75 249.15h4v1.03h-4z" fill="#1f68b0" fill-opacity="0.3"/>
<path d="M191.6 283.96h11.2v1.03h-11.2zM191.6 285.97h11.2v1.03h-11.2zM208.31 202.83h6.77v1.03h-6.77zM206 213.91h11.4v1.03h-11.4zM206 216.93h11.4v1.03h-11.4zM221.16 198.81h6.89v1.03h-6.89zM219 213.91h11.2v1.03h-11.2z" fill="#4a38a6" fill-opacity="0.3"/>
<path d="M119.7 272.91h7v1.03h-7zM119.8 275.92h6.8v1.03h-6.8zM119.93 279.94h6.53v1.03h-6.53zM120.13 285.97h6.13v1.03h-6.13zM120.23 288.99h5.93v1.03h-5.93zM120.27 289.99h5.86v1.03h-5.86zM120.47 296.03h5.46v1.03h-5.46zM120.54 298.04h5.33v1.03h-5.33zM120.6 300.05h5.2v1.03h-5.2zM132.88 275.92h6.74v1.03h-6.74zM133.01 279.94h6.48v1.03h-6.48zM133.41 292.01h5.68v1.03h-5.68zM133.54 296.03h5.41v1.03h-5.41zM133.58 297.03h5.35v1.03h-5.35zM133.77 303.06h4.95v1.03h-4.95zM133.81 304.07h4.88v1.03h-4.88zM147.38 205.86h6.53v1.03h-6.53zM145 211.9h11.3v1.03h-11.3zM147.62 213.91h6.06v1.03h-6.06zM145 214.92h11.3v1.03h-11.3zM147.79 219.95h5.71v1.03h-5.71zM148.09 230.02h5.12v1.03h-5.12zM148.3 237.07h4.71v1.03h-4.71zM148.32 238.08h4.65v1.03h-4.65zM148.44 242.11h4.41v1.03h-4.41zM148.5 244.12h4.3v1.03h-4.3zM148.59 247.14h4.12v1.03h-4.12zM160.39 202.83h6.71v1.03h-6.71zM160.57 208.88h6.36v1.03h-6.36zM158.1 209.88h11.3v1.03h-11.3zM160.6 209.88h6.3v1.03h-6.3zM158.1 210.89h11.3v1.03h-11.3zM160.72 213.91h6.06v1.03h-6.06zM160.84 217.94h5.83v1.03h-5.83zM161.1 227h5.3v1.03h-5.3zM161.22 231.03h5.06v1.03h-5.06zM161.45 239.08h4.59v1.03h-4.59zM161.66 246.13h4.18v1.03h-4.18zM161.84 252.18h3.83v1.03h-3.83zM161.87 253.18h3.77v1.03h-3.77z" fill="#1f68b0" fill-opacity="0.32"/>
<path d="M178.9 278.94h11.3v1.03h-11.3zM178.9 279.94h11.3v1.03h-11.3zM191.6 284.97h11.2v1.03h-11.2zM219 210.89h11.2v1.03h-11.2z" fill="#4a38a6" fill-opacity="0.32"/>
<path d="M119.87 277.93h6.67v1.03h-6.67zM117.5 280.95h11.4v1.03h-11.4zM117.5 283.96h11.4v1.03h-11.4zM120.4 294.02h5.6v1.03h-5.6zM120.44 295.02h5.53v1.03h-5.53zM120.57 299.04h5.26v1.03h-5.26zM132.85 274.92h6.81v1.03h-6.81zM132.91 276.93h6.67v1.03h-6.67zM130.6 280.95h11.3v1.03h-11.3zM133.08 281.95h6.34v1.03h-6.34zM133.24 286.98h6.01v1.03h-6.01zM133.34 289.99h5.81v1.03h-5.81zM147.59 212.9h6.12v1.03h-6.12zM148.47 243.11h4.36v1.03h-4.36zM160.45 204.85h6.59v1.03h-6.59zM160.63 210.89h6.24v1.03h-6.24zM160.87 218.95h5.77v1.03h-5.77zM160.95 221.97h5.59v1.03h-5.59zM161.13 228.01h5.24v1.03h-5.24zM161.19 230.02h5.12v1.03h-5.12z" fill="#1f68b0" fill-opacity="0.34"/>
<path d="M178.9 281.95h11.3v1.03h-11.3zM191.6 282.96h11.2v1.03h-11.2zM219 208.88h11.2v1.03h-11.2z" fill="#4a38a6" fill-opacity="0.34"/>
<path d="M117.5 278.94h11.4v1.03h-11.4zM117.5 282.96h11.4v1.03h-11.4zM120.03 282.96h6.33v1.03h-6.33zM120.07 283.96h6.27v1.03h-6.27zM133.28 287.98h5.95v1.03h-5.95zM147.15 197.8h7.01v1.03h-7.01zM147.21 199.81h6.89v1.03h-6.89zM147.56 211.9h6.18v1.03h-6.18zM147.74 217.94h5.83v1.03h-5.83zM147.77 218.95h5.77v1.03h-5.77zM147.82 220.96h5.65v1.03h-5.65zM147.88 222.97h5.53v1.03h-5.53zM147.91 223.98h5.47v1.03h-5.47zM147.94 224.99h5.42v1.03h-5.42zM148.06 229.02h5.18v1.03h-5.18zM148.12 231.03h5.06v1.03h-5.06zM148.21 234.05h4.89v1.03h-4.89zM160.36 201.83h6.77v1.03h-6.77zM158.1 208.88h11.3v1.03h-11.3zM160.81 216.93h5.89v1.03h-5.89zM161.01 223.98h5.47v1.03h-5.47zM161.37 236.06h4.77v1.03h-4.77zM161.4 237.07h4.71v1.03h-4.71z" fill="#1f68b0" fill-opacity="0.36"/>
<path d="M178.9 276.93h11.3v1.03h-11.3zM178.9 280.95h11.3v1.03h-11.3zM178.9 282.96h11.3v1.03h-11.3zM206 211.9h11.4v1.03h-11.4zM219 211.9h11.2v1.03h-11.2z" fill="#4a38a6" fill-opacity="0.36"/>
<path d="M119.73 273.91h6.93v1.03h-6.93zM130.6 278.94h11.3v1.03h-11.3zM130.6 281.95h11.3v1.03h-11.3zM147.29 202.83h6.71v1.03h-6.71zM147.71 216.93h5.89v1.03h-5.89zM160.48 205.86h6.53v1.03h-6.53zM160.92 220.96h5.65v1.03h-5.65zM160.98 222.97h5.53v1.03h-5.53zM161.04 224.99h5.42v1.03h-5.42zM161.34 235.06h4.83v1.03h-4.83z" fill="#1f68b0" fill-opacity="0.38"/>
<path d="M191.6 278.94h11.2v1.03h-11.2zM191.6 280.95h11.2v1.03h-11.2zM206 205.86h11.4v1.03h-11.4zM206 207.87h11.4v1.03h-11.4z" fill="#4a38a6" fill-opacity="0.38"/>
<path d="M119.67 271.9h7.07v1.03h-7.07zM117.5 279.94h11.4v1.03h-11.4zM132.75 271.9h7.01v1.03h-7.01zM132.81 273.91h6.87v1.03h-6.87zM130.6 279.94h11.3v1.03h-11.3zM147.41 206.86h6.48v1.03h-6.48zM147.47 208.88h6.36v1.03h-6.36zM145 210.89h11.3v1.03h-11.3zM147.68 215.93h5.95v1.03h-5.95zM160.28 198.81h6.95v1.03h-6.95zM158.1 211.9h11.3v1.03h-11.3zM160.89 219.95h5.71v1.03h-5.71zM161.16 229.02h5.18v1.03h-5.18z" fill="#1f68b0" fill-opacity="0.4"/>
<path d="M178.9 277.93h11.3v1.03h-11.3zM206 212.9h11.4v1.03h-11.4zM219 207.87h11.2v1.03h-11.2zM219 212.9h11.2v1.03h-11.2z" fill="#4a38a6" fill-opacity="0.4"/>
<path d="M130.6 277.93h11.3v1.03h-11.3zM147.26 201.83h6.77v1.03h-6.77zM147.32 203.84h6.65v1.03h-6.65zM147.35 204.85h6.59v1.03h-6.59zM145 205.86h11.3v1.03h-11.3zM147.44 207.87h6.42v1.03h-6.42zM145 208.88h11.3v1.03h-11.3zM147.53 210.89h6.24v1.03h-6.24zM147.65 214.92h6v1.03h-6zM160.42 203.84h6.65v1.03h-6.65z" fill="#1f68b0" fill-opacity="0.42"/>
<path d="M178.9 275.92h11.3v1.03h-11.3zM206 208.88h11.4v1.03h-11.4zM206 209.88h11.4v1.03h-11.4z" fill="#4a38a6" fill-opacity="0.42"/>
<path d="M147.18 198.81h6.95v1.03h-6.95zM147.24 200.82h6.83v1.03h-6.83zM147.5 209.88h6.3v1.03h-6.3zM160.66 211.9h6.18v1.03h-6.18z" fill="#1f68b0" fill-opacity="0.44"/>
<path d="M191.6 273.91h11.2v1.03h-11.2zM191.6 279.94h11.2v1.03h-11.2zM206 210.89h11.4v1.03h-11.4z" fill="#4a38a6" fill-opacity="0.44"/>
<path d="M145 209.88h11.3v1.03h-11.3zM160.31 199.81h6.89v1.03h-6.89zM160.34 200.82h6.83v1.03h-6.83zM158.1 204.85h11.3v1.03h-11.3zM160.51 206.86h6.48v1.03h-6.48zM160.54 207.87h6.42v1.03h-6.42z" fill="#1f68b0" fill-opacity="0.46"/>
<path d="M206 206.86h11.4v1.03h-11.4zM219 209.88h11.2v1.03h-11.2z" fill="#4a38a6" fill-opacity="0.46"/>
<path d="M117.5 276.93h11.4v1.03h-11.4zM145 206.86h11.3v1.03h-11.3zM145 207.87h11.3v1.03h-11.3zM158.1 205.86h11.3v1.03h-11.3z" fill="#1f68b0" fill-opacity="0.48"/>
<path d="M117.5 277.93h11.4v1.03h-11.4zM160.25 197.8h7.01v1.03h-7.01z" fill="#1f68b0" fill-opacity="0.5"/>
<path d="M178.9 274.92h11.3v1.03h-11.3zM191.6 276.93h11.2v1.03h-11.2zM191.6 277.93h11.2v1.03h-11.2z" fill="#4a38a6" fill-opacity="0.5"/>
<path d="M158.1 202.83h11.3v1.03h-11.3zM158.1 207.87h11.3v1.03h-11.3z" fill="#1f68b0" fill-opacity="0.52"/>
<path d="M191.6 275.92h11.2v1.03h-11.2zM206 203.84h11.4v1.03h-11.4zM219 206.86h11.2v1.03h-11.2z" fill="#4a38a6" fill-opacity="0.52"/>
<path d="M219 204.85h11.2v1.03h-11.2zM219 205.86h11.2v1.03h-11.2z" fill="#4a38a6" fill-opacity="0.54"/>
<path d="M117.5 274.92h11.4v1.03h-11.4zM130.6 275.92h11.3v1.03h-11.3zM130.6 276.93h11.3v1.03h-11.3zM145 204.85h11.3v1.03h-11.3zM158.1 206.86h11.3v1.03h-11.3z" fill="#1f68b0" fill-opacity="0.56"/>
<path d="M206 200.82h11.4v1.03h-11.4zM219 200.82h11.2v1.03h-11.2z" fill="#4a38a6" fill-opacity="0.56"/>
<path d="M117.5 275.92h11.4v1.03h-11.4zM158.1 201.83h11.3v1.03h-11.3z" fill="#1f68b0" fill-opacity="0.58"/>
<path d="M145 202.83h11.3v1.03h-11.3z" fill="#1f68b0" fill-opacity="0.6"/>
<path d="M178.9 271.9h11.3v1.03h-11.3zM206 204.85h11.4v1.03h-11.4zM219 202.83h11.2v1.03h-11.2z" fill="#4a38a6" fill-opacity="0.6"/>
<path d="M145 203.84h11.3v1.03h-11.3zM158.1 203.84h11.3v1.03h-11.3z" fill="#1f68b0" fill-opacity="0.62"/>
<path d="M178.9 273.91h11.3v1.03h-11.3zM191.6 274.92h11.2v1.03h-11.2zM219 197.8h11.2v1.03h-11.2zM219 203.84h11.2v1.03h-11.2z" fill="#4a38a6" fill-opacity="0.62"/>
<path d="M130.6 274.92h11.3v1.03h-11.3z" fill="#1f68b0" fill-opacity="0.64"/>
<path d="M178.9 272.91h11.3v1.03h-11.3zM206 199.81h11.4v1.03h-11.4zM206 201.83h11.4v1.03h-11.4z" fill="#4a38a6" fill-opacity="0.64"/>
<path d="M130.6 272.91h11.3v1.03h-11.3zM145 199.81h11.3v1.03h-11.3z" fill="#1f68b0" fill-opacity="0.66"/>
<path d="M191.6 271.9h11.2v1.03h-11.2zM191.6 272.91h11.2v1.03h-11.2z" fill="#4a38a6" fill-opacity="0.66"/>
<path d="M206 202.83h11.4v1.03h-11.4zM219 201.83h11.2v1.03h-11.2z" fill="#4a38a6" fill-opacity="0.68"/>
<path d="M145 201.83h11.3v1.03h-11.3z" fill="#1f68b0" fill-opacity="0.7"/>
<path d="M219 199.81h11.2v1.03h-11.2z" fill="#4a38a6" fill-opacity="0.7"/>
<path d="M117.5 272.91h11.4v1.03h-11.4z" fill="#1f68b0" fill-opacity="0.72"/>
<path d="M145 197.8h11.3v1.03h-11.3z" fill="#1f68b0" fill-opacity="0.74"/>
<path d="M206 198.81h11.4v1.03h-11.4z" fill="#4a38a6" fill-opacity="0.76"/>
<path d="M145 200.82h11.3v1.03h-11.3z" fill="#1f68b0" fill-opacity="0.78"/>
<path d="M117.5 273.91h11.4v1.03h-11.4zM158.1 198.81h11.3v1.03h-11.3zM158.1 200.82h11.3v1.03h-11.3z" fill="#1f68b0" fill-opacity="0.8"/>
<path d="M219 198.81h11.2v1.03h-11.2z" fill="#4a38a6" fill-opacity="0.82"/>
<path d="M130.6 273.91h11.3v1.03h-11.3zM158.1 199.81h11.3v1.03h-11.3z" fill="#1f68b0" fill-opacity="0.84"/>
<path d="M206 197.8h11.4v1.03h-11.4z" fill="#4a38a6" fill-opacity="0.84"/>
<path d="M145 198.81h11.3v1.03h-11.3z" fill="#1f68b0" fill-opacity="0.86"/>
<path d="M130.6 271.9h11.3v1.03h-11.3z" fill="#1f68b0" fill-opacity="0.96"/>
<path d="M117.5 271.9h11.4v1.03h-11.4zM158.1 197.8h11.3v1.03h-11.3z" fill="#1f68b0" fill-opacity="1"/>
<rect x="117.1" y="197.5" width="12.2" height="151.1" fill="none" stroke="#c9c9d2" stroke-width="0.7"/>
<line x1="117.1" y1="271.1" x2="129.3" y2="271.1" stroke="#d0d0d8" stroke-width="1.2" />
<rect x="130.2" y="197.5" width="12.1" height="151.1" fill="none" stroke="#c9c9d2" stroke-width="0.7"/>
<line x1="130.2" y1="271.1" x2="142.3" y2="271.1" stroke="#d0d0d8" stroke-width="1.2" />
<rect x="144.6" y="197.5" width="12.1" height="151.1" fill="none" stroke="#c9c9d2" stroke-width="0.7"/>
<line x1="144.6" y1="271.1" x2="156.7" y2="271.1" stroke="#d0d0d8" stroke-width="1.2" />
<rect x="157.7" y="197.5" width="12.1" height="151.1" fill="none" stroke="#c9c9d2" stroke-width="0.7"/>
<line x1="157.7" y1="271.1" x2="169.8" y2="271.1" stroke="#d0d0d8" stroke-width="1.2" />
<rect x="178.5" y="197.5" width="12.1" height="151.1" fill="none" stroke="#c9c9d2" stroke-width="0.7"/>
<line x1="178.5" y1="271.1" x2="190.6" y2="271.1" stroke="#d0d0d8" stroke-width="1.2" />
<rect x="191.2" y="197.5" width="12" height="151.1" fill="none" stroke="#c9c9d2" stroke-width="0.7"/>
<line x1="191.2" y1="271.1" x2="203.2" y2="271.1" stroke="#d0d0d8" stroke-width="1.2" />
<rect x="205.6" y="197.5" width="12.2" height="151.1" fill="none" stroke="#c9c9d2" stroke-width="0.7"/>
<line x1="205.6" y1="271.1" x2="217.8" y2="271.1" stroke="#d0d0d8" stroke-width="1.2" />
<rect x="218.6" y="197.5" width="12" height="151.1" fill="none" stroke="#c9c9d2" stroke-width="0.7"/>
<line x1="218.6" y1="271.1" x2="230.6" y2="271.1" stroke="#d0d0d8" stroke-width="1.2" />
<text x="113.6" y="355.66" font-size="6" text-anchor="middle" font-weight="normal" font-style="normal" fill="#222" stroke="#222" stroke-width="0.12" >-3 Kb</text>
<text x="133.7" y="355.66" font-size="6" text-anchor="middle" font-weight="normal" font-style="normal" fill="#222" stroke="#222" stroke-width="0.12" >3 Kb</text>
<line x1="123.4" y1="355.6" x2="123.4" y2="364.3" stroke="#222" stroke-width="0.8" />
<text x="123.1" y="370.66" font-size="6" text-anchor="middle" font-weight="normal" font-style="normal" fill="#222" stroke="#222" stroke-width="0.12" >Peak center</text>
<defs><linearGradient id="cb1" x1="0" x2="1"><stop offset="0" stop-color="#d8d8d8"/><stop offset="0.5" stop-color="#6fa0c4"/><stop offset="1" stop-color="#0b2f5c"/></linearGradient><linearGradient id="cb2" x1="0" x2="1"><stop offset="0" stop-color="#dcdcdc"/><stop offset="0.5" stop-color="#9a90c4"/><stop offset="1" stop-color="#1c1450"/></linearGradient></defs>
<rect x="147" y="356" width="35.2" height="2.4" fill="url(#cb1)" />
<rect x="196" y="356" width="35.2" height="2.4" fill="url(#cb2)" />
<text x="152.8" y="364.46" font-size="6" text-anchor="middle" font-weight="normal" font-style="normal" fill="#222" stroke="#222" stroke-width="0.12" >0</text>
<text x="177.8" y="364.46" font-size="6" text-anchor="middle" font-weight="normal" font-style="normal" fill="#222" stroke="#222" stroke-width="0.12" >35</text>
<text x="197.2" y="364.46" font-size="6" text-anchor="middle" font-weight="normal" font-style="normal" fill="#222" stroke="#222" stroke-width="0.12" >0</text>
<text x="229.7" y="364.46" font-size="6" text-anchor="middle" font-weight="normal" font-style="normal" fill="#222" stroke="#222" stroke-width="0.12" >20</text>
<text x="270.2" y="233.79" font-size="10.4" text-anchor="start" font-weight="bold" font-style="normal" fill="#000" stroke="#000" stroke-width="0.25" >E</text>
<text x="359" y="246.51" font-size="5.85" text-anchor="end" font-weight="normal" font-style="normal" fill="#333" stroke="#333" stroke-width="0.12" >positive regulation of</text>
<text x="359" y="253.61" font-size="5.85" text-anchor="end" font-weight="normal" font-style="normal" fill="#333" stroke="#333" stroke-width="0.12" >immune system process</text>
<circle cx="363.8" cy="246.2" r="1.5" fill="#5a1a1a" />
<text x="359" y="263.61" font-size="5.85" text-anchor="end" font-weight="normal" font-style="normal" fill="#333" stroke="#333" stroke-width="0.12" >lymphocyte differentiation</text>
<circle cx="363.8" cy="258.5" r="3" fill="#b5442a" />
<text x="359" y="273.31" font-size="5.85" text-anchor="end" font-weight="normal" font-style="normal" fill="#333" stroke="#333" stroke-width="0.12" >lymphocyte activation</text>
<circle cx="363.8" cy="270.8" r="2.4" fill="#c0512a" />
<text x="359" y="284.41" font-size="5.85" text-anchor="end" font-weight="normal" font-style="normal" fill="#333" stroke="#333" stroke-width="0.12" >leukocyte differentiation</text>
<circle cx="363.8" cy="282.6" r="2.6" fill="#d2aa3c" />
<text x="359" y="296.31" font-size="5.85" text-anchor="end" font-weight="normal" font-style="normal" fill="#333" stroke="#333" stroke-width="0.12" >B cell differentiation</text>
<circle cx="363.8" cy="295" r="2.5" fill="#d6bc32" />
<text x="359" y="308.81" font-size="5.85" text-anchor="end" font-weight="normal" font-style="normal" fill="#333" stroke="#333" stroke-width="0.12" >leukocyte cell-cell adhesion</text>
<circle cx="363.8" cy="307.3" r="2.4" fill="#dcc62e" />
<text x="359" y="321.71" font-size="5.85" text-anchor="end" font-weight="normal" font-style="normal" fill="#333" stroke="#333" stroke-width="0.12" >regulation of lymphocyte activation</text>
<circle cx="363.8" cy="319.6" r="2.9" fill="#e6dc20" />
<text x="359" y="333.61" font-size="5.85" text-anchor="end" font-weight="normal" font-style="normal" fill="#333" stroke="#333" stroke-width="0.12" >B cell activation</text>
<circle cx="363.8" cy="331.5" r="2.7" fill="#ece41c" />
<text x="359" y="345.11" font-size="5.85" text-anchor="end" font-weight="normal" font-style="normal" fill="#333" stroke="#333" stroke-width="0.12" >regulation of immune response</text>
<circle cx="363.8" cy="343.8" r="0.7" fill="#f0ecb0" />
<text x="359" y="354.81" font-size="5.85" text-anchor="end" font-weight="normal" font-style="normal" fill="#333" stroke="#333" stroke-width="0.12" >positive regulation of</text>
<text x="359" y="362.11" font-size="5.85" text-anchor="end" font-weight="normal" font-style="normal" fill="#333" stroke="#333" stroke-width="0.12" >lymphocyte activation</text>
<circle cx="363.8" cy="356" r="3" fill="#ece41c" />
<text x="373" y="246.32" font-size="5.9" text-anchor="start" font-weight="normal" font-style="normal" fill="#222" stroke="#222" stroke-width="0.12" >-log(BinomP)</text>
<defs><linearGradient id="cbE" x1="0" y1="0" x2="0" y2="1"><stop offset="0" stop-color="#7a1a14"/><stop offset="0.35" stop-color="#b84a22"/><stop offset="0.7" stop-color="#e0a030"/><stop offset="1" stop-color="#f6ec1a"/></linearGradient></defs>
<rect x="373" y="253" width="6.2" height="28.5" fill="url(#cbE)" />
<text x="380.3" y="256.72" font-size="5.9" text-anchor="start" font-weight="normal" font-style="normal" fill="#222" stroke="#222" stroke-width="0.12" >120</text>
<text x="380.3" y="264.72" font-size="5.9" text-anchor="start" font-weight="normal" font-style="normal" fill="#222" stroke="#222" stroke-width="0.12" >110</text>
<text x="380.3" y="272.42" font-size="5.9" text-anchor="start" font-weight="normal" font-style="normal" fill="#222" stroke="#222" stroke-width="0.12" >100</text>
<text x="380.3" y="279.82" font-size="5.9" text-anchor="start" font-weight="normal" font-style="normal" fill="#222" stroke="#222" stroke-width="0.12" >90</text>
<text x="374.2" y="296.32" font-size="5.9" text-anchor="start" font-weight="normal" font-style="normal" fill="#222" stroke="#222" stroke-width="0.12" >TermCov</text>
<circle cx="375.1" cy="302.2" r="1.15" fill="#111" />
<text x="381.2" y="304.32" font-size="5.9" text-anchor="start" font-weight="normal" font-style="normal" fill="#222" stroke="#222" stroke-width="0.12" >0.20</text>
<circle cx="375.1" cy="309.3" r="1.75" fill="#111" />
<text x="381.2" y="311.42" font-size="5.9" text-anchor="start" font-weight="normal" font-style="normal" fill="#222" stroke="#222" stroke-width="0.12" >0.22</text>
<circle cx="375.1" cy="316.5" r="2.25" fill="#111" />
<text x="381.2" y="318.62" font-size="5.9" text-anchor="start" font-weight="normal" font-style="normal" fill="#222" stroke="#222" stroke-width="0.12" >0.24</text>
<circle cx="375.1" cy="324.2" r="2.65" fill="#111" />
<text x="381.2" y="326.32" font-size="5.9" text-anchor="start" font-weight="normal" font-style="normal" fill="#222" stroke="#222" stroke-width="0.12" >0.26</text>
<text x="438.8" y="233.39" font-size="10.4" text-anchor="start" font-weight="bold" font-style="normal" fill="#000" stroke="#000" stroke-width="0.25" >F</text>
<text x="484.4" y="243.58" font-size="5.5" text-anchor="middle" font-weight="normal" font-style="normal" fill="#222" stroke="#222" stroke-width="0.12" >***</text>
<line x1="470.4" y1="244.6" x2="498.8" y2="244.6" stroke="#555" stroke-width="0.8" />
<line x1="460.8" y1="248.5" x2="460.8" y2="359.6" stroke="#222" stroke-width="1.1" />
<line x1="460.25" y1="359.6" x2="507.8" y2="359.6" stroke="#222" stroke-width="1.1" />
<line x1="458.6" y1="252.35" x2="460.8" y2="252.35" stroke="#222" stroke-width="0.8" />
<text x="455.2" y="254.47" font-size="5.9" text-anchor="end" font-weight="normal" font-style="normal" fill="#222" stroke="#222" stroke-width="0.12" >5</text>
<line x1="458.6" y1="269.8" x2="460.8" y2="269.8" stroke="#222" stroke-width="0.8" />
<text x="455.2" y="271.92" font-size="5.9" text-anchor="end" font-weight="normal" font-style="normal" fill="#222" stroke="#222" stroke-width="0.12" >4</text>
<line x1="458.6" y1="287.25" x2="460.8" y2="287.25" stroke="#222" stroke-width="0.8" />
<text x="455.2" y="289.37" font-size="5.9" text-anchor="end" font-weight="normal" font-style="normal" fill="#222" stroke="#222" stroke-width="0.12" >3</text>
<line x1="458.6" y1="304.7" x2="460.8" y2="304.7" stroke="#222" stroke-width="0.8" />
<text x="455.2" y="306.82" font-size="5.9" text-anchor="end" font-weight="normal" font-style="normal" fill="#222" stroke="#222" stroke-width="0.12" >2</text>
<line x1="458.6" y1="322.15" x2="460.8" y2="322.15" stroke="#222" stroke-width="0.8" />
<text x="455.2" y="324.27" font-size="5.9" text-anchor="end" font-weight="normal" font-style="normal" fill="#222" stroke="#222" stroke-width="0.12" >1</text>
<line x1="458.6" y1="339.6" x2="460.8" y2="339.6" stroke="#222" stroke-width="0.8" />
<text x="455.2" y="341.72" font-size="5.9" text-anchor="end" font-weight="normal" font-style="normal" fill="#222" stroke="#222" stroke-width="0.12" >0</text>
<line x1="458.6" y1="357.05" x2="460.8" y2="357.05" stroke="#222" stroke-width="0.8" />
<text x="455.2" y="359.17" font-size="5.9" text-anchor="end" font-weight="normal" font-style="normal" fill="#222" stroke="#222" stroke-width="0.12" >-1</text>
<line x1="473.8" y1="261" x2="473.8" y2="289.6" stroke="#333" stroke-width="0.75" stroke-dasharray="1 0.8"/>
<line x1="473.8" y1="313.1" x2="473.8" y2="347.3" stroke="#333" stroke-width="0.75" stroke-dasharray="1 0.8"/>
<line x1="470.4" y1="261" x2="477.7" y2="261" stroke="#222" stroke-width="0.9" />
<line x1="469" y1="347.3" x2="477.7" y2="347.3" stroke="#222" stroke-width="0.9" />
<rect x="465.2" y="289.6" width="17.3" height="23.5" fill="#e3097f" />
<rect x="465.2" y="297.4" width="17.3" height="1.4" fill="#7a1040" />
<circle cx="473.8" cy="251.7" r="1.1" fill="none" stroke="#333" stroke-width="0.6"/>
<circle cx="473.8" cy="352.5" r="1.4" fill="#333" />
<line x1="495.4" y1="253.7" x2="495.4" y2="293" stroke="#333" stroke-width="0.75" stroke-dasharray="1 0.8"/>
<line x1="495.4" y1="320.8" x2="495.4" y2="355.4" stroke="#333" stroke-width="0.75" stroke-dasharray="1 0.8"/>
<line x1="491.8" y1="253.7" x2="499.8" y2="253.7" stroke="#222" stroke-width="0.9" />
<line x1="491.5" y1="355.4" x2="499.8" y2="355.4" stroke="#222" stroke-width="0.9" />
<rect x="486.9" y="293" width="17.2" height="27.8" fill="#e3097f" />
<rect x="486.9" y="302.8" width="17.2" height="1.4" fill="#7a1040" />
<line x1="473.4" y1="359.6" x2="473.4" y2="361.8" stroke="#222" stroke-width="0.8" />
<line x1="495.4" y1="359.6" x2="495.4" y2="361.8" stroke="#222" stroke-width="0.8" />
<text x="473.7" y="370.16" font-size="6" text-anchor="middle" font-weight="normal" font-style="normal" fill="#222" stroke="#222" stroke-width="0.12" >NBC</text>
<text x="495.4" y="370.16" font-size="6" text-anchor="middle" font-weight="normal" font-style="normal" fill="#222" stroke="#222" stroke-width="0.12" >CLL</text>
<text x="6.5" y="395.29" font-size="10.4" text-anchor="start" font-weight="bold" font-style="normal" fill="#000" stroke="#000" stroke-width="0.25" >G</text>
<rect x="33.4" y="434.6" width="18.38" height="4.05" fill="#f8a062" />
<rect x="33.4" y="438.6" width="18.38" height="4.05" fill="#ee7444" />
<rect x="33.4" y="442.6" width="18.38" height="2.05" fill="#fbf0c4" />
<rect x="33.4" y="444.6" width="18.38" height="4.05" fill="#f8a062" />
<rect x="33.4" y="448.6" width="18.38" height="2.05" fill="#fcc584" />
<rect x="33.4" y="450.6" width="18.38" height="2.05" fill="#f8f6de" />
<rect x="33.4" y="452.6" width="18.38" height="6.05" fill="#fbf0c4" />
<rect x="33.4" y="458.6" width="18.38" height="2.05" fill="#f8f6de" />
<rect x="33.4" y="460.6" width="18.38" height="4.05" fill="#fbf0c4" />
<rect x="33.4" y="464.6" width="18.38" height="2.05" fill="#d6e8f1" />
<rect x="33.4" y="466.6" width="18.38" height="4.05" fill="#fbf0c4" />
<rect x="33.4" y="470.6" width="18.38" height="2.05" fill="#f8f6de" />
<rect x="33.4" y="472.6" width="18.38" height="2.05" fill="#d6e8f1" />
<rect x="33.4" y="474.6" width="18.38" height="2.05" fill="#b4d0e4" />
<rect x="33.4" y="476.6" width="18.38" height="2.05" fill="#f8f6de" />
<rect x="33.4" y="478.6" width="18.38" height="2.05" fill="#fbf0c4" />
<rect x="33.4" y="480.6" width="18.38" height="2.05" fill="#d6e8f1" />
<rect x="33.4" y="482.6" width="18.38" height="2.05" fill="#f8f6de" />
<rect x="33.4" y="484.6" width="18.38" height="2.05" fill="#b4d0e4" />
<rect x="33.4" y="486.6" width="18.38" height="2.05" fill="#f8f6de" />
<rect x="33.4" y="488.6" width="18.38" height="4.05" fill="#4a78b8" />
<rect x="33.4" y="492.6" width="18.38" height="2.05" fill="#d6e8f1" />
<rect x="33.4" y="494.6" width="18.38" height="6.05" fill="#b4d0e4" />
<rect x="33.4" y="500.6" width="18.38" height="2.05" fill="#d6e8f1" />
<rect x="33.4" y="502.6" width="18.38" height="6.05" fill="#b4d0e4" />
<rect x="33.4" y="508.6" width="18.38" height="4.05" fill="#fbf0c4" />
<rect x="33.4" y="512.6" width="18.38" height="2.05" fill="#d6e8f1" />
<rect x="33.4" y="514.6" width="18.38" height="4.05" fill="#b4d0e4" />
<rect x="33.4" y="518.6" width="18.38" height="2.05" fill="#fbf0c4" />
<rect x="33.4" y="520.6" width="18.38" height="2.05" fill="#fde29c" />
<rect x="33.4" y="522.6" width="18.38" height="2.05" fill="#d6e8f1" />
<rect x="33.4" y="524.6" width="18.38" height="4.05" fill="#b4d0e4" />
<rect x="33.4" y="528.6" width="18.38" height="2.05" fill="#d6e8f1" />
<rect x="33.4" y="530.6" width="18.38" height="6.05" fill="#b4d0e4" />
<rect x="33.4" y="536.6" width="18.38" height="2.05" fill="#d6e8f1" />
<rect x="33.4" y="538.6" width="18.38" height="2.05" fill="#b4d0e4" />
<rect x="33.4" y="540.6" width="18.38" height="2.05" fill="#d6e8f1" />
<rect x="33.4" y="542.6" width="18.38" height="4.05" fill="#b4d0e4" />
<rect x="51.73" y="434.6" width="18.38" height="2.05" fill="#e6f1f4" />
<rect x="51.73" y="436.6" width="18.38" height="2.05" fill="#f8f6de" />
<rect x="51.73" y="438.6" width="18.38" height="2.05" fill="#6b94c8" />
<rect x="51.73" y="440.6" width="18.38" height="2.05" fill="#b4d0e4" />
<rect x="51.73" y="442.6" width="18.38" height="2.05" fill="#fde29c" />
<rect x="51.73" y="444.6" width="18.38" height="4.05" fill="#fcc584" />
<rect x="51.73" y="448.6" width="18.38" height="2.05" fill="#f8a062" />
<rect x="51.73" y="450.6" width="18.38" height="2.05" fill="#f8f6de" />
<rect x="51.73" y="452.6" width="18.38" height="2.05" fill="#fbf0c4" />
<rect x="51.73" y="454.6" width="18.38" height="2.05" fill="#f8f6de" />
<rect x="51.73" y="456.6" width="18.38" height="6.05" fill="#fbf0c4" />
<rect x="51.73" y="462.6" width="18.38" height="2.05" fill="#d6e8f1" />
<rect x="51.73" y="464.6" width="18.38" height="2.05" fill="#b4d0e4" />
<rect x="51.73" y="466.6" width="18.38" height="6.05" fill="#f8f6de" />
<rect x="51.73" y="472.6" width="18.38" height="2.05" fill="#d6402a" />
<rect x="51.73" y="474.6" width="18.38" height="2.05" fill="#fcc584" />
<rect x="51.73" y="476.6" width="18.38" height="2.05" fill="#d6e8f1" />
<rect x="51.73" y="478.6" width="18.38" height="2.05" fill="#f8f6de" />
<rect x="51.73" y="480.6" width="18.38" height="2.05" fill="#d6e8f1" />
<rect x="51.73" y="482.6" width="18.38" height="2.05" fill="#f8f6de" />
<rect x="51.73" y="484.6" width="18.38" height="4.05" fill="#b4d0e4" />
<rect x="51.73" y="488.6" width="18.38" height="2.05" fill="#4a78b8" />
<rect x="51.73" y="490.6" width="18.38" height="2.05" fill="#6b94c8" />
<rect x="51.73" y="492.6" width="18.38" height="4.05" fill="#b4d0e4" />
<rect x="51.73" y="496.6" width="18.38" height="16.05" fill="#9ec1de" />
<rect x="51.73" y="512.6" width="18.38" height="2.05" fill="#fbf0c4" />
<rect x="51.73" y="514.6" width="18.38" height="2.05" fill="#9ec1de" />
<rect x="51.73" y="516.6" width="18.38" height="2.05" fill="#b4d0e4" />
<rect x="51.73" y="518.6" width="18.38" height="2.05" fill="#fbf0c4" />
<rect x="51.73" y="520.6" width="18.38" height="4.05" fill="#fde29c" />
<rect x="51.73" y="524.6" width="18.38" height="8.05" fill="#b4d0e4" />
<rect x="51.73" y="532.6" width="18.38" height="2.05" fill="#d6e8f1" />
<rect x="51.73" y="534.6" width="18.38" height="12.05" fill="#b4d0e4" />
<rect x="70.07" y="434.6" width="18.38" height="2.05" fill="#e6f1f4" />
<rect x="70.07" y="436.6" width="18.38" height="4.05" fill="#d6e8f1" />
<rect x="70.07" y="440.6" width="18.38" height="10.05" fill="#e6f1f4" />
<rect x="70.07" y="450.6" width="18.38" height="6.05" fill="#f8f6de" />
<rect x="70.07" y="456.6" width="18.38" height="4.05" fill="#fbf0c4" />
<rect x="70.07" y="460.6" width="18.38" height="2.05" fill="#fcc584" />
<rect x="70.07" y="462.6" width="18.38" height="2.05" fill="#d6e8f1" />
<rect x="70.07" y="464.6" width="18.38" height="2.05" fill="#b4d0e4" />
<rect x="70.07" y="466.6" width="18.38" height="4.05" fill="#ee7444" />
<rect x="70.07" y="470.6" width="18.38" height="2.05" fill="#fbf0c4" />
<rect x="70.07" y="472.6" width="18.38" height="2.05" fill="#d6e8f1" />
<rect x="70.07" y="474.6" width="18.38" height="2.05" fill="#b4d0e4" />
<rect x="70.07" y="476.6" width="18.38" height="2.05" fill="#f8f6de" />
<rect x="70.07" y="478.6" width="18.38" height="2.05" fill="#fde29c" />
<rect x="70.07" y="480.6" width="18.38" height="2.05" fill="#d6e8f1" />
<rect x="70.07" y="482.6" width="18.38" height="2.05" fill="#f8f6de" />
<rect x="70.07" y="484.6" width="18.38" height="2.05" fill="#fcc584" />
<rect x="70.07" y="486.6" width="18.38" height="2.05" fill="#f8f6de" />
<rect x="70.07" y="488.6" width="18.38" height="2.05" fill="#d6e8f1" />
<rect x="70.07" y="490.6" width="18.38" height="4.05" fill="#fde29c" />
<rect x="70.07" y="494.6" width="18.38" height="2.05" fill="#fbf0c4" />
<rect x="70.07" y="496.6" width="18.38" height="6.05" fill="#b4d0e4" />
<rect x="70.07" y="502.6" width="18.38" height="4.05" fill="#d6e8f1" />
<rect x="70.07" y="506.6" width="18.38" height="4.05" fill="#b4d0e4" />
<rect x="70.07" y="510.6" width="18.38" height="2.05" fill="#9ec1de" />
<rect x="70.07" y="512.6" width="18.38" height="6.05" fill="#b4d0e4" />
<rect x="70.07" y="518.6" width="18.38" height="2.05" fill="#9ec1de" />
<rect x="70.07" y="520.6" width="18.38" height="2.05" fill="#6b94c8" />
<rect x="70.07" y="522.6" width="18.38" height="4.05" fill="#b4d0e4" />
<rect x="70.07" y="526.6" width="18.38" height="2.05" fill="#d6e8f1" />
<rect x="70.07" y="528.6" width="18.38" height="14.05" fill="#b4d0e4" />
<rect x="70.07" y="542.6" width="18.38" height="2.05" fill="#d6e8f1" />
<rect x="70.07" y="544.6" width="18.38" height="2.05" fill="#b4d0e4" />
<rect x="88.4" y="434.6" width="18.38" height="2.05" fill="#fbf0c4" />
<rect x="88.4" y="436.6" width="18.38" height="2.05" fill="#b4d0e4" />
<rect x="88.4" y="438.6" width="18.38" height="10.05" fill="#f8f6de" />
<rect x="88.4" y="448.6" width="18.38" height="2.05" fill="#fde29c" />
<rect x="88.4" y="450.6" width="18.38" height="2.05" fill="#f8a062" />
<rect x="88.4" y="452.6" width="18.38" height="2.05" fill="#fcc584" />
<rect x="88.4" y="454.6" width="18.38" height="4.05" fill="#fbf0c4" />
<rect x="88.4" y="458.6" width="18.38" height="2.05" fill="#f8a062" />
<rect x="88.4" y="460.6" width="18.38" height="4.05" fill="#fbf0c4" />
<rect x="88.4" y="464.6" width="18.38" height="6.05" fill="#f8f6de" />
<rect x="88.4" y="470.6" width="18.38" height="2.05" fill="#d6e8f1" />
<rect x="88.4" y="472.6" width="18.38" height="2.05" fill="#b4d0e4" />
<rect x="88.4" y="474.6" width="18.38" height="4.05" fill="#9ec1de" />
<rect x="88.4" y="478.6" width="18.38" height="2.05" fill="#d6e8f1" />
<rect x="88.4" y="480.6" width="18.38" height="2.05" fill="#f8f6de" />
<rect x="88.4" y="482.6" width="18.38" height="2.05" fill="#fbf0c4" />
<rect x="88.4" y="484.6" width="18.38" height="2.05" fill="#b4d0e4" />
<rect x="88.4" y="486.6" width="18.38" height="2.05" fill="#9ec1de" />
<rect x="88.4" y="488.6" width="18.38" height="2.05" fill="#f8f6de" />
<rect x="88.4" y="490.6" width="18.38" height="2.05" fill="#d6e8f1" />
<rect x="88.4" y="492.6" width="18.38" height="2.05" fill="#fbf0c4" />
<rect x="88.4" y="494.6" width="18.38" height="2.05" fill="#d6e8f1" />
<rect x="88.4" y="496.6" width="18.38" height="12.05" fill="#b4d0e4" />
<rect x="88.4" y="508.6" width="18.38" height="4.05" fill="#d6e8f1" />
<rect x="88.4" y="512.6" width="18.38" height="2.05" fill="#b4d0e4" />
<rect x="88.4" y="514.6" width="18.38" height="2.05" fill="#d6e8f1" />
<rect x="88.4" y="516.6" width="18.38" height="4.05" fill="#b4d0e4" />
<rect x="88.4" y="520.6" width="18.38" height="2.05" fill="#4a78b8" />
<rect x="88.4" y="522.6" width="18.38" height="12.05" fill="#b4d0e4" />
<rect x="88.4" y="534.6" width="18.38" height="2.05" fill="#6b94c8" />
<rect x="88.4" y="536.6" width="18.38" height="2.05" fill="#d6e8f1" />
<rect x="88.4" y="538.6" width="18.38" height="4.05" fill="#b4d0e4" />
<rect x="88.4" y="542.6" width="18.38" height="4.05" fill="#fbf0c4" />
<rect x="106.73" y="434.6" width="18.38" height="2.05" fill="#6b94c8" />
<rect x="106.73" y="436.6" width="18.38" height="2.05" fill="#d6e8f1" />
<rect x="106.73" y="438.6" width="18.38" height="2.05" fill="#e6f1f4" />
<rect x="106.73" y="440.6" width="18.38" height="2.05" fill="#d6e8f1" />
<rect x="106.73" y="442.6" width="18.38" height="4.05" fill="#e6f1f4" />
<rect x="106.73" y="446.6" width="18.38" height="18.05" fill="#f8f6de" />
<rect x="106.73" y="464.6" width="18.38" height="2.05" fill="#d6e8f1" />
<rect x="106.73" y="466.6" width="18.38" height="2.05" fill="#f8f6de" />
<rect x="106.73" y="468.6" width="18.38" height="2.05" fill="#6b94c8" />
<rect x="106.73" y="470.6" width="18.38" height="2.05" fill="#b4d0e4" />
<rect x="106.73" y="472.6" width="18.38" height="2.05" fill="#f8f6de" />
<rect x="106.73" y="474.6" width="18.38" height="2.05" fill="#b4d0e4" />
<rect x="106.73" y="476.6" width="18.38" height="2.05" fill="#9ec1de" />
<rect x="106.73" y="478.6" width="18.38" height="4.05" fill="#f8f6de" />
<rect x="106.73" y="482.6" width="18.38" height="2.05" fill="#d6e8f1" />
<rect x="106.73" y="484.6" width="18.38" height="8.05" fill="#f8f6de" />
<rect x="106.73" y="492.6" width="18.38" height="4.05" fill="#6b94c8" />
<rect x="106.73" y="496.6" width="18.38" height="12.05" fill="#b4d0e4" />
<rect x="106.73" y="508.6" width="18.38" height="2.05" fill="#d6e8f1" />
<rect x="106.73" y="510.6" width="18.38" height="2.05" fill="#fbf0c4" />
<rect x="106.73" y="512.6" width="18.38" height="2.05" fill="#9ec1de" />
<rect x="106.73" y="514.6" width="18.38" height="2.05" fill="#d6e8f1" />
<rect x="106.73" y="516.6" width="18.38" height="2.05" fill="#b4d0e4" />
<rect x="106.73" y="518.6" width="18.38" height="4.05" fill="#d6e8f1" />
<rect x="106.73" y="522.6" width="18.38" height="4.05" fill="#fbf0c4" />
<rect x="106.73" y="526.6" width="18.38" height="6.05" fill="#b4d0e4" />
<rect x="106.73" y="532.6" width="18.38" height="4.05" fill="#fde29c" />
<rect x="106.73" y="536.6" width="18.38" height="2.05" fill="#d6e8f1" />
<rect x="106.73" y="538.6" width="18.38" height="6.05" fill="#b4d0e4" />
<rect x="106.73" y="544.6" width="18.38" height="2.05" fill="#d6e8f1" />
<rect x="125.07" y="434.6" width="18.38" height="2.05" fill="#6b94c8" />
<rect x="125.07" y="436.6" width="18.38" height="4.05" fill="#fbf0c4" />
<rect x="125.07" y="440.6" width="18.38" height="2.05" fill="#d6e8f1" />
<rect x="125.07" y="442.6" width="18.38" height="2.05" fill="#f8f6de" />
<rect x="125.07" y="444.6" width="18.38" height="4.05" fill="#fbf0c4" />
<rect x="125.07" y="448.6" width="18.38" height="2.05" fill="#fde29c" />
<rect x="125.07" y="450.6" width="18.38" height="2.05" fill="#f8a062" />
<rect x="125.07" y="452.6" width="18.38" height="2.05" fill="#fcc584" />
<rect x="125.07" y="454.6" width="18.38" height="2.05" fill="#f8a062" />
<rect x="125.07" y="456.6" width="18.38" height="6.05" fill="#fbf0c4" />
<rect x="125.07" y="462.6" width="18.38" height="2.05" fill="#f8f6de" />
<rect x="125.07" y="464.6" width="18.38" height="2.05" fill="#ee7444" />
<rect x="125.07" y="466.6" width="18.38" height="2.05" fill="#d6e8f1" />
<rect x="125.07" y="468.6" width="18.38" height="2.05" fill="#9ec1de" />
<rect x="125.07" y="470.6" width="18.38" height="2.05" fill="#6b94c8" />
<rect x="125.07" y="472.6" width="18.38" height="2.05" fill="#f8f6de" />
<rect x="125.07" y="474.6" width="18.38" height="2.05" fill="#b4d0e4" />
<rect x="125.07" y="476.6" width="18.38" height="2.05" fill="#9ec1de" />
<rect x="125.07" y="478.6" width="18.38" height="6.05" fill="#f8f6de" />
<rect x="125.07" y="484.6" width="18.38" height="2.05" fill="#d6e8f1" />
<rect x="125.07" y="486.6" width="18.38" height="2.05" fill="#f8f6de" />
<rect x="125.07" y="488.6" width="18.38" height="4.05" fill="#fde29c" />
<rect x="125.07" y="492.6" width="18.38" height="2.05" fill="#9ec1de" />
<rect x="125.07" y="494.6" width="18.38" height="8.05" fill="#b4d0e4" />
<rect x="125.07" y="502.6" width="18.38" height="2.05" fill="#9ec1de" />
<rect x="125.07" y="504.6" width="18.38" height="2.05" fill="#b4d0e4" />
<rect x="125.07" y="506.6" width="18.38" height="4.05" fill="#d6e8f1" />
<rect x="125.07" y="510.6" width="18.38" height="2.05" fill="#9ec1de" />
<rect x="125.07" y="512.6" width="18.38" height="4.05" fill="#d6e8f1" />
<rect x="125.07" y="516.6" width="18.38" height="12.05" fill="#b4d0e4" />
<rect x="125.07" y="528.6" width="18.38" height="2.05" fill="#d6e8f1" />
<rect x="125.07" y="530.6" width="18.38" height="14.05" fill="#b4d0e4" />
<rect x="125.07" y="544.6" width="18.38" height="2.05" fill="#d6e8f1" />
<rect x="143.4" y="434.6" width="18.38" height="2.05" fill="#f8f6de" />
<rect x="143.4" y="436.6" width="18.38" height="2.05" fill="#d6e8f1" />
<rect x="143.4" y="438.6" width="18.38" height="2.05" fill="#f8f6de" />
<rect x="143.4" y="440.6" width="18.38" height="2.05" fill="#b4d0e4" />
<rect x="143.4" y="442.6" width="18.38" height="2.05" fill="#d6e8f1" />
<rect x="143.4" y="444.6" width="18.38" height="2.05" fill="#9ec1de" />
<rect x="143.4" y="446.6" width="18.38" height="2.05" fill="#b4d0e4" />
<rect x="143.4" y="448.6" width="18.38" height="2.05" fill="#9ec1de" />
<rect x="143.4" y="450.6" width="18.38" height="2.05" fill="#f8f6de" />
<rect x="143.4" y="452.6" width="18.38" height="2.05" fill="#e6f1f4" />
<rect x="143.4" y="454.6" width="18.38" height="2.05" fill="#b4d0e4" />
<rect x="143.4" y="456.6" width="18.38" height="6.05" fill="#fbf0c4" />
<rect x="143.4" y="462.6" width="18.38" height="2.05" fill="#b4d0e4" />
<rect x="143.4" y="464.6" width="18.38" height="2.05" fill="#f8f6de" />
<rect x="143.4" y="466.6" width="18.38" height="2.05" fill="#b4d0e4" />
<rect x="143.4" y="468.6" width="18.38" height="4.05" fill="#fbf0c4" />
<rect x="143.4" y="472.6" width="18.38" height="2.05" fill="#f8f6de" />
<rect x="143.4" y="474.6" width="18.38" height="2.05" fill="#fbf0c4" />
<rect x="143.4" y="476.6" width="18.38" height="2.05" fill="#f8f6de" />
<rect x="143.4" y="478.6" width="18.38" height="2.05" fill="#9ec1de" />
<rect x="143.4" y="480.6" width="18.38" height="2.05" fill="#f8f6de" />
<rect x="143.4" y="482.6" width="18.38" height="2.05" fill="#d6e8f1" />
<rect x="143.4" y="484.6" width="18.38" height="2.05" fill="#fbf0c4" />
<rect x="143.4" y="486.6" width="18.38" height="2.05" fill="#f8f6de" />
<rect x="143.4" y="488.6" width="18.38" height="2.05" fill="#fde29c" />
<rect x="143.4" y="490.6" width="18.38" height="2.05" fill="#fbf0c4" />
<rect x="143.4" y="492.6" width="18.38" height="2.05" fill="#fcc584" />
<rect x="143.4" y="494.6" width="18.38" height="2.05" fill="#fbf0c4" />
<rect x="143.4" y="496.6" width="18.38" height="2.05" fill="#f8f6de" />
<rect x="143.4" y="498.6" width="18.38" height="4.05" fill="#fbf0c4" />
<rect x="143.4" y="502.6" width="18.38" height="6.05" fill="#fde29c" />
<rect x="143.4" y="508.6" width="18.38" height="2.05" fill="#fbf0c4" />
<rect x="143.4" y="510.6" width="18.38" height="2.05" fill="#fcc584" />
<rect x="143.4" y="512.6" width="18.38" height="2.05" fill="#f8f6de" />
<rect x="143.4" y="514.6" width="18.38" height="4.05" fill="#fbf0c4" />
<rect x="143.4" y="518.6" width="18.38" height="4.05" fill="#f8f6de" />
<rect x="143.4" y="522.6" width="18.38" height="2.05" fill="#fcc584" />
<rect x="143.4" y="524.6" width="18.38" height="2.05" fill="#fde29c" />
<rect x="143.4" y="526.6" width="18.38" height="2.05" fill="#fcc584" />
<rect x="143.4" y="528.6" width="18.38" height="2.05" fill="#fde29c" />
<rect x="143.4" y="530.6" width="18.38" height="2.05" fill="#f8a062" />
<rect x="143.4" y="532.6" width="18.38" height="2.05" fill="#d6e8f1" />
<rect x="143.4" y="534.6" width="18.38" height="4.05" fill="#f8f6de" />
<rect x="143.4" y="538.6" width="18.38" height="4.05" fill="#fbf0c4" />
<rect x="143.4" y="542.6" width="18.38" height="4.05" fill="#f8f6de" />
<rect x="161.73" y="434.6" width="18.38" height="4.05" fill="#f8f6de" />
<rect x="161.73" y="438.6" width="18.38" height="4.05" fill="#d6e8f1" />
<rect x="161.73" y="442.6" width="18.38" height="2.05" fill="#b4d0e4" />
<rect x="161.73" y="444.6" width="18.38" height="2.05" fill="#d6e8f1" />
<rect x="161.73" y="446.6" width="18.38" height="4.05" fill="#9ec1de" />
<rect x="161.73" y="450.6" width="18.38" height="4.05" fill="#d6e8f1" />
<rect x="161.73" y="454.6" width="18.38" height="2.05" fill="#9ec1de" />
<rect x="161.73" y="456.6" width="18.38" height="2.05" fill="#6b94c8" />
<rect x="161.73" y="458.6" width="18.38" height="2.05" fill="#b4d0e4" />
<rect x="161.73" y="460.6" width="18.38" height="2.05" fill="#6b94c8" />
<rect x="161.73" y="462.6" width="18.38" height="2.05" fill="#9ec1de" />
<rect x="161.73" y="464.6" width="18.38" height="6.05" fill="#f8f6de" />
<rect x="161.73" y="470.6" width="18.38" height="2.05" fill="#d6e8f1" />
<rect x="161.73" y="472.6" width="18.38" height="2.05" fill="#f8f6de" />
<rect x="161.73" y="474.6" width="18.38" height="2.05" fill="#fbf0c4" />
<rect x="161.73" y="476.6" width="18.38" height="2.05" fill="#f8f6de" />
<rect x="161.73" y="478.6" width="18.38" height="2.05" fill="#4a78b8" />
<rect x="161.73" y="480.6" width="18.38" height="2.05" fill="#d6e8f1" />
<rect x="161.73" y="482.6" width="18.38" height="2.05" fill="#f8f6de" />
<rect x="161.73" y="484.6" width="18.38" height="2.05" fill="#fbf0c4" />
<rect x="161.73" y="486.6" width="18.38" height="2.05" fill="#f8f6de" />
<rect x="161.73" y="488.6" width="18.38" height="4.05" fill="#fbf0c4" />
<rect x="161.73" y="492.6" width="18.38" height="2.05" fill="#f8f6de" />
<rect x="161.73" y="494.6" width="18.38" height="6.05" fill="#fbf0c4" />
<rect x="161.73" y="500.6" width="18.38" height="2.05" fill="#fde29c" />
<rect x="161.73" y="502.6" width="18.38" height="4.05" fill="#f8f6de" />
<rect x="161.73" y="506.6" width="18.38" height="2.05" fill="#d6e8f1" />
<rect x="161.73" y="508.6" width="18.38" height="4.05" fill="#f8f6de" />
<rect x="161.73" y="512.6" width="18.38" height="4.05" fill="#f8a062" />
<rect x="161.73" y="516.6" width="18.38" height="2.05" fill="#fde29c" />
<rect x="161.73" y="518.6" width="18.38" height="2.05" fill="#f8a062" />
<rect x="161.73" y="520.6" width="18.38" height="2.05" fill="#fde29c" />
<rect x="161.73" y="522.6" width="18.38" height="8.05" fill="#ee7444" />
<rect x="161.73" y="530.6" width="18.38" height="2.05" fill="#fbf0c4" />
<rect x="161.73" y="532.6" width="18.38" height="2.05" fill="#fde29c" />
<rect x="161.73" y="534.6" width="18.38" height="2.05" fill="#fbf0c4" />
<rect x="161.73" y="536.6" width="18.38" height="4.05" fill="#f8a062" />
<rect x="161.73" y="540.6" width="18.38" height="2.05" fill="#fcc584" />
<rect x="161.73" y="542.6" width="18.38" height="4.05" fill="#f8f6de" />
<rect x="180.07" y="434.6" width="18.38" height="4.05" fill="#fbf0c4" />
<rect x="180.07" y="438.6" width="18.38" height="2.05" fill="#f8f6de" />
<rect x="180.07" y="440.6" width="18.38" height="2.05" fill="#fbf0c4" />
<rect x="180.07" y="442.6" width="18.38" height="2.05" fill="#f8a062" />
<rect x="180.07" y="444.6" width="18.38" height="2.05" fill="#f8f6de" />
<rect x="180.07" y="446.6" width="18.38" height="6.05" fill="#d6e8f1" />
<rect x="180.07" y="452.6" width="18.38" height="2.05" fill="#f8f6de" />
<rect x="180.07" y="454.6" width="18.38" height="2.05" fill="#d6e8f1" />
<rect x="180.07" y="456.6" width="18.38" height="4.05" fill="#b4d0e4" />
<rect x="180.07" y="460.6" width="18.38" height="2.05" fill="#d6e8f1" />
<rect x="180.07" y="462.6" width="18.38" height="8.05" fill="#f8f6de" />
<rect x="180.07" y="470.6" width="18.38" height="2.05" fill="#fbf0c4" />
<rect x="180.07" y="472.6" width="18.38" height="2.05" fill="#fde29c" />
<rect x="180.07" y="474.6" width="18.38" height="2.05" fill="#f8f6de" />
<rect x="180.07" y="476.6" width="18.38" height="2.05" fill="#fcc584" />
<rect x="180.07" y="478.6" width="18.38" height="6.05" fill="#f8f6de" />
<rect x="180.07" y="484.6" width="18.38" height="2.05" fill="#fbf0c4" />
<rect x="180.07" y="486.6" width="18.38" height="2.05" fill="#f8f6de" />
<rect x="180.07" y="488.6" width="18.38" height="2.05" fill="#fde29c" />
<rect x="180.07" y="490.6" width="18.38" height="2.05" fill="#fbf0c4" />
<rect x="180.07" y="492.6" width="18.38" height="2.05" fill="#f8f6de" />
<rect x="180.07" y="494.6" width="18.38" height="2.05" fill="#f8a062" />
<rect x="180.07" y="496.6" width="18.38" height="2.05" fill="#fcc584" />
<rect x="180.07" y="498.6" width="18.38" height="2.05" fill="#fbf0c4" />
<rect x="180.07" y="500.6" width="18.38" height="2.05" fill="#fde29c" />
<rect x="180.07" y="502.6" width="18.38" height="2.05" fill="#fcc584" />
<rect x="180.07" y="504.6" width="18.38" height="2.05" fill="#fbf0c4" />
<rect x="180.07" y="506.6" width="18.38" height="2.05" fill="#fcc584" />
<rect x="180.07" y="508.6" width="18.38" height="2.05" fill="#fbf0c4" />
<rect x="180.07" y="510.6" width="18.38" height="2.05" fill="#fde29c" />
<rect x="180.07" y="512.6" width="18.38" height="2.05" fill="#f8f6de" />
<rect x="180.07" y="514.6" width="18.38" height="2.05" fill="#fbf0c4" />
<rect x="180.07" y="516.6" width="18.38" height="2.05" fill="#f8f6de" />
<rect x="180.07" y="518.6" width="18.38" height="4.05" fill="#fbf0c4" />
<rect x="180.07" y="522.6" width="18.38" height="2.05" fill="#f8f6de" />
<rect x="180.07" y="524.6" width="18.38" height="2.05" fill="#d6e8f1" />
<rect x="180.07" y="526.6" width="18.38" height="8.05" fill="#f8f6de" />
<rect x="180.07" y="534.6" width="18.38" height="2.05" fill="#d6e8f1" />
<rect x="180.07" y="536.6" width="18.38" height="2.05" fill="#f8f6de" />
<rect x="180.07" y="538.6" width="18.38" height="4.05" fill="#b4d0e4" />
<rect x="180.07" y="542.6" width="18.38" height="4.05" fill="#f8f6de" />
<rect x="198.4" y="434.6" width="18.38" height="2.05" fill="#fbf0c4" />
<rect x="198.4" y="436.6" width="18.38" height="2.05" fill="#f8f6de" />
<rect x="198.4" y="438.6" width="18.38" height="2.05" fill="#fbf0c4" />
<rect x="198.4" y="440.6" width="18.38" height="2.05" fill="#f8f6de" />
<rect x="198.4" y="442.6" width="18.38" height="2.05" fill="#9ec1de" />
<rect x="198.4" y="444.6" width="18.38" height="2.05" fill="#f8f6de" />
<rect x="198.4" y="446.6" width="18.38" height="2.05" fill="#b4d0e4" />
<rect x="198.4" y="448.6" width="18.38" height="2.05" fill="#9ec1de" />
<rect x="198.4" y="450.6" width="18.38" height="2.05" fill="#f8f6de" />
<rect x="198.4" y="452.6" width="18.38" height="2.05" fill="#d6e8f1" />
<rect x="198.4" y="454.6" width="18.38" height="2.05" fill="#b4d0e4" />
<rect x="198.4" y="456.6" width="18.38" height="2.05" fill="#9ec1de" />
<rect x="198.4" y="458.6" width="18.38" height="2.05" fill="#f8f6de" />
<rect x="198.4" y="460.6" width="18.38" height="2.05" fill="#d6e8f1" />
<rect x="198.4" y="462.6" width="18.38" height="2.05" fill="#fbf0c4" />
<rect x="198.4" y="464.6" width="18.38" height="2.05" fill="#fde29c" />
<rect x="198.4" y="466.6" width="18.38" height="2.05" fill="#d6e8f1" />
<rect x="198.4" y="468.6" width="18.38" height="2.05" fill="#fbf0c4" />
<rect x="198.4" y="470.6" width="18.38" height="2.05" fill="#fcc584" />
<rect x="198.4" y="472.6" width="18.38" height="4.05" fill="#f8f6de" />
<rect x="198.4" y="476.6" width="18.38" height="2.05" fill="#fbf0c4" />
<rect x="198.4" y="478.6" width="18.38" height="2.05" fill="#fde29c" />
<rect x="198.4" y="480.6" width="18.38" height="2.05" fill="#f8f6de" />
<rect x="198.4" y="482.6" width="18.38" height="4.05" fill="#ee7444" />
<rect x="198.4" y="486.6" width="18.38" height="2.05" fill="#f8a062" />
<rect x="198.4" y="488.6" width="18.38" height="2.05" fill="#f8f6de" />
<rect x="198.4" y="490.6" width="18.38" height="2.05" fill="#fbf0c4" />
<rect x="198.4" y="492.6" width="18.38" height="2.05" fill="#f8a062" />
<rect x="198.4" y="494.6" width="18.38" height="2.05" fill="#f8f6de" />
<rect x="198.4" y="496.6" width="18.38" height="2.05" fill="#fde29c" />
<rect x="198.4" y="498.6" width="18.38" height="2.05" fill="#fcc584" />
<rect x="198.4" y="500.6" width="18.38" height="2.05" fill="#fbf0c4" />
<rect x="198.4" y="502.6" width="18.38" height="2.05" fill="#f8a062" />
<rect x="198.4" y="504.6" width="18.38" height="2.05" fill="#fbf0c4" />
<rect x="198.4" y="506.6" width="18.38" height="2.05" fill="#fde29c" />
<rect x="198.4" y="508.6" width="18.38" height="2.05" fill="#fbf0c4" />
<rect x="198.4" y="510.6" width="18.38" height="2.05" fill="#f8f6de" />
<rect x="198.4" y="512.6" width="18.38" height="16.05" fill="#e6f1f4" />
<rect x="198.4" y="528.6" width="18.38" height="2.05" fill="#d6e8f1" />
<rect x="198.4" y="530.6" width="18.38" height="12.05" fill="#e6f1f4" />
<rect x="198.4" y="542.6" width="18.38" height="2.05" fill="#d6e8f1" />
<rect x="198.4" y="544.6" width="18.38" height="2.05" fill="#b4d0e4" />
<rect x="216.73" y="434.6" width="18.38" height="2.05" fill="#f8f6de" />
<rect x="216.73" y="436.6" width="18.38" height="2.05" fill="#fcc584" />
<rect x="216.73" y="438.6" width="18.38" height="2.05" fill="#fbf0c4" />
<rect x="216.73" y="440.6" width="18.38" height="6.05" fill="#f8f6de" />
<rect x="216.73" y="446.6" width="18.38" height="2.05" fill="#b4d0e4" />
<rect x="216.73" y="448.6" width="18.38" height="6.05" fill="#9ec1de" />
<rect x="216.73" y="454.6" width="18.38" height="2.05" fill="#b4d0e4" />
<rect x="216.73" y="456.6" width="18.38" height="2.05" fill="#d6e8f1" />
<rect x="216.73" y="458.6" width="18.38" height="2.05" fill="#6b94c8" />
<rect x="216.73" y="460.6" width="18.38" height="2.05" fill="#b4d0e4" />
<rect x="216.73" y="462.6" width="18.38" height="2.05" fill="#d6e8f1" />
<rect x="216.73" y="464.6" width="18.38" height="2.05" fill="#fbf0c4" />
<rect x="216.73" y="466.6" width="18.38" height="2.05" fill="#d6e8f1" />
<rect x="216.73" y="468.6" width="18.38" height="2.05" fill="#f8f6de" />
<rect x="216.73" y="470.6" width="18.38" height="2.05" fill="#d6e8f1" />
<rect x="216.73" y="472.6" width="18.38" height="10.05" fill="#f8f6de" />
<rect x="216.73" y="482.6" width="18.38" height="6.05" fill="#fde29c" />
<rect x="216.73" y="488.6" width="18.38" height="2.05" fill="#f8f6de" />
<rect x="216.73" y="490.6" width="18.38" height="4.05" fill="#fbf0c4" />
<rect x="216.73" y="494.6" width="18.38" height="4.05" fill="#f8f6de" />
<rect x="216.73" y="498.6" width="18.38" height="2.05" fill="#d6e8f1" />
<rect x="216.73" y="500.6" width="18.38" height="2.05" fill="#f8f6de" />
<rect x="216.73" y="502.6" width="18.38" height="2.05" fill="#fbf0c4" />
<rect x="216.73" y="504.6" width="18.38" height="2.05" fill="#fde29c" />
<rect x="216.73" y="506.6" width="18.38" height="8.05" fill="#f8f6de" />
<rect x="216.73" y="514.6" width="18.38" height="18.05" fill="#fbf0c4" />
<rect x="216.73" y="532.6" width="18.38" height="2.05" fill="#f8f6de" />
<rect x="216.73" y="534.6" width="18.38" height="2.05" fill="#d6e8f1" />
<rect x="216.73" y="536.6" width="18.38" height="4.05" fill="#ee7444" />
<rect x="216.73" y="540.6" width="18.38" height="2.05" fill="#fcc584" />
<rect x="216.73" y="542.6" width="18.38" height="4.05" fill="#fbf0c4" />
<rect x="235.07" y="434.6" width="18.38" height="2.05" fill="#f8f6de" />
<rect x="235.07" y="436.6" width="18.38" height="2.05" fill="#fbf0c4" />
<rect x="235.07" y="438.6" width="18.38" height="2.05" fill="#f8f6de" />
<rect x="235.07" y="440.6" width="18.38" height="2.05" fill="#b4d0e4" />
<rect x="235.07" y="442.6" width="18.38" height="2.05" fill="#9ec1de" />
<rect x="235.07" y="444.6" width="18.38" height="2.05" fill="#d6e8f1" />
<rect x="235.07" y="446.6" width="18.38" height="6.05" fill="#b4d0e4" />
<rect x="235.07" y="452.6" width="18.38" height="2.05" fill="#d6e8f1" />
<rect x="235.07" y="454.6" width="18.38" height="4.05" fill="#b4d0e4" />
<rect x="235.07" y="458.6" width="18.38" height="2.05" fill="#d6e8f1" />
<rect x="235.07" y="460.6" width="18.38" height="2.05" fill="#f8f6de" />
<rect x="235.07" y="462.6" width="18.38" height="2.05" fill="#d6e8f1" />
<rect x="235.07" y="464.6" width="18.38" height="8.05" fill="#f8f6de" />
<rect x="235.07" y="472.6" width="18.38" height="2.05" fill="#fbf0c4" />
<rect x="235.07" y="474.6" width="18.38" height="2.05" fill="#fde29c" />
<rect x="235.07" y="476.6" width="18.38" height="2.05" fill="#f8f6de" />
<rect x="235.07" y="478.6" width="18.38" height="2.05" fill="#fde29c" />
<rect x="235.07" y="480.6" width="18.38" height="2.05" fill="#d6402a" />
<rect x="235.07" y="482.6" width="18.38" height="2.05" fill="#f8f6de" />
<rect x="235.07" y="484.6" width="18.38" height="2.05" fill="#9ec1de" />
<rect x="235.07" y="486.6" width="18.38" height="2.05" fill="#d6e8f1" />
<rect x="235.07" y="488.6" width="18.38" height="4.05" fill="#f8f6de" />
<rect x="235.07" y="492.6" width="18.38" height="2.05" fill="#fde29c" />
<rect x="235.07" y="494.6" width="18.38" height="2.05" fill="#fbf0c4" />
<rect x="235.07" y="496.6" width="18.38" height="2.05" fill="#f8f6de" />
<rect x="235.07" y="498.6" width="18.38" height="4.05" fill="#fbf0c4" />
<rect x="235.07" y="502.6" width="18.38" height="4.05" fill="#fde29c" />
<rect x="235.07" y="506.6" width="18.38" height="2.05" fill="#fbf0c4" />
<rect x="235.07" y="508.6" width="18.38" height="2.05" fill="#f8f6de" />
<rect x="235.07" y="510.6" width="18.38" height="6.05" fill="#fbf0c4" />
<rect x="235.07" y="516.6" width="18.38" height="2.05" fill="#f8f6de" />
<rect x="235.07" y="518.6" width="18.38" height="2.05" fill="#fbf0c4" />
<rect x="235.07" y="520.6" width="18.38" height="2.05" fill="#9ec1de" />
<rect x="235.07" y="522.6" width="18.38" height="12.05" fill="#fbf0c4" />
<rect x="235.07" y="534.6" width="18.38" height="2.05" fill="#d6e8f1" />
<rect x="235.07" y="536.6" width="18.38" height="2.05" fill="#f8f6de" />
<rect x="235.07" y="538.6" width="18.38" height="8.05" fill="#fbf0c4" />
<rect x="33.5" y="428.3" width="110.8" height="5.1" fill="#3fb5bd" />
<rect x="144.3" y="428.3" width="109.1" height="5.1" fill="#ef8480" />
<text x="255.4" y="432.96" font-size="6" text-anchor="start" font-weight="normal" font-style="normal" fill="#333" stroke="#333" stroke-width="0.12" >group</text>
<path d="M42.5 408.8L42.5 428.3 M42.5 408.8L95.4 408.8 M60.4 400.3L60.4 428.3 M95.4 408.8L95.4 411.7 M79.4 411.7L79.4 428.3 M79.4 411.7L111.3 411.7 M111.3 411.7L111.3 414.2 M97.4 414.2L125.1 414.2 M97.4 414.2L97.4 428.3 M125.1 414.2L125.1 416.6 M115.9 416.6L134.6 416.6 M115.9 416.6L115.9 428.3 M134.6 416.6L134.6 428.3 M60.4 400.3L189.7 400.3 M189.7 400.3L189.7 407.3 M161.2 407.3L216.2 407.3 M161.2 407.3L161.2 412.6 M152 412.6L170.5 412.6 M152 412.6L152 428.3 M170.5 412.6L170.5 428.3 M216.2 407.3L216.2 411.5 M198.9 411.5L235.2 411.5 M198.9 411.5L198.9 415 M189.7 415L207.4 415 M189.7 415L189.7 428.3 M207.4 415L207.4 428.3 M235.2 411.5L235.2 412.4 M225.9 412.4L244.6 412.4 M225.9 412.4L225.9 428.3 M244.6 412.4L244.6 428.3" stroke="#555" stroke-width="0.75" fill="none"/>
<path d="M22.99 435.6L22.99 437.6M22.99 435.6L33 435.6M22.99 437.6L33 437.6M25.42 439.6L25.42 441.6M25.42 439.6L33 439.6M25.42 441.6L33 441.6M20.14 436.6L20.14 440.6M20.14 436.6L22.99 436.6M20.14 440.6L25.42 440.6M23.7 443.6L23.7 445.6M23.7 443.6L33 443.6M23.7 445.6L33 445.6M23.53 451.6L23.53 453.6M23.53 451.6L33 451.6M23.53 453.6L33 453.6M21.3 449.6L21.3 452.6M21.3 449.6L33 449.6M21.3 452.6L23.53 452.6M17.93 447.6L17.93 451.1M17.93 447.6L33 447.6M17.93 451.1L21.3 451.1M15.27 444.6L15.27 449.35M15.27 444.6L23.7 444.6M15.27 449.35L17.93 449.35M14.43 438.6L14.43 446.98M14.43 438.6L20.14 438.6M14.43 446.98L15.27 446.98M24.39 457.6L24.39 459.6M24.39 457.6L33 457.6M24.39 459.6L33 459.6M22.56 455.6L22.56 458.6M22.56 455.6L33 455.6M22.56 458.6L24.39 458.6M23.29 461.6L23.29 463.6M23.29 461.6L33 461.6M23.29 463.6L33 463.6M23.57 465.6L23.57 467.6M23.57 465.6L33 465.6M23.57 467.6L33 467.6M19.01 466.6L19.01 469.6M19.01 466.6L23.57 466.6M19.01 469.6L33 469.6M17.33 462.6L17.33 468.1M17.33 462.6L23.29 462.6M17.33 468.1L19.01 468.1M15.25 457.1L15.25 465.35M15.25 457.1L22.56 457.1M15.25 465.35L17.33 465.35M23.4 471.6L23.4 473.6M23.4 471.6L33 471.6M23.4 473.6L33 473.6M19.67 472.6L19.67 475.6M19.67 472.6L23.4 472.6M19.67 475.6L33 475.6M24.84 477.6L24.84 479.6M24.84 477.6L33 477.6M24.84 479.6L33 479.6M18.19 474.1L18.19 478.6M18.19 474.1L19.67 474.1M18.19 478.6L24.84 478.6M14.24 461.23L14.24 476.35M14.24 461.23L15.25 461.23M14.24 476.35L18.19 476.35M23.16 483.6L23.16 485.6M23.16 483.6L33 483.6M23.16 485.6L33 485.6M20.48 481.6L20.48 484.6M20.48 481.6L33 481.6M20.48 484.6L23.16 484.6M24.68 487.6L24.68 489.6M24.68 487.6L33 487.6M24.68 489.6L33 489.6M23.27 491.6L23.27 493.6M23.27 491.6L33 491.6M23.27 493.6L33 493.6M21.19 492.6L21.19 495.6M21.19 492.6L23.27 492.6M21.19 495.6L33 495.6M18.71 488.6L18.71 494.1M18.71 488.6L24.68 488.6M18.71 494.1L21.19 494.1M17.52 483.1L17.52 491.35M17.52 483.1L20.48 483.1M17.52 491.35L18.71 491.35M12.56 468.79L12.56 487.23M12.56 468.79L14.24 468.79M12.56 487.23L17.52 487.23M9.49 442.79L9.49 478.01M9.49 442.79L14.43 442.79M9.49 478.01L12.56 478.01M25.65 497.6L25.65 499.6M25.65 497.6L33 497.6M25.65 499.6L33 499.6M23.13 498.6L23.13 501.6M23.13 498.6L25.65 498.6M23.13 501.6L33 501.6M20.75 500.1L20.75 503.6M20.75 500.1L23.13 500.1M20.75 503.6L33 503.6M22.17 507.6L22.17 509.6M22.17 507.6L33 507.6M22.17 509.6L33 509.6M19.65 505.6L19.65 508.6M19.65 505.6L33 505.6M19.65 508.6L22.17 508.6M17.33 501.85L17.33 507.1M17.33 501.85L20.75 501.85M17.33 507.1L19.65 507.1M24.69 511.6L24.69 513.6M24.69 511.6L33 511.6M24.69 513.6L33 513.6M22.38 512.6L22.38 515.6M22.38 512.6L24.69 512.6M22.38 515.6L33 515.6M23.37 517.6L23.37 519.6M23.37 517.6L33 517.6M23.37 519.6L33 519.6M24.13 521.6L24.13 523.6M24.13 521.6L33 521.6M24.13 523.6L33 523.6M21.14 518.6L21.14 522.6M21.14 518.6L23.37 518.6M21.14 522.6L24.13 522.6M18.06 514.1L18.06 520.6M18.06 514.1L22.38 514.1M18.06 520.6L21.14 520.6M15.35 504.48L15.35 517.35M15.35 504.48L17.33 504.48M15.35 517.35L18.06 517.35M22.51 529.6L22.51 531.6M22.51 529.6L33 529.6M22.51 531.6L33 531.6M19.66 527.6L19.66 530.6M19.66 527.6L33 527.6M19.66 530.6L22.51 530.6M17.92 525.6L17.92 529.1M17.92 525.6L33 525.6M17.92 529.1L19.66 529.1M21.78 533.6L21.78 535.6M21.78 533.6L33 533.6M21.78 535.6L33 535.6M17.57 534.6L17.57 537.6M17.57 534.6L21.78 534.6M17.57 537.6L33 537.6M23.57 541.6L23.57 543.6M23.57 541.6L33 541.6M23.57 543.6L33 543.6M21.19 542.6L21.19 545.6M21.19 542.6L23.57 542.6M21.19 545.6L33 545.6M17.66 539.6L17.66 544.1M17.66 539.6L33 539.6M17.66 544.1L21.19 544.1M16.49 536.1L16.49 541.85M16.49 536.1L17.57 536.1M16.49 541.85L17.66 541.85M14.68 527.35L14.68 538.98M14.68 527.35L17.92 527.35M14.68 538.98L16.49 538.98M12.82 510.91L12.82 533.16M12.82 510.91L15.35 510.91M12.82 533.16L14.68 533.16M6.5 460.4L6.5 522.04M6.5 460.4L9.49 460.4M6.5 522.04L12.82 522.04" stroke="#444" stroke-width="0.6" fill="none"/>
<text x="255.4" y="436.54" font-size="2.6" text-anchor="start" font-weight="normal" font-style="normal" fill="#555" stroke="#555" stroke-width="0.12" >9ENZB</text>
<text x="255.4" y="438.54" font-size="2.6" text-anchor="start" font-weight="normal" font-style="normal" fill="#555" stroke="#555" stroke-width="0.12" >5VD</text>
<text x="255.4" y="440.54" font-size="2.6" text-anchor="start" font-weight="normal" font-style="normal" fill="#555" stroke="#555" stroke-width="0.12" >WB8TG</text>
<text x="255.4" y="442.54" font-size="2.6" text-anchor="start" font-weight="normal" font-style="normal" fill="#555" stroke="#555" stroke-width="0.12" >CPP</text>
<text x="255.4" y="444.54" font-size="2.6" text-anchor="start" font-weight="normal" font-style="normal" fill="#555" stroke="#555" stroke-width="0.12" >HCV</text>
<text x="255.4" y="446.54" font-size="2.6" text-anchor="start" font-weight="normal" font-style="normal" fill="#555" stroke="#555" stroke-width="0.12" >B5WD9H</text>
<text x="255.4" y="448.54" font-size="2.6" text-anchor="start" font-weight="normal" font-style="normal" fill="#555" stroke="#555" stroke-width="0.12" >WWN</text>
<text x="255.4" y="450.54" font-size="2.6" text-anchor="start" font-weight="normal" font-style="normal" fill="#555" stroke="#555" stroke-width="0.12" >HBV</text>
<text x="255.4" y="452.54" font-size="2.6" text-anchor="start" font-weight="normal" font-style="normal" fill="#555" stroke="#555" stroke-width="0.12" >KPEV</text>
<text x="255.4" y="454.54" font-size="2.6" text-anchor="start" font-weight="normal" font-style="normal" fill="#555" stroke="#555" stroke-width="0.12" >WKV</text>
<text x="255.4" y="456.54" font-size="2.6" text-anchor="start" font-weight="normal" font-style="normal" fill="#555" stroke="#555" stroke-width="0.12" >DWWZ</text>
<text x="255.4" y="458.54" font-size="2.6" text-anchor="start" font-weight="normal" font-style="normal" fill="#555" stroke="#555" stroke-width="0.12" >MDV1</text>
<text x="255.4" y="460.54" font-size="2.6" text-anchor="start" font-weight="normal" font-style="normal" fill="#555" stroke="#555" stroke-width="0.12" >WBX</text>
<text x="255.4" y="462.54" font-size="2.6" text-anchor="start" font-weight="normal" font-style="normal" fill="#555" stroke="#555" stroke-width="0.12" >S0VP</text>
<text x="255.4" y="464.54" font-size="2.6" text-anchor="start" font-weight="normal" font-style="normal" fill="#555" stroke="#555" stroke-width="0.12" >RW8RM</text>
<text x="255.4" y="466.54" font-size="2.6" text-anchor="start" font-weight="normal" font-style="normal" fill="#555" stroke="#555" stroke-width="0.12" >H4F13</text>
<text x="255.4" y="468.54" font-size="2.6" text-anchor="start" font-weight="normal" font-style="normal" fill="#555" stroke="#555" stroke-width="0.12" >CWKT</text>
<text x="255.4" y="470.54" font-size="2.6" text-anchor="start" font-weight="normal" font-style="normal" fill="#555" stroke="#555" stroke-width="0.12" >7L2RKX</text>
<text x="255.4" y="472.54" font-size="2.6" text-anchor="start" font-weight="normal" font-style="normal" fill="#555" stroke="#555" stroke-width="0.12" >DTP</text>
<text x="255.4" y="474.54" font-size="2.6" text-anchor="start" font-weight="normal" font-style="normal" fill="#555" stroke="#555" stroke-width="0.12" >3LE8</text>
<text x="255.4" y="476.54" font-size="2.6" text-anchor="start" font-weight="normal" font-style="normal" fill="#555" stroke="#555" stroke-width="0.12" >PB90C3</text>
<text x="255.4" y="478.54" font-size="2.6" text-anchor="start" font-weight="normal" font-style="normal" fill="#555" stroke="#555" stroke-width="0.12" >L1MXS</text>
<text x="255.4" y="480.54" font-size="2.6" text-anchor="start" font-weight="normal" font-style="normal" fill="#555" stroke="#555" stroke-width="0.12" >C5C9IS</text>
<text x="255.4" y="482.54" font-size="2.6" text-anchor="start" font-weight="normal" font-style="normal" fill="#555" stroke="#555" stroke-width="0.12" >B21</text>
<text x="255.4" y="484.54" font-size="2.6" text-anchor="start" font-weight="normal" font-style="normal" fill="#555" stroke="#555" stroke-width="0.12" >ZW05R</text>
<text x="255.4" y="486.54" font-size="2.6" text-anchor="start" font-weight="normal" font-style="normal" fill="#555" stroke="#555" stroke-width="0.12" >1N70M</text>
<text x="255.4" y="488.54" font-size="2.6" text-anchor="start" font-weight="normal" font-style="normal" fill="#555" stroke="#555" stroke-width="0.12" >9RM</text>
<text x="255.4" y="490.54" font-size="2.6" text-anchor="start" font-weight="normal" font-style="normal" fill="#555" stroke="#555" stroke-width="0.12" >XDSB</text>
<text x="255.4" y="492.54" font-size="2.6" text-anchor="start" font-weight="normal" font-style="normal" fill="#555" stroke="#555" stroke-width="0.12" >3KE2</text>
<text x="255.4" y="494.54" font-size="2.6" text-anchor="start" font-weight="normal" font-style="normal" fill="#555" stroke="#555" stroke-width="0.12" >NN86</text>
<text x="255.4" y="496.54" font-size="2.6" text-anchor="start" font-weight="normal" font-style="normal" fill="#555" stroke="#555" stroke-width="0.12" >CFRNVI</text>
<text x="255.4" y="498.54" font-size="2.6" text-anchor="start" font-weight="normal" font-style="normal" fill="#555" stroke="#555" stroke-width="0.12" >5P6V</text>
<text x="255.4" y="500.54" font-size="2.6" text-anchor="start" font-weight="normal" font-style="normal" fill="#555" stroke="#555" stroke-width="0.12" >1PM07</text>
<text x="255.4" y="502.54" font-size="2.6" text-anchor="start" font-weight="normal" font-style="normal" fill="#555" stroke="#555" stroke-width="0.12" >9HECFE</text>
<text x="255.4" y="504.54" font-size="2.6" text-anchor="start" font-weight="normal" font-style="normal" fill="#555" stroke="#555" stroke-width="0.12" >0HAS</text>
<text x="255.4" y="506.54" font-size="2.6" text-anchor="start" font-weight="normal" font-style="normal" fill="#555" stroke="#555" stroke-width="0.12" >IKAE</text>
<text x="255.4" y="508.54" font-size="2.6" text-anchor="start" font-weight="normal" font-style="normal" fill="#555" stroke="#555" stroke-width="0.12" >VMXWL9</text>
<text x="255.4" y="510.54" font-size="2.6" text-anchor="start" font-weight="normal" font-style="normal" fill="#555" stroke="#555" stroke-width="0.12" >16T9</text>
<text x="255.4" y="512.54" font-size="2.6" text-anchor="start" font-weight="normal" font-style="normal" fill="#555" stroke="#555" stroke-width="0.12" >R76</text>
<text x="255.4" y="514.54" font-size="2.6" text-anchor="start" font-weight="normal" font-style="normal" fill="#555" stroke="#555" stroke-width="0.12" >NNNDSZ</text>
<text x="255.4" y="516.54" font-size="2.6" text-anchor="start" font-weight="normal" font-style="normal" fill="#555" stroke="#555" stroke-width="0.12" >BGCGRF</text>
<text x="255.4" y="518.54" font-size="2.6" text-anchor="start" font-weight="normal" font-style="normal" fill="#555" stroke="#555" stroke-width="0.12" >LXB</text>
<text x="255.4" y="520.54" font-size="2.6" text-anchor="start" font-weight="normal" font-style="normal" fill="#555" stroke="#555" stroke-width="0.12" >AWE</text>
<text x="255.4" y="522.54" font-size="2.6" text-anchor="start" font-weight="normal" font-style="normal" fill="#555" stroke="#555" stroke-width="0.12" >9MX</text>
<text x="255.4" y="524.54" font-size="2.6" text-anchor="start" font-weight="normal" font-style="normal" fill="#555" stroke="#555" stroke-width="0.12" >C6G</text>
<text x="255.4" y="526.54" font-size="2.6" text-anchor="start" font-weight="normal" font-style="normal" fill="#555" stroke="#555" stroke-width="0.12" >EZI9MX</text>
<text x="255.4" y="528.54" font-size="2.6" text-anchor="start" font-weight="normal" font-style="normal" fill="#555" stroke="#555" stroke-width="0.12" >SDD6S</text>
<text x="255.4" y="530.54" font-size="2.6" text-anchor="start" font-weight="normal" font-style="normal" fill="#555" stroke="#555" stroke-width="0.12" >SSKCED</text>
<text x="255.4" y="532.54" font-size="2.6" text-anchor="start" font-weight="normal" font-style="normal" fill="#555" stroke="#555" stroke-width="0.12" >2IS51</text>
<text x="255.4" y="534.54" font-size="2.6" text-anchor="start" font-weight="normal" font-style="normal" fill="#555" stroke="#555" stroke-width="0.12" >TAG9</text>
<text x="255.4" y="536.54" font-size="2.6" text-anchor="start" font-weight="normal" font-style="normal" fill="#555" stroke="#555" stroke-width="0.12" >E1V8A</text>
<text x="255.4" y="538.54" font-size="2.6" text-anchor="start" font-weight="normal" font-style="normal" fill="#555" stroke="#555" stroke-width="0.12" >Z6C16</text>
<text x="255.4" y="540.54" font-size="2.6" text-anchor="start" font-weight="normal" font-style="normal" fill="#555" stroke="#555" stroke-width="0.12" >TM8FM</text>
<text x="255.4" y="542.54" font-size="2.6" text-anchor="start" font-weight="normal" font-style="normal" fill="#555" stroke="#555" stroke-width="0.12" >VV3T</text>
<text x="255.4" y="544.54" font-size="2.6" text-anchor="start" font-weight="normal" font-style="normal" fill="#555" stroke="#555" stroke-width="0.12" >ZHX44</text>
<text x="255.4" y="546.54" font-size="2.6" text-anchor="start" font-weight="normal" font-style="normal" fill="#555" stroke="#555" stroke-width="0.12" >4H5N</text>
<rect x="265" y="503.6" width="3.6" height="1.2" fill="#d03050" />
<defs><linearGradient id="cbG" x1="0" y1="0" x2="0" y2="1"><stop offset="0" stop-color="#d73027"/><stop offset="0.17" stop-color="#f46d43"/><stop offset="0.33" stop-color="#fdae61"/><stop offset="0.47" stop-color="#fee090"/><stop offset="0.6" stop-color="#ffffbf"/><stop offset="0.72" stop-color="#e0f3f8"/><stop offset="0.85" stop-color="#91bfdb"/><stop offset="1" stop-color="#4575b4"/></linearGradient></defs>
<rect x="272.2" y="428" width="4.5" height="75.6" fill="url(#cbG)" />
<text x="278.4" y="433.16" font-size="6" text-anchor="start" font-weight="normal" font-style="normal" fill="#333" stroke="#333" stroke-width="0.12" >3</text>
<text x="278.4" y="447.56" font-size="6" text-anchor="start" font-weight="normal" font-style="normal" fill="#333" stroke="#333" stroke-width="0.12" >2</text>
<text x="278.4" y="462.16" font-size="6" text-anchor="start" font-weight="normal" font-style="normal" fill="#333" stroke="#333" stroke-width="0.12" >1</text>
<text x="278.4" y="476.06" font-size="6" text-anchor="start" font-weight="normal" font-style="normal" fill="#333" stroke="#333" stroke-width="0.12" >0</text>
<text x="278.4" y="490.66" font-size="6" text-anchor="start" font-weight="normal" font-style="normal" fill="#333" stroke="#333" stroke-width="0.12" >-1</text>
<text x="278.4" y="504.86" font-size="6" text-anchor="start" font-weight="normal" font-style="normal" fill="#333" stroke="#333" stroke-width="0.12" >-2</text>
<text x="283.8" y="431.96" font-size="6" text-anchor="start" font-weight="normal" font-style="normal" fill="#333" stroke="#333" stroke-width="0.12" >group</text>
<rect x="283.8" y="434.2" width="8" height="5.8" fill="#3fb5bd" />
<rect x="283.8" y="441" width="8" height="6" fill="#ef8480" />
<text x="292.7" y="439.16" font-size="6" text-anchor="start" font-weight="normal" font-style="normal" fill="#333" stroke="#333" stroke-width="0.12" >CLL</text>
<text x="292.7" y="446.16" font-size="6" text-anchor="start" font-weight="normal" font-style="normal" fill="#333" stroke="#333" stroke-width="0.12" >NBC</text>
<text x="320.8" y="395.59" font-size="10.4" text-anchor="start" font-weight="bold" font-style="normal" fill="#000" stroke="#000" stroke-width="0.25" >H</text>
<text x="360" y="414.77" font-size="7.7" text-anchor="end" font-weight="normal" font-style="normal" fill="#222" stroke="#222" stroke-width="0.12" >H3K4me1</text>
<line x1="363.8" y1="403.8" x2="363.8" y2="419.6" stroke="#333" stroke-width="0.9" />
<text x="380.8" y="407.96" font-size="6" text-anchor="end" font-weight="normal" font-style="normal" fill="#222" stroke="#222" stroke-width="0.12" >NBC</text>
<text x="380.5" y="420.16" font-size="6" text-anchor="end" font-weight="normal" font-style="normal" fill="#222" stroke="#222" stroke-width="0.12" >CLL</text>
<text x="360" y="438.17" font-size="7.7" text-anchor="end" font-weight="normal" font-style="normal" fill="#222" stroke="#222" stroke-width="0.12" >H3K4me3</text>
<line x1="363.8" y1="427.3" x2="363.8" y2="443" stroke="#333" stroke-width="0.9" />
<text x="380.8" y="431.76" font-size="6" text-anchor="end" font-weight="normal" font-style="normal" fill="#222" stroke="#222" stroke-width="0.12" >NBC</text>
<text x="380.5" y="443.16" font-size="6" text-anchor="end" font-weight="normal" font-style="normal" fill="#222" stroke="#222" stroke-width="0.12" >CLL</text>
<text x="360" y="461.27" font-size="7.7" text-anchor="end" font-weight="normal" font-style="normal" fill="#222" stroke="#222" stroke-width="0.12" >H3K9me3</text>
<line x1="363.8" y1="450.8" x2="363.8" y2="466.2" stroke="#333" stroke-width="0.9" />
<text x="380.8" y="454.96" font-size="6" text-anchor="end" font-weight="normal" font-style="normal" fill="#222" stroke="#222" stroke-width="0.12" >NBC</text>
<text x="380.5" y="466.36" font-size="6" text-anchor="end" font-weight="normal" font-style="normal" fill="#222" stroke="#222" stroke-width="0.12" >CLL</text>
<text x="360" y="481.97" font-size="7.7" text-anchor="end" font-weight="normal" font-style="normal" fill="#222" stroke="#222" stroke-width="0.12" >H3K27me3</text>
<line x1="363.8" y1="472.3" x2="363.8" y2="487" stroke="#333" stroke-width="0.9" />
<text x="380.8" y="475.96" font-size="6" text-anchor="end" font-weight="normal" font-style="normal" fill="#222" stroke="#222" stroke-width="0.12" >NBC</text>
<text x="380.5" y="486.76" font-size="6" text-anchor="end" font-weight="normal" font-style="normal" fill="#222" stroke="#222" stroke-width="0.12" >CLL</text>
<text x="360" y="502.77" font-size="7.7" text-anchor="end" font-weight="normal" font-style="normal" fill="#222" stroke="#222" stroke-width="0.12" >H3K27ac</text>
<line x1="363.8" y1="492.3" x2="363.8" y2="508.5" stroke="#333" stroke-width="0.9" />
<text x="380.8" y="497.16" font-size="6" text-anchor="end" font-weight="normal" font-style="normal" fill="#222" stroke="#222" stroke-width="0.12" >NBC</text>
<text x="380.5" y="509.16" font-size="6" text-anchor="end" font-weight="normal" font-style="normal" fill="#222" stroke="#222" stroke-width="0.12" >CLL</text>
<text x="360" y="527.37" font-size="7.7" text-anchor="end" font-weight="normal" font-style="normal" fill="#222" stroke="#222" stroke-width="0.12" >H3K36me3</text>
<line x1="363.8" y1="516.2" x2="363.8" y2="532.3" stroke="#333" stroke-width="0.9" />
<text x="380.8" y="520.66" font-size="6" text-anchor="end" font-weight="normal" font-style="normal" fill="#222" stroke="#222" stroke-width="0.12" >NBC</text>
<text x="380.5" y="532.16" font-size="6" text-anchor="end" font-weight="normal" font-style="normal" fill="#222" stroke="#222" stroke-width="0.12" >CLL</text>
<text x="382.8" y="408.62" font-size="5.9" text-anchor="start" font-weight="normal" font-style="normal" fill="#333" stroke="#333" stroke-width="0.12" >[0-100]</text>
<text x="382.8" y="420.92" font-size="5.9" text-anchor="start" font-weight="normal" font-style="normal" fill="#333" stroke="#333" stroke-width="0.12" >[0-100]</text>
<text x="382.8" y="430.92" font-size="5.9" text-anchor="start" font-weight="normal" font-style="normal" fill="#333" stroke="#333" stroke-width="0.12" >[0-200]</text>
<text x="382.8" y="440.12" font-size="5.9" text-anchor="start" font-weight="normal" font-style="normal" fill="#333" stroke="#333" stroke-width="0.12" >[0-200]</text>
<text x="382.8" y="451.82" font-size="5.9" text-anchor="start" font-weight="normal" font-style="normal" fill="#333" stroke="#333" stroke-width="0.12" >[0-5]</text>
<text x="382.8" y="460.92" font-size="5.9" text-anchor="start" font-weight="normal" font-style="normal" fill="#333" stroke="#333" stroke-width="0.12" >[0-5]</text>
<text x="382.8" y="472.12" font-size="5.9" text-anchor="start" font-weight="normal" font-style="normal" fill="#333" stroke="#333" stroke-width="0.12" >[0-15]</text>
<text x="382.8" y="484.92" font-size="5.9" text-anchor="start" font-weight="normal" font-style="normal" fill="#333" stroke="#333" stroke-width="0.12" >[0-15]</text>
<text x="382.8" y="494.92" font-size="5.9" text-anchor="start" font-weight="normal" font-style="normal" fill="#333" stroke="#333" stroke-width="0.12" >[0-25]</text>
<text x="382.8" y="505.32" font-size="5.9" text-anchor="start" font-weight="normal" font-style="normal" fill="#333" stroke="#333" stroke-width="0.12" >[0-25]</text>
<text x="382.8" y="515.32" font-size="5.9" text-anchor="start" font-weight="normal" font-style="normal" fill="#333" stroke="#333" stroke-width="0.12" >[0-15]</text>
<text x="382.8" y="525.62" font-size="5.9" text-anchor="start" font-weight="normal" font-style="normal" fill="#333" stroke="#333" stroke-width="0.12" >[0-15]</text>
<text x="492.9" y="396.66" font-size="6" text-anchor="middle" font-weight="normal" font-style="normal" fill="#222" stroke="#222" stroke-width="0.12" >5 Kb</text>
<line x1="479.2" y1="399.2" x2="507" y2="399.2" stroke="#444" stroke-width="1" />
<line x1="383" y1="402.4" x2="512.3" y2="402.4" stroke="#c8c8c8" stroke-width="0.6" />
<line x1="383" y1="413.8" x2="512.3" y2="413.8" stroke="#e2e2e2" stroke-width="0.5" />
<line x1="383" y1="424.5" x2="512.3" y2="424.5" stroke="#e2e2e2" stroke-width="0.5" />
<line x1="383" y1="434.9" x2="512.3" y2="434.9" stroke="#e2e2e2" stroke-width="0.5" />
<line x1="383" y1="445.7" x2="512.3" y2="445.7" stroke="#e2e2e2" stroke-width="0.5" />
<line x1="383" y1="456.5" x2="512.3" y2="456.5" stroke="#e2e2e2" stroke-width="0.5" />
<line x1="383" y1="467.3" x2="512.3" y2="467.3" stroke="#e2e2e2" stroke-width="0.5" />
<line x1="383" y1="477.3" x2="512.3" y2="477.3" stroke="#e2e2e2" stroke-width="0.5" />
<line x1="383" y1="488.3" x2="512.3" y2="488.3" stroke="#e2e2e2" stroke-width="0.5" />
<line x1="383" y1="498.8" x2="512.3" y2="498.8" stroke="#e2e2e2" stroke-width="0.5" />
<line x1="383" y1="510" x2="512.3" y2="510" stroke="#e2e2e2" stroke-width="0.5" />
<line x1="383" y1="520.3" x2="512.3" y2="520.3" stroke="#e2e2e2" stroke-width="0.5" />
<line x1="383" y1="530.6" x2="512.3" y2="530.6" stroke="#e2e2e2" stroke-width="0.5" />
<path d="M383 413.5L383 413.5L403.5 413.5L404 413.45L404.5 413.17L405 412.47L405.5 412L406 412.47L406.5 412.09L407 410.42L407.5 409.5L408 410.42L408.5 412.09L409 411.03L409.5 408.1L410 406.5L410.5 408.1L411 408L411.5 405.5L412 408L412.5 409.03L413 407L413.5 409.03L414 412.05L414.5 410.42L415 409.5L415.5 410.42L416 412.09L416.5 411.19L417 410.5L417.5 411.19L418 411.91L418.5 410.03L419 409L419.5 410.03L420 411.74L420.5 409.65L421 408.5L421.5 409.65L422 411.74L422.5 409.03L423 407L423.5 409.03L424 412.05L424.5 409.38L425 407.5L425.5 409.38L426 411.94L426.5 408.69L427 406.5L427.5 408.69L428 408.46L428.5 405.5L429 408.46L429.5 409.03L430 407L430.5 409.03L431 412.05L431.5 410.41L432 409L432.5 410.41L433 412.49L433.5 410.93L434 410L434.5 410.93L435 412.49L435.5 410.41L436 409L436.5 410.41L437 412.5L437.5 411.09L438 410L438.5 411.09L439 412.63L439.5 411.3L440 410.5L440.5 411.3L441 412.63L441.5 411.09L442 410L442.5 411.09L443 412.72L443.5 411.78L444 411L444.5 411.78L445 412.92L445.5 412.03L446 411.5L446.5 412.03L447 412.92L447.5 411.78L448 411L448.5 411.78L449 412.94L449.5 412.47L450 412L450.5 412.47L451 413.17L451.5 412.95L452 412.7L452.5 412.95L453 413.32L453.5 413.47L459.5 413.49L460 413.47L460.5 413.39L461 413.24L461.5 413.08L462 413L462.5 413.08L463 413.24L463.5 413.39L464 413.47L464.5 413.39L465 413.24L465.5 413.08L466 413L466.5 413.08L467 413.24L467.5 413.39L468 413.47L468.5 413.41L469 413.29L469.5 413.16L470 413.1L470.5 413.16L471 413.29L471.5 413.41L472 413.47L486 413.47L486.5 413.41L487 413.29L487.5 413.16L488 413.1L488.5 413.16L489 413.29L489.5 413.41L490 413.47L499 413.5L499.5 413.43L500 413.05L500.5 412.13L501 411.5L501.5 412.13L502 412.9L502.5 411.11L503 409.7L503.5 411.11L504 412.9L504.5 411.93L505 411L505.5 411.93L506 413.11L506.5 412.68L507 412.3L507.5 412.68L508 413.23L508.5 413.09L509 412.9L509.5 413.09L510 413.37L510.5 413.48L512 413.5L512.3 413.5Z" fill="#22308a" opacity="1"/>
<path d="M383 424.2L383 424.2L409 424.2L409.5 424.17L410 424L410.5 423.58L411 423.3L411.5 423.58L412 423.58L412.5 423.3L413 423.58L413.5 424L414 424.17L414.5 424.2L429.5 424.2L430 424.16L430.5 423.98L431 423.8L431.5 423.98L432 424.16L432.5 424.2L447.5 424.19L448 424.1L448.5 423.64L449 423.2L449.5 423.64L450 424.1L450.5 423.75L451 423.4L451.5 423.75L452 424.11L452.5 423.7L453 423.3L453.5 423.7L454 424.11L454.5 424.2L460.5 424.2L461 424.12L461.5 423.75L462 423.4L462.5 423.75L463 424.11L463.5 423.7L464 423.3L464.5 423.7L465 424.11L465.5 424.2L501.5 424.18L502 424.04L502.5 423.57L503 423.2L503.5 423.57L504 424.04L504.5 423.7L505 423.3L505.5 423.7L506 424.11L506.5 424.2L512 424.2L512.3 424.2Z" fill="#22308a" opacity="1"/>
<path d="M383 434.6L383 434.6L447 434.58L447.5 434.5L448 434.25L448.5 433.83L449 433.6L449.5 433.83L450 433.72L450.5 432.67L451 432.1L451.5 432.67L452 433.71L452.5 431.85L453 430.6L453.5 431.85L454 433.58L454.5 430.51L455 428.1L455.5 430.51L456 428.68L456.5 427.7L457 432.86L457.5 431.26L458 428.6L458.5 431.26L459 431.37L459.5 428.8L460 431.37L460.5 432.54L461 431.6L461.5 432.54L462 433.93L462.5 433.91L463 433.6L463.5 433.91L464 434.38L464.5 434.57L465 434.6L512 434.6L512.3 434.6Z" fill="#e5173c" opacity="1"/>
<path d="M383 445.4L383 445.4L452.5 445.38L453 445.27L453.5 444.99L454 444.8L454.5 444.99L455 445.2L455.5 444.78L456 444.5L456.5 444.78L457 445.2L457.5 445.24L458 444.92L458.5 444.7L459 444.92L459.5 445.24L460 445.38L512 445.4L512.3 445.4Z" fill="#e5173c" opacity="1"/>
<rect x="410.2" y="454.2" width="0.7" height="2" fill="#27984a" />
<rect x="412.2" y="454.2" width="0.7" height="2" fill="#27984a" />
<rect x="425.5" y="455.2" width="0.7" height="1" fill="#27984a" />
<rect x="427.5" y="455.2" width="0.7" height="1" fill="#27984a" />
<rect x="454" y="454.2" width="1" height="2" fill="#27984a" />
<rect x="455" y="455.2" width="4.5" height="1" fill="#27984a" />
<rect x="463.5" y="455.4" width="0.8" height="0.8" fill="#27984a" />
<rect x="465.2" y="455.4" width="0.7" height="0.8" fill="#27984a" />
<rect x="487" y="454.2" width="0.7" height="2" fill="#27984a" />
<rect x="511.3" y="450.7" width="1" height="5.5" fill="#27984a" />
<rect x="410.5" y="465.5" width="0.7" height="1.5" fill="#27984a" />
<rect x="417.8" y="465.5" width="0.6" height="1.5" fill="#27984a" />
<rect x="421" y="463" width="1" height="4" fill="#27984a" />
<rect x="422" y="459.5" width="1" height="7.5" fill="#27984a" />
<rect x="423" y="464" width="1.5" height="3" fill="#27984a" />
<rect x="424.5" y="462.5" width="1" height="4.5" fill="#27984a" />
<rect x="425.5" y="464.5" width="1.5" height="2.5" fill="#27984a" />
<rect x="427" y="462" width="1" height="5" fill="#27984a" />
<rect x="428" y="459.2" width="1.5" height="7.8" fill="#27984a" />
<rect x="429.5" y="463.5" width="1.5" height="3.5" fill="#27984a" />
<rect x="431" y="465" width="1.5" height="2" fill="#27984a" />
<rect x="432.5" y="466" width="1" height="1" fill="#27984a" />
<rect x="443" y="465" width="1.2" height="2" fill="#27984a" />
<rect x="445" y="465.5" width="1" height="1.5" fill="#27984a" />
<rect x="448" y="466" width="1" height="1" fill="#27984a" />
<rect x="454" y="465" width="1" height="2" fill="#27984a" />
<rect x="455" y="463.5" width="1.5" height="3.5" fill="#27984a" />
<rect x="456.5" y="462" width="1" height="5" fill="#27984a" />
<rect x="457.5" y="464" width="1.5" height="3" fill="#27984a" />
<rect x="459" y="465" width="1.5" height="2" fill="#27984a" />
<rect x="473" y="465" width="1.2" height="2" fill="#27984a" />
<rect x="475.5" y="465.5" width="1.5" height="1.5" fill="#27984a" />
<rect x="477.5" y="465.5" width="1" height="1.5" fill="#27984a" />
<rect x="392" y="476.4" width="1.5" height="0.6" fill="#bbbbbb" />
<rect x="409" y="476.4" width="1.5" height="0.6" fill="#bbbbbb" />
<rect x="445" y="476.4" width="1.5" height="0.6" fill="#bbbbbb" />
<rect x="455" y="476.4" width="1.5" height="0.6" fill="#bbbbbb" />
<rect x="472" y="476.4" width="1.5" height="0.6" fill="#bbbbbb" />
<path d="M383 488L383 488L418 488L418.5 487.95L419 487.53L419.5 487L420 487.53L420.5 487.95L421 486.2L421.5 486.2L422 485L422.5 486.2L423 486.2L423.5 486.2L424 483L424.5 486.2L425 486.2L425.5 485L426 486.2L426.5 485.81L427 481.8L427.5 485.81L428 486.2L428.5 483.39L429 482.1L429.5 486.2L430 486.2L430.5 485.25L431 484.61L431.5 486.2L432 486.2L432.5 486.63L433 487L433.5 485.89L434 486.87L434.5 487L435 487L435.5 486.5L436 487L436.5 487L437 487L437.5 485.8L438 487L438.5 487L439 486.5L439.5 487L440 486.67L440.5 485.51L441 487L441.5 487L442 486.2L442.5 487L443 485.94L443.5 485.46L444 487L444.5 487L445 486L445.5 487L446 486.76L446.5 484.5L447 486.76L447.5 486.26L448 482L448.5 486.26L449 485.59L449.5 485.04L450 485.84L450.5 483.97L451 487L451.5 487L452 486.28L452.5 485.88L453 487L453.5 487L454 483.6L454.5 484.43L455 486.76L455.5 484.5L456 486.76L456.5 484.11L457 484.84L457.5 487L458 485.88L458.5 486.28L459 487L459.5 484.93L460 486.36L460.5 487L461 486L461.5 487L462 487L462.5 485.4L463 487L463.5 487L464 486.5L464.5 487L465 486.87L465.5 485.89L466 487L466.5 487L467 486.5L467.5 487L468 486.49L468.5 486.14L469 487L469.5 487L470 486.81L470.5 487L471 486.14L471.5 486.49L472 487L472.5 486.56L473 487L473.5 487L474 485.4L474.5 487L475 487L475.5 486.5L476 487L476.5 487L477 485.8L477.5 487L478 487L478.5 486.56L479 487L479.5 486.21L480 485.8L480.5 487L481 487L481.5 487.65L482 487.98L492 487.98L492.5 487.93L493 487.85L493.5 487.75L494 487.7L494.5 487.75L495 487.85L495.5 487.93L496 487.98L512 488L512.3 488Z" fill="#8a8a8a" opacity="1"/>
<path d="M383 498.5L383 498.5L394.5 498.48L395 498.37L395.5 498.09L396 497.9L396.5 498.09L397 498.37L397.5 498.48L400 498.49L400.5 498.4L401 497.94L401.5 497.5L402 497.94L402.5 498.4L403 498.1L403.5 497.04L404 496.86L404.5 497.93L405 498.01L405.5 496.72L406 496.5L406.5 497.8L407 497.49L407.5 495.59L408 495.91L408.5 497.61L409 494.96L409.5 495.46L410 496.71L410.5 493.26L411 495.19L411.5 498.05L412 497.01L412.5 495.3L413 497.01L413.5 498.05L414 496.88L414.5 496.68L415 497.87L415.5 498.14L416 497.2L416.5 497.04L417 497.99L417.5 498.14L418 497.2L418.5 497.04L419 497.99L419.5 497.88L420 496.02L420.5 496.37L421 497.09L421.5 494.5L422 497.09L422.5 491.56L423 492.86L423.5 495.68L424 493.22L424.5 496.55L425 494.3L425.5 496.55L426 498.15L426.5 496.6L427 496.29L427.5 497.94L428 498.19L428.5 496.83L429 496.55L429.5 498.01L430 498.38L430.5 497.83L431 497.3L431.5 497.83L432 498.38L432.5 498.31L433 497.39L433.5 496.5L434 497.39L434.5 498.31L435 497.44L435.5 495.4L436 496.54L436.5 497.34L437 496L437.5 497.34L438 497.48L438.5 496.3L439 497.48L439.5 498.4L440 498.4L440.5 497.94L441 497.5L441.5 497.94L442 498.4L442.5 498.42L443 498.05L443.5 497.7L444 498.05L444.5 498.42L445 498.4L445.5 497.94L446 497.5L446.5 497.94L447 498.4L447.5 498.49L448 498.35L448.5 497.01L449 495.3L449.5 497.01L450 497.2L450.5 495.7L451 497.2L451.5 496.73L452 494.7L452.5 496.73L453 498.32L453.5 496.87L454 495L454.5 496.87L455 498.1L455.5 494.51L456 493.59L456.5 497.75L457 497.95L457.5 494.94L458 495.61L458.5 498.01L459 495.28L459.5 495.89L460 497.21L460.5 492.94L461 495.52L461.5 497.34L462 496L462.5 497.34L463 497.76L463.5 496.9L464 497.76L464.5 498.4L465 497.94L465.5 497.5L466 497.94L466.5 498.23L467 497.53L467.5 497.41L468 498.12L468.5 498.46L469 498.44L469.5 498.17L470 497.9L470.5 498.17L471 498.44L471.5 498.5L472.5 498.5L473 498.45L473.5 498.22L474 498L474.5 498.22L475 498.45L475.5 498.5L476.5 498.5L477 498.44L477.5 498.17L478 497.9L478.5 498.17L479 498.44L479.5 498.5L480.5 498.5L481 498.44L481.5 498.17L482 497.9L482.5 498.17L483 498.44L483.5 498.5L488 498.5L488.5 498.42L489 497.66L489.5 496.7L490 497.66L490.5 498.05L491 496.07L491.5 495.67L492 497.79L492.5 497.34L493 496L493.5 497.34L494 497.8L494.5 497L495 497.8L495.5 498.43L496 498.5L497.5 498.49L498 498.4L498.5 497.94L499 497.5L499.5 497.94L500 498.31L500.5 497.39L501 496.5L501.5 497.39L502 496.72L502.5 495.3L503 496.72L503.5 496.41L504 494L504.5 496.41L505 496.45L505.5 492.7L506 496.45L506.5 496.87L507 495L507.5 496.87L508 497.67L508.5 497L509 497.67L509.5 498.17L510 497.9L510.5 498.17L511 498.44L511.5 498.5L512 498.5L512.3 498.5Z" fill="#7c1f7a" opacity="1"/>
<path d="M383 509.5L383 509.5L393.5 509.5L394 509.44L394.5 509.17L395 508.9L395.5 509.17L396 509.44L396.5 509.5L401.5 509.49L402 509.38L402.5 508.83L403 508.3L403.5 508.83L404 509.35L404.5 508.61L405 507.9L405.5 508.61L406 509.35L406.5 508.83L407 508.3L407.5 508.83L408 509.38L408.5 509.37L409 508.72L409.5 508.1L410 508.72L410.5 509.37L411 508.94L411.5 508.5L412 508.94L412.5 509.4L413 509.49L416.5 509.49L417 509.4L417.5 508.94L418 508.5L418.5 508.94L419 509.35L419.5 508.61L420 507.9L420.5 508.61L421 509.35L421.5 508.83L422 508.3L422.5 508.83L423 509.35L423.5 508.61L424 507.9L424.5 508.61L425 509.35L425.5 508.83L426 508.3L426.5 508.83L427 509.38L427.5 509.05L428 508.7L428.5 509.05L429 509.42L429.5 509.5L431.5 509.5L432 509.43L432.5 509.11L433 508.8L433.5 509.11L434 509.43L434.5 509.5L435.5 509.5L436 509.41L436.5 509L437 508.6L437.5 509L438 509.41L438.5 509.5L439.5 509.5L440 509.43L440.5 509.11L441 508.8L441.5 509.11L442 509.43L442.5 509.5L443 509.42L443.5 509.05L444 508.7L444.5 509.05L445 509.42L445.5 509.5L449.5 509.5L450 509.42L450.5 508.66L451 507.7L451.5 508.66L452 509.37L452.5 508.2L453 506.7L453.5 508.2L454 508.23L454.5 505.9L455 508.23L455.5 508.44L456 506.5L456.5 508.44L457 508.57L457.5 507.5L458 508.57L458.5 509.38L459 508.83L459.5 508.3L460 508.83L460.5 509.38L461 509.49L462.5 509.5L463 509.42L463.5 509.05L464 508.7L464.5 509.05L465 509.42L465.5 509.5L466 509.41L466.5 509L467 508.6L467.5 509L468 509.41L468.5 509.5L471.5 509.5L472 509.45L472.5 509.22L473 509L473.5 509.22L474 509.45L474.5 509.5L477.5 509.5L478 509.43L478.5 509.11L479 508.8L479.5 509.11L480 509.43L480.5 509.5L481.5 509.5L482 509.42L482.5 509.05L483 508.7L483.5 509.05L484 509.42L484.5 509.5L488.5 509.49L489 509.38L489.5 508.83L490 508.3L490.5 508.83L491 509.38L491.5 508.94L492 508.5L492.5 508.94L493 509.4L493.5 509.49L494 509.42L494.5 509.05L495 508.7L495.5 509.05L496 509.42L496.5 509.5L499.5 509.49L500 509.36L500.5 508.67L501 508L501.5 508.67L502 509.36L502.5 508.34L503 507L503.5 508.34L504 508.1L504.5 506.5L505 508.1L505.5 508.34L506 507L506.5 508.34L507 509.35L507.5 508.61L508 507.9L508.5 508.61L509 509.05L509.5 508.7L510 509.05L510.5 509.42L511 509.5L512 509.5L512.3 509.5Z" fill="#7c1f7a" opacity="1"/>
<path d="M383 520L383 520L406 520L406.5 519.83L407 518.28L407.5 517.88L408 519.43L408.5 514.67L409 515.84L409.5 516.61L410 517.25L410.5 515.72L411 517.96L411.5 517.12L412 518.46L412.5 516.6L413 518.8L413.5 518.49L414 518.14L414.5 519.71L415 518.87L415.5 517.89L416 519.51L416.5 519.82L417 518.81L417.5 519.04L418 519.9L418.5 519.71L419 518.14L419.5 518.49L420 519.73L420.5 518.85L421 519.38L421.5 519.44L422 518.4L422.5 519.44L423 519.98L424 519.98L424.5 519.13L425 517L425.5 519.13L426 517.87L426.5 518.34L427 519.89L427.5 519.63L428 519.2L428.5 519.63L429 519.96L429.5 520L430 519.95L430.5 519.72L431 519.5L431.5 519.72L432 519.95L432.5 520L433.5 519.99L434 519.51L434.5 517.89L435 518.87L435.5 519.53L436 519L436.5 519.53L437 519.95L437.5 520L438 520L438.5 519.92L439 518.87L439.5 517.89L440 519.51L440.5 519.18L441 518.98L441.5 519.84L442 518.49L442.5 518.14L443 519.65L443.5 519L444 519.65L444.5 519.98L453.5 520L454 519.82L454.5 518.21L455 517.8L455.5 518.9L456 518.65L456.5 518.14L457 518.49L457.5 519.85L458 519.65L458.5 519L459 519.65L459.5 519.98L460 519.99L460.5 519.71L461 518.14L461.5 518.49L462 519.15L462.5 519.31L463 519.93L463.5 520L486 519.99L486.5 519.9L487 519.44L487.5 519L488 519.44L488.5 519.9L489 519.99L507.5 520L508 519.94L508.5 519.67L509 519.4L509.5 519.67L510 519.94L510.5 520L512 520L512.3 520Z" fill="#1c6a66" opacity="1"/>
<rect x="411" y="529.5" width="2" height="0.8" fill="#1e5a58" />
<rect x="414.5" y="529.5" width="2" height="0.8" fill="#1e5a58" />
<rect x="423.5" y="529.1" width="1.7" height="1.2" fill="#1e5a58" />
<rect x="451" y="529.5" width="1.5" height="0.8" fill="#1e5a58" />
<rect x="461" y="528.7" width="2.3" height="1.6" fill="#1e5a58" />
<rect x="478" y="529.7" width="1" height="0.6" fill="#1e5a58" />
<rect x="482.5" y="529.4" width="1.5" height="0.9" fill="#1e5a58" />
<rect x="494" y="529.7" width="1" height="0.6" fill="#1e5a58" />
<line x1="383" y1="534.6" x2="512.3" y2="534.6" stroke="#444" stroke-width="0.6" />
<circle cx="385.5" cy="534.6" r="0.55" fill="#333" />
<circle cx="393.35" cy="534.6" r="0.55" fill="#333" />
<circle cx="401.2" cy="534.6" r="0.55" fill="#333" />
<circle cx="409.05" cy="534.6" r="0.55" fill="#333" />
<circle cx="416.9" cy="534.6" r="0.55" fill="#333" />
<circle cx="424.75" cy="534.6" r="0.55" fill="#333" />
<circle cx="432.6" cy="534.6" r="0.55" fill="#333" />
<circle cx="440.45" cy="534.6" r="0.55" fill="#333" />
<circle cx="448.3" cy="534.6" r="0.55" fill="#333" />
<circle cx="456.15" cy="534.6" r="0.55" fill="#333" />
<circle cx="464" cy="534.6" r="0.55" fill="#333" />
<circle cx="471.85" cy="534.6" r="0.55" fill="#333" />
<circle cx="479.7" cy="534.6" r="0.55" fill="#333" />
<circle cx="487.55" cy="534.6" r="0.55" fill="#333" />
<circle cx="495.4" cy="534.6" r="0.55" fill="#333" />
<circle cx="503.25" cy="534.6" r="0.55" fill="#333" />
<circle cx="511.1" cy="534.6" r="0.55" fill="#333" />
<text x="415.5" y="540.9" font-size="3.9" text-anchor="middle" font-weight="normal" font-style="normal" fill="#444" stroke="#444" stroke-width="0.12" >NR_024489.1</text>
<line x1="406.5" y1="543.5" x2="462.5" y2="543.5" stroke="#111" stroke-width="0.6" />
<rect x="406.5" y="542.2" width="7.7" height="2.6" fill="#111" />
<rect x="411" y="541.5" width="3" height="4" fill="#111" />
<line x1="425.7" y1="541.7" x2="425.7" y2="545.3" stroke="#111" stroke-width="0.8" />
<path d="M418 542.5 l1 1 l-1 1" stroke="#222" stroke-width="0.4" fill="none"/>
<path d="M423.5 542.5 l1 1 l-1 1" stroke="#222" stroke-width="0.4" fill="none"/>
<path d="M429 542.5 l1 1 l-1 1" stroke="#222" stroke-width="0.4" fill="none"/>
<path d="M434.5 542.5 l1 1 l-1 1" stroke="#222" stroke-width="0.4" fill="none"/>
<path d="M440 542.5 l1 1 l-1 1" stroke="#222" stroke-width="0.4" fill="none"/>
<path d="M445.5 542.5 l1 1 l-1 1" stroke="#222" stroke-width="0.4" fill="none"/>
<path d="M451 542.5 l1 1 l-1 1" stroke="#222" stroke-width="0.4" fill="none"/>
<path d="M456.5 542.5 l1 1 l-1 1" stroke="#222" stroke-width="0.4" fill="none"/>
<path d="M463 543.5 l-1.5 -1.1 v2.2 Z" fill="#111"/>
<text x="449.4" y="553.29" font-size="8.3" text-anchor="middle" font-weight="normal" font-style="italic" fill="#333" stroke="#333" stroke-width="0.12" >CLCF1</text>
<rect x="0.6" y="0.6" width="518.8" height="559.8" fill="none" stroke="#4a4a4a" stroke-width="1.3"/>
</svg></body></html>
